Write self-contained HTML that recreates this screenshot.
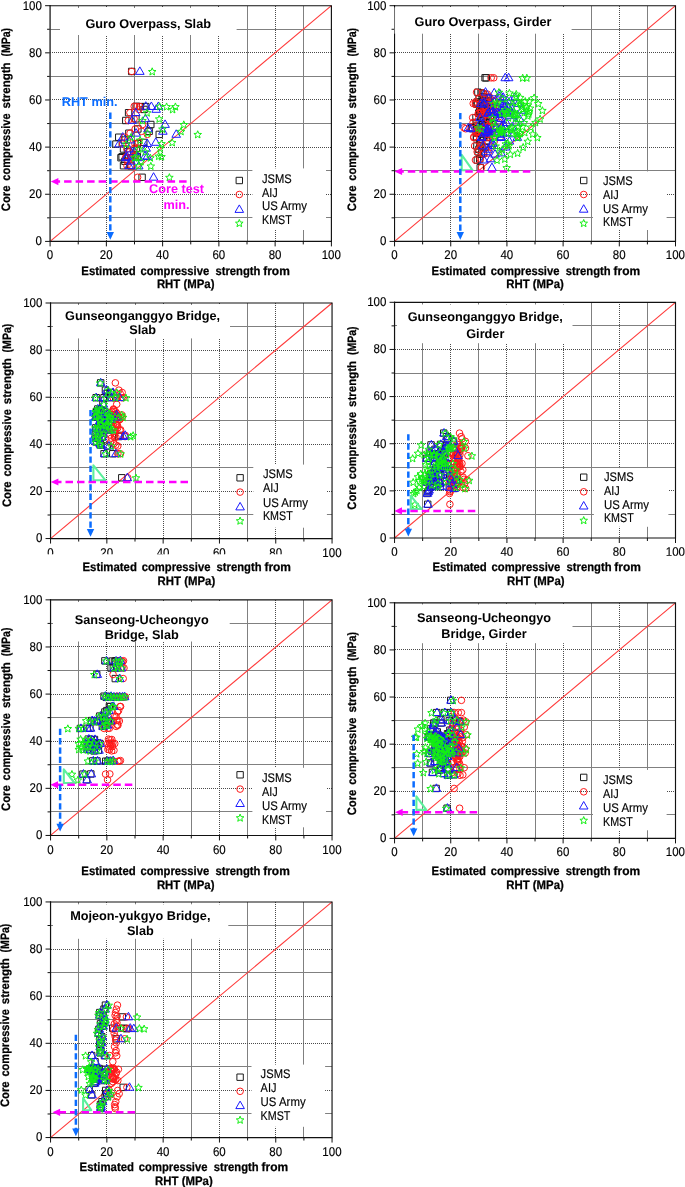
<!DOCTYPE html>
<html lang="en"><head><meta charset="utf-8"><title>RHT vs core compressive strength</title>
<style>
html,body{margin:0;padding:0;background:#fff}
body{width:685px;height:1187px;overflow:hidden}
svg{display:block;will-change:transform;text-rendering:geometricPrecision}
text{font-family:"Liberation Sans", Arial, Helvetica, sans-serif;fill:#000}
.gmin{stroke:#808080;stroke-width:1;fill:none}
.gmaj{stroke:#4a4a4a;stroke-width:1;stroke-dasharray:1 1;fill:none}
.diag{stroke:#ff3a3a;stroke-width:1.1;fill:none}
.mJ{stroke-width:1;stroke:#1c1c1c;fill:none}
.mA{stroke-width:1;stroke:#ff1a1a;fill:none}
.mU{stroke-width:1;stroke:#1a1aff;fill:none;stroke-linejoin:miter}
.mK{stroke-width:1;stroke:#12f012;fill:none;stroke-linejoin:miter}
.gtri{stroke:#5cf09c;stroke-width:2.1;fill:none;stroke-linejoin:round}
.mag{stroke:#ff00ff;stroke-width:2.5;stroke-dasharray:7.5 4;fill:none}
.blu{stroke:#0a6cff;stroke-width:2.5;stroke-dasharray:6.3 3;fill:none}
.tk{stroke:#111;stroke-width:1;fill:none}
.fr{stroke:#111;stroke-width:1.15;fill:none}
.tl{font-size:12.7px;stroke:#000;stroke-width:.15}
.at{font-size:12.2px;font-weight:bold;stroke:#000;stroke-width:.25}
.yt{font-size:12.2px;font-weight:bold;stroke:#000;stroke-width:.25}
.ti{font-size:12.7px;font-weight:bold;fill:#000}
.an{font-size:12.7px;font-weight:bold}
.ab{fill:#0a6cff}
.am{fill:#ff00ff}
.lg{font-size:12.6px;stroke:#000;stroke-width:.15}
</style></head><body>
<svg width="685" height="1187" viewBox="0 0 685 1187">
<rect width="685" height="1187" fill="#fff"/>
<defs>
<clipPath id="clip3"><path d="M0 0H685V554.3H0ZM320 554.3H685V590H320Z"/></clipPath>
<clipPath id="clip4"><path d="M0 0H685V555.7H0ZM685 555.7H685V590H685Z"/></clipPath>
</defs>
<g id="plot1">
<path d="M78.5 6V241.4M50 217.5H331.4M134.5 6V241.4M50 170.5H331.4M190.5 6V241.4M50 123.5H331.4M247.5 6V241.4M50 76.5H331.4M303.5 6V241.4M50 29.5H331.4" class="gmin"/>
<path d="M106.5 6V241.4M50 194.5H331.4M162.5 6V241.4M50 147.5H331.4M218.5 6V241.4M50 99.5H331.4M275.5 6V241.4M50 52.5H331.4" class="gmaj"/>
<rect x="60" y="8" width="176.6" height="27" fill="#fff"/>
<rect x="252.4" y="168.4" width="73.6" height="61.6" fill="#fff"/>
<path d="M50.1 241.4L331.4 5.7" class="diag"/>
<path d="M128.48 68.26h6.4v6.4h-6.4ZM138.89 174.09h6.4v6.4h-6.4ZM142.54 103.38h6.4v6.4h-6.4ZM137.2 103.38h6.4v6.4h-6.4ZM125.38 109.51h6.4v6.4h-6.4ZM122.57 117.29h6.4v6.4h-6.4ZM147.61 121.29h6.4v6.4h-6.4ZM134.67 125.77h6.4v6.4h-6.4ZM115.54 134.02h6.4v6.4h-6.4ZM156.04 131.19h6.4v6.4h-6.4ZM112.72 140.86h6.4v6.4h-6.4ZM140.57 139.21h6.4v6.4h-6.4ZM120.32 145.81h6.4v6.4h-6.4ZM117.79 154.53h6.4v6.4h-6.4ZM120.32 162.54h6.4v6.4h-6.4ZM127.35 154.53h6.4v6.4h-6.4ZM125.66 130.01h6.4v6.4h-6.4ZM145.92 128.13h6.4v6.4h-6.4ZM140.85 106.21h6.4v6.4h-6.4ZM134.1 153.35h6.4v6.4h-6.4ZM133.26 145.1h6.4v6.4h-6.4ZM134.1 140.38h6.4v6.4h-6.4ZM132.42 152.88h6.4v6.4h-6.4ZM127.63 162.78h6.4v6.4h-6.4ZM118.91 153.58h6.4v6.4h-6.4ZM121.73 158.06h6.4v6.4h-6.4ZM124.26 148.63h6.4v6.4h-6.4ZM132.7 115.64h6.4v6.4h-6.4ZM132.98 103.14h6.4v6.4h-6.4ZM121.16 136.85h6.4v6.4h-6.4ZM236.1 177.3h6.4v6.4h-6.4Z" class="mJ"/>
<path d="M128.38 71.46a3.3 3.3 0 1 0 6.6 0a3.3 3.3 0 1 0 -6.6 0ZM134.31 177.29a3.3 3.3 0 1 0 6.6 0a3.3 3.3 0 1 0 -6.6 0ZM136.39 106.58a3.3 3.3 0 1 0 6.6 0a3.3 3.3 0 1 0 -6.6 0ZM133.35 106.58a3.3 3.3 0 1 0 6.6 0a3.3 3.3 0 1 0 -6.6 0ZM126.61 112.71a3.3 3.3 0 1 0 6.6 0a3.3 3.3 0 1 0 -6.6 0ZM125.01 120.49a3.3 3.3 0 1 0 6.6 0a3.3 3.3 0 1 0 -6.6 0ZM139.28 124.49a3.3 3.3 0 1 0 6.6 0a3.3 3.3 0 1 0 -6.6 0ZM131.9 128.97a3.3 3.3 0 1 0 6.6 0a3.3 3.3 0 1 0 -6.6 0ZM121 137.22a3.3 3.3 0 1 0 6.6 0a3.3 3.3 0 1 0 -6.6 0ZM144.09 134.39a3.3 3.3 0 1 0 6.6 0a3.3 3.3 0 1 0 -6.6 0ZM119.4 144.06a3.3 3.3 0 1 0 6.6 0a3.3 3.3 0 1 0 -6.6 0ZM135.27 142.41a3.3 3.3 0 1 0 6.6 0a3.3 3.3 0 1 0 -6.6 0ZM123.73 149.01a3.3 3.3 0 1 0 6.6 0a3.3 3.3 0 1 0 -6.6 0ZM122.28 157.73a3.3 3.3 0 1 0 6.6 0a3.3 3.3 0 1 0 -6.6 0ZM123.73 165.74a3.3 3.3 0 1 0 6.6 0a3.3 3.3 0 1 0 -6.6 0ZM127.74 157.73a3.3 3.3 0 1 0 6.6 0a3.3 3.3 0 1 0 -6.6 0ZM126.77 133.21a3.3 3.3 0 1 0 6.6 0a3.3 3.3 0 1 0 -6.6 0ZM138.32 131.33a3.3 3.3 0 1 0 6.6 0a3.3 3.3 0 1 0 -6.6 0ZM135.43 109.41a3.3 3.3 0 1 0 6.6 0a3.3 3.3 0 1 0 -6.6 0ZM131.58 156.55a3.3 3.3 0 1 0 6.6 0a3.3 3.3 0 1 0 -6.6 0ZM131.1 148.3a3.3 3.3 0 1 0 6.6 0a3.3 3.3 0 1 0 -6.6 0ZM131.58 143.58a3.3 3.3 0 1 0 6.6 0a3.3 3.3 0 1 0 -6.6 0ZM130.62 156.08a3.3 3.3 0 1 0 6.6 0a3.3 3.3 0 1 0 -6.6 0ZM127.9 165.98a3.3 3.3 0 1 0 6.6 0a3.3 3.3 0 1 0 -6.6 0ZM122.93 156.78a3.3 3.3 0 1 0 6.6 0a3.3 3.3 0 1 0 -6.6 0ZM124.53 161.26a3.3 3.3 0 1 0 6.6 0a3.3 3.3 0 1 0 -6.6 0ZM125.97 151.83a3.3 3.3 0 1 0 6.6 0a3.3 3.3 0 1 0 -6.6 0ZM130.78 118.84a3.3 3.3 0 1 0 6.6 0a3.3 3.3 0 1 0 -6.6 0ZM130.94 106.34a3.3 3.3 0 1 0 6.6 0a3.3 3.3 0 1 0 -6.6 0ZM124.21 140.05a3.3 3.3 0 1 0 6.6 0a3.3 3.3 0 1 0 -6.6 0ZM236 194.5a3.3 3.3 0 1 0 6.6 0a3.3 3.3 0 1 0 -6.6 0Z" class="mA"/>
<path d="M139.83 66.86L135.53 74.36L144.13 74.36ZM153.57 172.69L149.27 180.19L157.87 180.19ZM158.4 101.98L154.1 109.48L162.7 109.48ZM151.35 101.98L147.05 109.48L155.65 109.48ZM135.75 108.11L131.45 115.61L140.05 115.61ZM132.04 115.89L127.74 123.39L136.34 123.39ZM165.08 119.89L160.78 127.39L169.38 127.39ZM148 124.37L143.7 131.87L152.3 131.87ZM122.75 132.62L118.45 140.12L127.05 140.12ZM176.22 129.79L171.92 137.29L180.52 137.29ZM119.04 139.46L114.74 146.96L123.34 146.96ZM155.8 137.81L151.5 145.31L160.1 145.31ZM129.07 144.41L124.77 151.91L133.37 151.91ZM125.72 153.13L121.42 160.63L130.02 160.63ZM129.07 161.14L124.77 168.64L133.37 168.64ZM138.35 153.13L134.05 160.63L142.65 160.63ZM136.12 128.61L131.82 136.11L140.42 136.11ZM162.86 126.73L158.56 134.23L167.16 134.23ZM156.17 104.81L151.87 112.31L160.47 112.31ZM147.26 151.95L142.96 159.45L151.56 159.45ZM146.15 143.7L141.85 151.2L150.45 151.2ZM147.26 138.98L142.96 146.48L151.56 146.48ZM145.03 151.48L140.73 158.98L149.33 158.98ZM138.72 161.38L134.42 168.88L143.02 168.88ZM127.21 152.18L122.91 159.68L131.51 159.68ZM130.92 156.66L126.62 164.16L135.22 164.16ZM134.26 147.23L129.96 154.73L138.56 154.73ZM145.4 114.24L141.1 121.74L149.7 121.74ZM145.78 101.74L141.48 109.24L150.08 109.24ZM130.18 135.45L125.88 142.95L134.48 142.95ZM239.3 204.9L235 212.4L243.6 212.4Z" class="mU"/>
<path d="M152.21 67.81L153.24 70.39L156.02 70.57L153.88 72.35L154.56 75.05L152.21 73.56L149.86 75.05L150.55 72.35L148.41 70.57L151.18 70.39ZM169.39 173.64L170.41 176.22L173.19 176.4L171.05 178.18L171.74 180.88L169.39 179.39L167.03 180.88L167.72 178.18L165.58 176.4L168.36 176.22ZM175.42 102.93L176.45 105.51L179.22 105.69L177.08 107.47L177.77 110.17L175.42 108.68L173.07 110.17L173.75 107.47L171.61 105.69L174.39 105.51ZM166.6 102.93L167.63 105.51L170.4 105.69L168.26 107.47L168.95 110.17L166.6 108.68L164.25 110.17L164.94 107.47L162.8 105.69L165.57 105.51ZM147.11 109.06L148.13 111.64L150.91 111.82L148.77 113.6L149.46 116.29L147.11 114.81L144.76 116.29L145.44 113.6L143.3 111.82L146.08 111.64ZM142.46 116.84L143.49 119.42L146.27 119.6L144.13 121.38L144.82 124.07L142.46 122.59L140.11 124.07L140.8 121.38L138.66 119.6L141.44 119.42ZM183.77 120.84L184.8 123.43L187.58 123.61L185.44 125.38L186.12 128.08L183.77 126.59L181.42 128.08L182.11 125.38L179.97 123.61L182.75 123.43ZM162.42 125.32L163.45 127.91L166.23 128.09L164.09 129.86L164.77 132.56L162.42 131.07L160.07 132.56L160.76 129.86L158.62 128.09L161.39 127.91ZM130.86 133.57L131.89 136.15L134.67 136.33L132.53 138.11L133.21 140.81L130.86 139.32L128.51 140.81L129.2 138.11L127.06 136.33L129.83 136.15ZM197.7 130.74L198.73 133.33L201.5 133.51L199.36 135.28L200.05 137.98L197.7 136.49L195.35 137.98L196.03 135.28L193.89 133.51L196.67 133.33ZM126.22 140.41L127.25 142.99L130.02 143.17L127.88 144.95L128.57 147.64L126.22 146.16L123.87 147.64L124.56 144.95L122.42 143.17L125.19 142.99ZM172.17 138.76L173.2 141.34L175.97 141.52L173.83 143.3L174.52 145.99L172.17 144.51L169.82 145.99L170.51 143.3L168.37 141.52L171.14 141.34ZM138.75 145.36L139.78 147.94L142.56 148.12L140.42 149.9L141.1 152.59L138.75 151.11L136.4 152.59L137.09 149.9L134.95 148.12L137.72 147.94ZM134.57 154.08L135.6 156.66L138.38 156.84L136.24 158.62L136.93 161.31L134.57 159.83L132.22 161.31L132.91 158.62L130.77 156.84L133.55 156.66ZM138.75 162.09L139.78 164.67L142.56 164.85L140.42 166.63L141.1 169.33L138.75 167.84L136.4 169.33L137.09 166.63L134.95 164.85L137.72 164.67ZM150.36 154.08L151.38 156.66L154.16 156.84L152.02 158.62L152.71 161.31L150.36 159.83L148 161.31L148.69 158.62L146.55 156.84L149.33 156.66ZM147.57 129.56L148.6 132.15L151.37 132.33L149.23 134.1L149.92 136.8L147.57 135.31L145.22 136.8L145.91 134.1L143.77 132.33L146.54 132.15ZM180.99 127.68L182.02 130.26L184.79 130.44L182.65 132.22L183.34 134.91L180.99 133.43L178.64 134.91L179.32 132.22L177.18 130.44L179.96 130.26ZM172.63 105.76L173.66 108.34L176.44 108.52L174.3 110.3L174.99 112.99L172.63 111.51L170.28 112.99L170.97 110.3L168.83 108.52L171.61 108.34ZM161.49 152.9L162.52 155.48L165.3 155.66L163.16 157.44L163.85 160.13L161.49 158.65L159.14 160.13L159.83 157.44L157.69 155.66L160.47 155.48ZM160.1 144.65L161.13 147.23L163.91 147.41L161.77 149.19L162.45 151.88L160.1 150.4L157.75 151.88L158.44 149.19L156.3 147.41L159.07 147.23ZM161.49 139.93L162.52 142.52L165.3 142.7L163.16 144.48L163.85 147.17L161.49 145.68L159.14 147.17L159.83 144.48L157.69 142.7L160.47 142.52ZM158.71 152.43L159.74 155.01L162.51 155.19L160.37 156.97L161.06 159.66L158.71 158.18L156.36 159.66L157.05 156.97L154.91 155.19L157.68 155.01ZM150.82 162.33L151.85 164.91L154.62 165.09L152.48 166.87L153.17 169.56L150.82 168.08L148.47 169.56L149.16 166.87L147.02 165.09L149.79 164.91ZM136.43 153.13L137.46 155.72L140.24 155.9L138.1 157.67L138.78 160.37L136.43 158.88L134.08 160.37L134.77 157.67L132.63 155.9L135.4 155.72ZM141.07 157.61L142.1 160.2L144.88 160.38L142.74 162.15L143.42 164.85L141.07 163.36L138.72 164.85L139.41 162.15L137.27 160.38L140.04 160.2ZM145.25 148.18L146.28 150.77L149.05 150.95L146.91 152.72L147.6 155.42L145.25 153.93L142.9 155.42L143.59 152.72L141.45 150.95L144.22 150.77ZM159.17 115.19L160.2 117.77L162.98 117.95L160.84 119.73L161.53 122.42L159.17 120.94L156.82 122.42L157.51 119.73L155.37 117.95L158.15 117.77ZM159.64 102.69L160.67 105.28L163.44 105.46L161.3 107.23L161.99 109.93L159.64 108.44L157.29 109.93L157.97 107.23L155.83 105.46L158.61 105.28ZM140.14 136.4L141.17 138.98L143.95 139.16L141.81 140.94L142.5 143.64L140.14 142.15L137.79 143.64L138.48 140.94L136.34 139.16L139.12 138.98ZM239.3 219.45L240.33 222.03L243.1 222.21L240.96 223.99L241.65 226.69L239.3 225.2L236.95 226.69L237.64 223.99L235.5 222.21L238.27 222.03Z" class="mK"/>
<path d="M186.6 181.53H57.8" class="mag"/>
<path d="M50.8 181.53l7.6 -3.6v7.2Z" fill="#ff00ff"/>
<path d="M110.3 112.6V233.5" class="blu"/>
<path d="M110.3 239.8l-3.7 -7.8h7.4Z" fill="#0a6cff"/>
<path d="M50.1 241.4v5M50.1 241.4h-5M78.23 241.4v3M50.1 217.83h-3M106.36 241.4v5M50.1 194.26h-5M134.49 241.4v3M50.1 170.69h-3M162.62 241.4v5M50.1 147.12h-5M190.75 241.4v3M50.1 123.55h-3M218.88 241.4v5M50.1 99.98h-5M247.01 241.4v3M50.1 76.41h-3M275.14 241.4v5M50.1 52.84h-5M303.27 241.4v3M50.1 29.27h-3M331.4 241.4v5M50.1 5.7h-5" class="tk"/>
<path d="M50.1 5.1V242" stroke="#3a3a3a" stroke-width="1.5" fill="none"/>
<path d="M49.5 5.7H331.4V241.4H49.5" class="fr"/>
<text x="46.8" y="259" class="tl" textLength="6.4" lengthAdjust="spacingAndGlyphs">0</text>
<text x="99.86" y="259" class="tl" textLength="12.8" lengthAdjust="spacingAndGlyphs">20</text>
<text x="156.12" y="259" class="tl" textLength="12.8" lengthAdjust="spacingAndGlyphs">40</text>
<text x="212.38" y="259" class="tl" textLength="12.8" lengthAdjust="spacingAndGlyphs">60</text>
<text x="268.64" y="259" class="tl" textLength="12.8" lengthAdjust="spacingAndGlyphs">80</text>
<text x="321.7" y="259" class="tl" textLength="19.2" lengthAdjust="spacingAndGlyphs">100</text>
<text x="35.5" y="245.3" class="tl" textLength="6.4" lengthAdjust="spacingAndGlyphs">0</text>
<text x="29.1" y="198.16" class="tl" textLength="12.8" lengthAdjust="spacingAndGlyphs">20</text>
<text x="29.1" y="151.02" class="tl" textLength="12.8" lengthAdjust="spacingAndGlyphs">40</text>
<text x="29.1" y="103.88" class="tl" textLength="12.8" lengthAdjust="spacingAndGlyphs">60</text>
<text x="29.1" y="56.74" class="tl" textLength="12.8" lengthAdjust="spacingAndGlyphs">80</text>
<text x="22.7" y="9.6" class="tl" textLength="19.2" lengthAdjust="spacingAndGlyphs">100</text>
<text x="81.3" y="274.9" class="at" textLength="54.4" lengthAdjust="spacingAndGlyphs">Estimated</text>
<text x="140.5" y="274.9" class="at" textLength="68.7" lengthAdjust="spacingAndGlyphs">compressive</text>
<text x="215.4" y="274.9" class="at" textLength="45" lengthAdjust="spacingAndGlyphs">strength</text>
<text x="263.2" y="274.9" class="at" textLength="26.6" lengthAdjust="spacingAndGlyphs">from</text>
<text x="156.9" y="288.4" class="at" textLength="57.6" lengthAdjust="spacingAndGlyphs">RHT (MPa)</text>
<g transform="translate(10.1 211.2) rotate(-90)">
<text x="0" y="0" class="yt" textLength="25.6" lengthAdjust="spacingAndGlyphs">Core</text>
<text x="30.5" y="0" class="yt" textLength="67.3" lengthAdjust="spacingAndGlyphs">compressive</text>
<text x="102.8" y="0" class="yt" textLength="46" lengthAdjust="spacingAndGlyphs">strength</text>
<text x="154.6" y="0" class="yt" textLength="28.7" lengthAdjust="spacingAndGlyphs">(MPa)</text>
</g>
<text x="148.2" y="28" class="ti" text-anchor="middle">Guro Overpass, Slab</text>
<text x="262" y="182.7" class="lg" textLength="29.8" lengthAdjust="spacingAndGlyphs">JSMS</text>
<text x="262" y="196.9" class="lg" textLength="15.8" lengthAdjust="spacingAndGlyphs">AIJ</text>
<text x="262" y="210.4" class="lg" textLength="45" lengthAdjust="spacingAndGlyphs">US Army</text>
<text x="262" y="224.4" class="lg" textLength="29.8" lengthAdjust="spacingAndGlyphs">KMST</text>
<text x="61.8" y="105.9" class="an ab">RHT min.</text>
<text x="176.6" y="193.1" class="an am" text-anchor="middle">Core test</text>
<text x="176.6" y="208.5" class="an am" text-anchor="middle">min.</text>
</g>
<g id="plot2">
<path d="M422.5 6V241.4M395 217.5H675.5M478.5 6V241.4M395 170.5H675.5M535.5 6V241.4M395 123.5H675.5M591.5 6V241.4M395 76.5H675.5M647.5 6V241.4M395 29.5H675.5" class="gmin"/>
<path d="M450.5 6V241.4M395 194.5H675.5M506.5 6V241.4M395 147.5H675.5M563.5 6V241.4M395 99.5H675.5M619.5 6V241.4M395 52.5H675.5" class="gmaj"/>
<rect x="393" y="7.3" width="178.6" height="26.4" fill="#fff"/>
<rect x="593" y="171.4" width="73.6" height="58.6" fill="#fff"/>
<path d="M394.55 241.4L675.5 5.7" class="diag"/>
<path d="M481.86 74.62h6.4v6.4h-6.4ZM483.1 74.62h6.4v6.4h-6.4ZM477.04 164.43h6.4v6.4h-6.4ZM468.5 124.59h6.4v6.4h-6.4ZM469.33 125.54h6.4v6.4h-6.4ZM474.7 89h6.4v6.4h-6.4ZM477.87 89.71h6.4v6.4h-6.4ZM474.15 156.88h6.4v6.4h-6.4ZM474.97 148.63h6.4v6.4h-6.4ZM476.49 155.71h6.4v6.4h-6.4ZM487.78 107.15h6.4v6.4h-6.4ZM486.26 134.26h6.4v6.4h-6.4ZM484.89 130.72h6.4v6.4h-6.4ZM486.54 100.32h6.4v6.4h-6.4ZM487.09 115.64h6.4v6.4h-6.4ZM485.3 94.42h6.4v6.4h-6.4ZM479.93 90.89h6.4v6.4h-6.4ZM482 143.92h6.4v6.4h-6.4ZM480.34 149.81h6.4v6.4h-6.4ZM478.14 150.99h6.4v6.4h-6.4ZM483.37 138.03h6.4v6.4h-6.4ZM484.34 123.89h6.4v6.4h-6.4ZM485.71 119.17h6.4v6.4h-6.4ZM473.05 100.32h6.4v6.4h-6.4ZM472.77 114.46h6.4v6.4h-6.4ZM473.32 134.49h6.4v6.4h-6.4ZM473.74 142.74h6.4v6.4h-6.4ZM482.98 103.95h6.4v6.4h-6.4ZM484.07 104.84h6.4v6.4h-6.4ZM476.09 126.49h6.4v6.4h-6.4ZM475.08 129.16h6.4v6.4h-6.4ZM479.87 98.89h6.4v6.4h-6.4ZM475.25 128.14h6.4v6.4h-6.4ZM474.08 98.88h6.4v6.4h-6.4ZM480.55 122.9h6.4v6.4h-6.4ZM483.8 97.76h6.4v6.4h-6.4ZM473.47 122.8h6.4v6.4h-6.4ZM480.24 131.21h6.4v6.4h-6.4ZM483.39 112.6h6.4v6.4h-6.4ZM482.96 103.59h6.4v6.4h-6.4ZM474.21 130.04h6.4v6.4h-6.4ZM480.31 115.5h6.4v6.4h-6.4ZM478.14 126.38h6.4v6.4h-6.4ZM480.24 128.58h6.4v6.4h-6.4ZM477.23 108.49h6.4v6.4h-6.4ZM483.69 110.65h6.4v6.4h-6.4ZM475.43 125.85h6.4v6.4h-6.4ZM477.02 129.88h6.4v6.4h-6.4ZM481.14 130.13h6.4v6.4h-6.4ZM480.36 133.63h6.4v6.4h-6.4ZM480.38 134.38h6.4v6.4h-6.4ZM474.1 101.1h6.4v6.4h-6.4ZM473.33 133.67h6.4v6.4h-6.4ZM475.11 128.14h6.4v6.4h-6.4ZM477.76 98.55h6.4v6.4h-6.4ZM477.71 142.4h6.4v6.4h-6.4ZM481.47 103.35h6.4v6.4h-6.4ZM478.37 125h6.4v6.4h-6.4ZM481.12 94.16h6.4v6.4h-6.4ZM472.98 119.23h6.4v6.4h-6.4ZM479.31 108.92h6.4v6.4h-6.4ZM481.4 101.24h6.4v6.4h-6.4ZM478.76 102.99h6.4v6.4h-6.4ZM476.81 109.88h6.4v6.4h-6.4ZM480.23 110.46h6.4v6.4h-6.4ZM475.52 110.15h6.4v6.4h-6.4ZM477.99 109.52h6.4v6.4h-6.4ZM478.66 130.13h6.4v6.4h-6.4ZM476.63 106.52h6.4v6.4h-6.4ZM479.89 93.33h6.4v6.4h-6.4ZM481.17 100.54h6.4v6.4h-6.4ZM476.76 140.58h6.4v6.4h-6.4ZM480.59 123.55h6.4v6.4h-6.4ZM479.54 110.88h6.4v6.4h-6.4ZM482.48 129.24h6.4v6.4h-6.4ZM481.76 123.36h6.4v6.4h-6.4ZM479.68 115.09h6.4v6.4h-6.4ZM475.87 95.56h6.4v6.4h-6.4ZM475.74 146.11h6.4v6.4h-6.4ZM475.1 126.01h6.4v6.4h-6.4ZM475.82 109.77h6.4v6.4h-6.4ZM479.5 111.58h6.4v6.4h-6.4ZM482.23 119.34h6.4v6.4h-6.4ZM481.96 105.92h6.4v6.4h-6.4ZM475.82 128.66h6.4v6.4h-6.4ZM477.39 139.9h6.4v6.4h-6.4ZM482.33 109.26h6.4v6.4h-6.4ZM478.57 123.59h6.4v6.4h-6.4ZM483.82 107.92h6.4v6.4h-6.4ZM477.57 114.57h6.4v6.4h-6.4ZM482.64 97.95h6.4v6.4h-6.4ZM580.5 177.3h6.4v6.4h-6.4Z" class="mJ"/>
<path d="M487.9 77.82a3.3 3.3 0 1 0 6.6 0a3.3 3.3 0 1 0 -6.6 0ZM490.43 77.82a3.3 3.3 0 1 0 6.6 0a3.3 3.3 0 1 0 -6.6 0ZM478.06 167.63a3.3 3.3 0 1 0 6.6 0a3.3 3.3 0 1 0 -6.6 0ZM460.64 127.79a3.3 3.3 0 1 0 6.6 0a3.3 3.3 0 1 0 -6.6 0ZM462.33 128.74a3.3 3.3 0 1 0 6.6 0a3.3 3.3 0 1 0 -6.6 0ZM473.29 92.2a3.3 3.3 0 1 0 6.6 0a3.3 3.3 0 1 0 -6.6 0ZM479.75 92.91a3.3 3.3 0 1 0 6.6 0a3.3 3.3 0 1 0 -6.6 0ZM472.16 160.08a3.3 3.3 0 1 0 6.6 0a3.3 3.3 0 1 0 -6.6 0ZM473.85 151.83a3.3 3.3 0 1 0 6.6 0a3.3 3.3 0 1 0 -6.6 0ZM476.94 158.91a3.3 3.3 0 1 0 6.6 0a3.3 3.3 0 1 0 -6.6 0ZM499.98 110.35a3.3 3.3 0 1 0 6.6 0a3.3 3.3 0 1 0 -6.6 0ZM496.89 137.46a3.3 3.3 0 1 0 6.6 0a3.3 3.3 0 1 0 -6.6 0ZM494.08 133.92a3.3 3.3 0 1 0 6.6 0a3.3 3.3 0 1 0 -6.6 0ZM497.45 103.52a3.3 3.3 0 1 0 6.6 0a3.3 3.3 0 1 0 -6.6 0ZM498.57 118.84a3.3 3.3 0 1 0 6.6 0a3.3 3.3 0 1 0 -6.6 0ZM494.92 97.62a3.3 3.3 0 1 0 6.6 0a3.3 3.3 0 1 0 -6.6 0ZM483.96 94.09a3.3 3.3 0 1 0 6.6 0a3.3 3.3 0 1 0 -6.6 0ZM488.18 147.12a3.3 3.3 0 1 0 6.6 0a3.3 3.3 0 1 0 -6.6 0ZM484.81 153.01a3.3 3.3 0 1 0 6.6 0a3.3 3.3 0 1 0 -6.6 0ZM480.31 154.19a3.3 3.3 0 1 0 6.6 0a3.3 3.3 0 1 0 -6.6 0ZM490.99 141.23a3.3 3.3 0 1 0 6.6 0a3.3 3.3 0 1 0 -6.6 0ZM492.95 127.09a3.3 3.3 0 1 0 6.6 0a3.3 3.3 0 1 0 -6.6 0ZM495.76 122.37a3.3 3.3 0 1 0 6.6 0a3.3 3.3 0 1 0 -6.6 0ZM469.92 103.52a3.3 3.3 0 1 0 6.6 0a3.3 3.3 0 1 0 -6.6 0ZM469.35 117.66a3.3 3.3 0 1 0 6.6 0a3.3 3.3 0 1 0 -6.6 0ZM470.48 137.69a3.3 3.3 0 1 0 6.6 0a3.3 3.3 0 1 0 -6.6 0ZM471.32 145.94a3.3 3.3 0 1 0 6.6 0a3.3 3.3 0 1 0 -6.6 0ZM490.2 107.15a3.3 3.3 0 1 0 6.6 0a3.3 3.3 0 1 0 -6.6 0ZM492.42 108.04a3.3 3.3 0 1 0 6.6 0a3.3 3.3 0 1 0 -6.6 0ZM476.12 129.69a3.3 3.3 0 1 0 6.6 0a3.3 3.3 0 1 0 -6.6 0ZM474.07 132.36a3.3 3.3 0 1 0 6.6 0a3.3 3.3 0 1 0 -6.6 0ZM483.84 102.09a3.3 3.3 0 1 0 6.6 0a3.3 3.3 0 1 0 -6.6 0ZM474.42 131.34a3.3 3.3 0 1 0 6.6 0a3.3 3.3 0 1 0 -6.6 0ZM472.03 102.08a3.3 3.3 0 1 0 6.6 0a3.3 3.3 0 1 0 -6.6 0ZM485.23 126.1a3.3 3.3 0 1 0 6.6 0a3.3 3.3 0 1 0 -6.6 0ZM491.86 100.96a3.3 3.3 0 1 0 6.6 0a3.3 3.3 0 1 0 -6.6 0ZM470.77 126a3.3 3.3 0 1 0 6.6 0a3.3 3.3 0 1 0 -6.6 0ZM484.59 134.41a3.3 3.3 0 1 0 6.6 0a3.3 3.3 0 1 0 -6.6 0ZM491.02 115.8a3.3 3.3 0 1 0 6.6 0a3.3 3.3 0 1 0 -6.6 0ZM490.14 106.79a3.3 3.3 0 1 0 6.6 0a3.3 3.3 0 1 0 -6.6 0ZM472.3 133.24a3.3 3.3 0 1 0 6.6 0a3.3 3.3 0 1 0 -6.6 0ZM484.73 118.7a3.3 3.3 0 1 0 6.6 0a3.3 3.3 0 1 0 -6.6 0ZM480.31 129.58a3.3 3.3 0 1 0 6.6 0a3.3 3.3 0 1 0 -6.6 0ZM484.6 131.78a3.3 3.3 0 1 0 6.6 0a3.3 3.3 0 1 0 -6.6 0ZM478.45 111.69a3.3 3.3 0 1 0 6.6 0a3.3 3.3 0 1 0 -6.6 0ZM491.63 113.85a3.3 3.3 0 1 0 6.6 0a3.3 3.3 0 1 0 -6.6 0ZM474.78 129.05a3.3 3.3 0 1 0 6.6 0a3.3 3.3 0 1 0 -6.6 0ZM478.02 133.08a3.3 3.3 0 1 0 6.6 0a3.3 3.3 0 1 0 -6.6 0ZM486.44 133.33a3.3 3.3 0 1 0 6.6 0a3.3 3.3 0 1 0 -6.6 0ZM484.84 136.83a3.3 3.3 0 1 0 6.6 0a3.3 3.3 0 1 0 -6.6 0ZM484.88 137.58a3.3 3.3 0 1 0 6.6 0a3.3 3.3 0 1 0 -6.6 0ZM472.07 104.3a3.3 3.3 0 1 0 6.6 0a3.3 3.3 0 1 0 -6.6 0ZM470.49 136.87a3.3 3.3 0 1 0 6.6 0a3.3 3.3 0 1 0 -6.6 0ZM474.12 131.34a3.3 3.3 0 1 0 6.6 0a3.3 3.3 0 1 0 -6.6 0ZM479.53 101.75a3.3 3.3 0 1 0 6.6 0a3.3 3.3 0 1 0 -6.6 0ZM479.43 145.6a3.3 3.3 0 1 0 6.6 0a3.3 3.3 0 1 0 -6.6 0ZM487.1 106.55a3.3 3.3 0 1 0 6.6 0a3.3 3.3 0 1 0 -6.6 0ZM480.79 128.2a3.3 3.3 0 1 0 6.6 0a3.3 3.3 0 1 0 -6.6 0ZM486.4 97.36a3.3 3.3 0 1 0 6.6 0a3.3 3.3 0 1 0 -6.6 0ZM469.78 122.43a3.3 3.3 0 1 0 6.6 0a3.3 3.3 0 1 0 -6.6 0ZM482.69 112.12a3.3 3.3 0 1 0 6.6 0a3.3 3.3 0 1 0 -6.6 0ZM486.96 104.44a3.3 3.3 0 1 0 6.6 0a3.3 3.3 0 1 0 -6.6 0ZM481.57 106.19a3.3 3.3 0 1 0 6.6 0a3.3 3.3 0 1 0 -6.6 0ZM477.59 113.08a3.3 3.3 0 1 0 6.6 0a3.3 3.3 0 1 0 -6.6 0ZM484.57 113.66a3.3 3.3 0 1 0 6.6 0a3.3 3.3 0 1 0 -6.6 0ZM474.96 113.35a3.3 3.3 0 1 0 6.6 0a3.3 3.3 0 1 0 -6.6 0ZM480.01 112.72a3.3 3.3 0 1 0 6.6 0a3.3 3.3 0 1 0 -6.6 0ZM481.38 133.33a3.3 3.3 0 1 0 6.6 0a3.3 3.3 0 1 0 -6.6 0ZM477.23 109.72a3.3 3.3 0 1 0 6.6 0a3.3 3.3 0 1 0 -6.6 0ZM483.89 96.53a3.3 3.3 0 1 0 6.6 0a3.3 3.3 0 1 0 -6.6 0ZM486.5 103.74a3.3 3.3 0 1 0 6.6 0a3.3 3.3 0 1 0 -6.6 0ZM477.5 143.78a3.3 3.3 0 1 0 6.6 0a3.3 3.3 0 1 0 -6.6 0ZM485.31 126.75a3.3 3.3 0 1 0 6.6 0a3.3 3.3 0 1 0 -6.6 0ZM483.17 114.08a3.3 3.3 0 1 0 6.6 0a3.3 3.3 0 1 0 -6.6 0ZM489.17 132.44a3.3 3.3 0 1 0 6.6 0a3.3 3.3 0 1 0 -6.6 0ZM487.7 126.56a3.3 3.3 0 1 0 6.6 0a3.3 3.3 0 1 0 -6.6 0ZM483.44 118.29a3.3 3.3 0 1 0 6.6 0a3.3 3.3 0 1 0 -6.6 0ZM475.68 98.76a3.3 3.3 0 1 0 6.6 0a3.3 3.3 0 1 0 -6.6 0ZM475.41 149.31a3.3 3.3 0 1 0 6.6 0a3.3 3.3 0 1 0 -6.6 0ZM474.1 129.21a3.3 3.3 0 1 0 6.6 0a3.3 3.3 0 1 0 -6.6 0ZM475.58 112.97a3.3 3.3 0 1 0 6.6 0a3.3 3.3 0 1 0 -6.6 0ZM483.08 114.78a3.3 3.3 0 1 0 6.6 0a3.3 3.3 0 1 0 -6.6 0ZM488.67 122.54a3.3 3.3 0 1 0 6.6 0a3.3 3.3 0 1 0 -6.6 0ZM488.11 109.12a3.3 3.3 0 1 0 6.6 0a3.3 3.3 0 1 0 -6.6 0ZM475.58 131.86a3.3 3.3 0 1 0 6.6 0a3.3 3.3 0 1 0 -6.6 0ZM478.78 143.1a3.3 3.3 0 1 0 6.6 0a3.3 3.3 0 1 0 -6.6 0ZM488.85 112.46a3.3 3.3 0 1 0 6.6 0a3.3 3.3 0 1 0 -6.6 0ZM481.19 126.79a3.3 3.3 0 1 0 6.6 0a3.3 3.3 0 1 0 -6.6 0ZM491.91 111.12a3.3 3.3 0 1 0 6.6 0a3.3 3.3 0 1 0 -6.6 0ZM479.14 117.77a3.3 3.3 0 1 0 6.6 0a3.3 3.3 0 1 0 -6.6 0ZM489.49 101.15a3.3 3.3 0 1 0 6.6 0a3.3 3.3 0 1 0 -6.6 0ZM580.4 194.5a3.3 3.3 0 1 0 6.6 0a3.3 3.3 0 1 0 -6.6 0Z" class="mA"/>
<path d="M505.23 73.22L500.93 80.72L509.53 80.72ZM508.64 73.22L504.34 80.72L512.94 80.72ZM491.96 163.03L487.66 170.53L496.26 170.53ZM468.44 123.19L464.14 130.69L472.74 130.69ZM470.72 124.14L466.42 131.64L475.02 131.64ZM485.51 87.6L481.21 95.1L489.81 95.1ZM494.23 88.31L489.93 95.81L498.53 95.81ZM483.99 155.48L479.69 162.98L488.29 162.98ZM486.27 147.23L481.97 154.73L490.57 154.73ZM490.44 154.31L486.14 161.81L494.74 161.81ZM521.54 105.75L517.24 113.25L525.84 113.25ZM517.37 132.86L513.07 140.36L521.67 140.36ZM513.57 129.32L509.27 136.82L517.87 136.82ZM518.13 98.92L513.83 106.42L522.43 106.42ZM519.64 114.24L515.34 121.74L523.94 121.74ZM514.71 93.02L510.41 100.52L519.01 100.52ZM499.92 89.49L495.62 96.99L504.22 96.99ZM505.61 142.52L501.31 150.02L509.91 150.02ZM501.06 148.41L496.76 155.91L505.36 155.91ZM494.99 149.59L490.69 157.09L499.29 157.09ZM509.4 136.63L505.1 144.13L513.7 144.13ZM512.06 122.49L507.76 129.99L516.36 129.99ZM515.85 117.77L511.55 125.27L520.15 125.27ZM480.96 98.92L476.66 106.42L485.26 106.42ZM480.2 113.06L475.9 120.56L484.5 120.56ZM481.71 133.09L477.41 140.59L486.01 140.59ZM482.85 141.34L478.55 148.84L487.15 148.84ZM508.33 102.55L504.03 110.05L512.63 110.05ZM511.33 103.44L507.03 110.94L515.63 110.94ZM489.34 125.09L485.04 132.59L493.64 132.59ZM486.56 127.76L482.26 135.26L490.86 135.26ZM499.75 97.49L495.45 104.99L504.05 104.99ZM487.03 126.74L482.73 134.24L491.33 134.24ZM483.81 97.48L479.51 104.98L488.11 104.98ZM501.63 121.5L497.33 129L505.93 129ZM510.58 96.36L506.28 103.86L514.88 103.86ZM482.11 121.4L477.81 128.9L486.41 128.9ZM500.77 129.81L496.47 137.31L505.07 137.31ZM509.44 111.2L505.14 118.7L513.74 118.7ZM508.26 102.19L503.96 109.69L512.56 109.69ZM484.17 128.64L479.87 136.14L488.47 136.14ZM500.96 114.1L496.66 121.6L505.26 121.6ZM494.99 124.98L490.69 132.48L499.29 132.48ZM500.78 127.18L496.48 134.68L505.08 134.68ZM492.48 107.09L488.18 114.59L496.78 114.59ZM510.27 109.25L505.97 116.75L514.57 116.75ZM487.52 124.45L483.22 131.95L491.82 131.95ZM491.9 128.48L487.6 135.98L496.2 135.98ZM503.26 128.73L498.96 136.23L507.56 136.23ZM501.11 132.23L496.81 139.73L505.41 139.73ZM501.16 132.98L496.86 140.48L505.46 140.48ZM483.86 99.7L479.56 107.2L488.16 107.2ZM481.74 132.27L477.44 139.77L486.04 139.77ZM486.64 126.74L482.34 134.24L490.94 134.24ZM493.94 97.15L489.64 104.65L498.24 104.65ZM493.8 141L489.5 148.5L498.1 148.5ZM504.15 101.95L499.85 109.45L508.45 109.45ZM495.63 123.6L491.33 131.1L499.93 131.1ZM503.21 92.76L498.91 100.26L507.51 100.26ZM480.78 117.83L476.48 125.33L485.08 125.33ZM498.2 107.52L493.9 115.02L502.5 115.02ZM503.96 99.84L499.66 107.34L508.26 107.34ZM496.7 101.59L492.4 109.09L501 109.09ZM491.31 108.48L487.01 115.98L495.61 115.98ZM500.74 109.06L496.44 116.56L505.04 116.56ZM487.76 108.75L483.46 116.25L492.06 116.25ZM494.58 108.12L490.28 115.62L498.88 115.62ZM496.43 128.73L492.13 136.23L500.73 136.23ZM490.84 105.12L486.54 112.62L495.14 112.62ZM499.82 91.93L495.52 99.43L504.12 99.43ZM503.34 99.14L499.04 106.64L507.64 106.64ZM491.19 139.18L486.89 146.68L495.49 146.68ZM501.73 122.15L497.43 129.65L506.03 129.65ZM498.85 109.48L494.55 116.98L503.15 116.98ZM506.95 127.84L502.65 135.34L511.25 135.34ZM504.96 121.96L500.66 129.46L509.26 129.46ZM499.22 113.69L494.92 121.19L503.52 121.19ZM488.74 94.16L484.44 101.66L493.04 101.66ZM488.38 144.71L484.08 152.21L492.68 152.21ZM486.61 124.61L482.31 132.11L490.91 132.11ZM488.6 108.37L484.3 115.87L492.9 115.87ZM498.73 110.18L494.43 117.68L503.03 117.68ZM506.27 117.94L501.97 125.44L510.57 125.44ZM505.51 104.52L501.21 112.02L509.81 112.02ZM488.6 127.26L484.3 134.76L492.9 134.76ZM492.92 138.5L488.62 146L497.22 146ZM506.52 107.86L502.22 115.36L510.82 115.36ZM496.18 122.19L491.88 129.69L500.48 129.69ZM510.65 106.52L506.35 114.02L514.95 114.02ZM493.41 113.17L489.11 120.67L497.71 120.67ZM507.38 96.55L503.08 104.05L511.68 104.05ZM583.7 204.7L579.4 212.2L588 212.2Z" class="mU"/>
<path d="M522.69 74.17L523.72 76.76L526.5 76.94L524.36 78.71L525.05 81.41L522.69 79.92L520.34 81.41L521.03 78.71L518.89 76.94L521.67 76.76ZM526.82 74.17L527.84 76.76L530.62 76.94L528.48 78.71L529.17 81.41L526.82 79.92L524.46 81.41L525.15 78.71L523.01 76.94L525.79 76.76ZM506.67 163.98L507.69 166.56L510.47 166.74L508.33 168.52L509.02 171.21L506.67 169.73L504.31 171.21L505 168.52L502.86 166.74L505.64 166.56ZM478.27 124.14L479.3 126.73L482.08 126.91L479.94 128.68L480.62 131.38L478.27 129.89L475.92 131.38L476.61 128.68L474.47 126.91L477.24 126.73ZM481.02 125.09L482.05 127.67L484.83 127.85L482.69 129.63L483.37 132.32L481.02 130.84L478.67 132.32L479.36 129.63L477.22 127.85L479.99 127.67ZM498.88 88.55L499.91 91.14L502.69 91.32L500.55 93.09L501.23 95.79L498.88 94.3L496.53 95.79L497.22 93.09L495.08 91.32L497.85 91.14ZM509.41 89.26L510.44 91.84L513.22 92.02L511.08 93.8L511.76 96.5L509.41 95.01L507.06 96.5L507.75 93.8L505.61 92.02L508.38 91.84ZM497.05 156.43L498.08 159.02L500.85 159.2L498.71 160.97L499.4 163.67L497.05 162.18L494.7 163.67L495.38 160.97L493.24 159.2L496.02 159.02ZM499.8 148.18L500.83 150.77L503.6 150.95L501.46 152.72L502.15 155.42L499.8 153.93L497.45 155.42L498.13 152.72L495.99 150.95L498.77 150.77ZM504.83 155.25L505.86 157.84L508.64 158.02L506.5 159.8L507.19 162.49L504.83 161L502.48 162.49L503.17 159.8L501.03 158.02L503.81 157.84ZM542.39 106.7L543.41 109.29L546.19 109.46L544.05 111.24L544.74 113.94L542.39 112.45L540.03 113.94L540.72 111.24L538.58 109.46L541.36 109.29ZM537.35 133.81L538.38 136.39L541.15 136.57L539.01 138.35L539.7 141.04L537.35 139.56L535 141.04L535.68 138.35L533.54 136.57L536.32 136.39ZM532.77 130.27L533.8 132.86L536.57 133.03L534.43 134.81L535.12 137.51L532.77 136.02L530.42 137.51L531.1 134.81L528.96 133.03L531.74 132.86ZM538.26 99.87L539.29 102.45L542.07 102.63L539.93 104.41L540.62 107.1L538.26 105.62L535.91 107.1L536.6 104.41L534.46 102.63L537.24 102.45ZM540.1 115.19L541.12 117.77L543.9 117.95L541.76 119.73L542.45 122.42L540.1 120.94L537.75 122.42L538.43 119.73L536.29 117.95L539.07 117.77ZM534.14 93.97L535.17 96.56L537.95 96.74L535.81 98.51L536.49 101.21L534.14 99.72L531.79 101.21L532.48 98.51L530.34 96.74L533.11 96.56ZM516.28 90.44L517.31 93.02L520.09 93.2L517.95 94.98L518.63 97.67L516.28 96.19L513.93 97.67L514.62 94.98L512.48 93.2L515.25 93.02ZM523.15 143.47L524.18 146.05L526.96 146.23L524.82 148.01L525.5 150.71L523.15 149.22L520.8 150.71L521.49 148.01L519.35 146.23L522.12 146.05ZM517.66 149.36L518.69 151.95L521.46 152.13L519.32 153.9L520.01 156.6L517.66 155.11L515.31 156.6L515.99 153.9L513.85 152.13L516.63 151.95ZM510.33 150.54L511.36 153.13L514.13 153.3L511.99 155.08L512.68 157.78L510.33 156.29L507.98 157.78L508.67 155.08L506.53 153.3L509.3 153.13ZM527.73 137.58L528.76 140.16L531.54 140.34L529.4 142.12L530.08 144.81L527.73 143.33L525.38 144.81L526.07 142.12L523.93 140.34L526.7 140.16ZM530.94 123.44L531.97 126.02L534.74 126.2L532.6 127.98L533.29 130.67L530.94 129.19L528.59 130.67L529.27 127.98L527.13 126.2L529.91 126.02ZM535.52 118.72L536.55 121.31L539.32 121.49L537.18 123.26L537.87 125.96L535.52 124.47L533.17 125.96L533.85 123.26L531.71 121.49L534.49 121.31ZM493.39 99.87L494.41 102.45L497.19 102.63L495.05 104.41L495.74 107.1L493.39 105.62L491.03 107.1L491.72 104.41L489.58 102.63L492.36 102.45ZM492.47 114.01L493.5 116.59L496.27 116.77L494.13 118.55L494.82 121.24L492.47 119.76L490.12 121.24L490.81 118.55L488.67 116.77L491.44 116.59ZM494.3 134.04L495.33 136.63L498.11 136.81L495.97 138.58L496.65 141.28L494.3 139.79L491.95 141.28L492.64 138.58L490.5 136.81L493.27 136.63ZM495.68 142.29L496.7 144.88L499.48 145.06L497.34 146.83L498.03 149.53L495.68 148.04L493.32 149.53L494.01 146.83L491.87 145.06L494.65 144.88ZM526.44 103.5L527.47 106.09L530.25 106.27L528.11 108.05L528.79 110.74L526.44 109.25L524.09 110.74L524.78 108.05L522.64 106.27L525.41 106.09ZM530.06 104.39L531.09 106.97L533.86 107.15L531.72 108.93L532.41 111.63L530.06 110.14L527.71 111.63L528.39 108.93L526.25 107.15L529.03 106.97ZM503.5 126.04L504.53 128.62L507.31 128.8L505.17 130.58L505.85 133.27L503.5 131.79L501.15 133.27L501.84 130.58L499.7 128.8L502.47 128.62ZM500.15 128.71L501.18 131.29L503.96 131.47L501.82 133.25L502.5 135.94L500.15 134.46L497.8 135.94L498.49 133.25L496.35 131.47L499.12 131.29ZM516.08 98.44L517.11 101.03L519.89 101.21L517.75 102.98L518.43 105.68L516.08 104.19L513.73 105.68L514.42 102.98L512.28 101.21L515.05 101.03ZM500.72 127.69L501.75 130.28L504.52 130.46L502.38 132.24L503.07 134.93L500.72 133.44L498.37 134.93L499.06 132.24L496.92 130.46L499.69 130.28ZM496.83 98.43L497.86 101.02L500.63 101.19L498.49 102.97L499.18 105.67L496.83 104.18L494.48 105.67L495.16 102.97L493.02 101.19L495.8 101.02ZM518.35 122.45L519.38 125.04L522.15 125.22L520.01 126.99L520.7 129.69L518.35 128.2L516 129.69L516.68 126.99L514.54 125.22L517.32 125.04ZM529.15 97.31L530.18 99.89L532.95 100.07L530.81 101.85L531.5 104.54L529.15 103.06L526.8 104.54L527.48 101.85L525.34 100.07L528.12 99.89ZM494.78 122.35L495.81 124.93L498.59 125.11L496.45 126.89L497.13 129.58L494.78 128.1L492.43 129.58L493.12 126.89L490.98 125.11L493.75 124.93ZM517.31 130.76L518.34 133.34L521.11 133.52L518.97 135.3L519.66 137.99L517.31 136.51L514.96 137.99L515.65 135.3L513.51 133.52L516.28 133.34ZM527.78 112.15L528.81 114.73L531.58 114.91L529.45 116.69L530.13 119.38L527.78 117.9L525.43 119.38L526.12 116.69L523.98 114.91L526.75 114.73ZM526.35 103.14L527.38 105.73L530.15 105.91L528.01 107.69L528.7 110.38L526.35 108.89L524 110.38L524.68 107.69L522.54 105.91L525.32 105.73ZM497.27 129.59L498.3 132.18L501.07 132.36L498.93 134.13L499.62 136.83L497.27 135.34L494.92 136.83L495.6 134.13L493.46 132.36L496.24 132.18ZM517.54 115.05L518.57 117.63L521.34 117.81L519.2 119.59L519.89 122.28L517.54 120.8L515.19 122.28L515.87 119.59L513.73 117.81L516.51 117.63ZM510.33 125.93L511.36 128.52L514.14 128.7L512 130.47L512.68 133.17L510.33 131.68L507.98 133.17L508.67 130.47L506.53 128.7L509.3 128.52ZM517.32 128.13L518.35 130.71L521.13 130.89L518.99 132.67L519.68 135.36L517.32 133.88L514.97 135.36L515.66 132.67L513.52 130.89L516.3 130.71ZM507.3 108.04L508.33 110.62L511.1 110.8L508.96 112.58L509.65 115.27L507.3 113.79L504.95 115.27L505.63 112.58L503.49 110.8L506.27 110.62ZM528.78 110.2L529.81 112.78L532.58 112.96L530.44 114.74L531.13 117.43L528.78 115.95L526.43 117.43L527.11 114.74L524.97 112.96L527.75 112.78ZM501.31 125.4L502.34 127.98L505.11 128.16L502.97 129.94L503.66 132.64L501.31 131.15L498.96 132.64L499.64 129.94L497.5 128.16L500.28 127.98ZM506.6 129.43L507.63 132.01L510.4 132.19L508.26 133.97L508.95 136.66L506.6 135.18L504.25 136.66L504.93 133.97L502.79 132.19L505.57 132.01ZM520.32 129.68L521.35 132.27L524.12 132.44L521.98 134.22L522.67 136.92L520.32 135.43L517.97 136.92L518.65 134.22L516.51 132.44L519.29 132.27ZM517.72 133.18L518.75 135.76L521.52 135.94L519.38 137.72L520.07 140.41L517.72 138.93L515.37 140.41L516.05 137.72L513.91 135.94L516.69 135.76ZM517.77 133.93L518.8 136.51L521.58 136.69L519.44 138.47L520.13 141.16L517.77 139.68L515.42 141.16L516.11 138.47L513.97 136.69L516.75 136.51ZM496.89 100.65L497.92 103.24L500.69 103.42L498.55 105.19L499.24 107.89L496.89 106.4L494.54 107.89L495.23 105.19L493.09 103.42L495.86 103.24ZM494.33 133.22L495.36 135.8L498.13 135.98L495.99 137.76L496.68 140.45L494.33 138.97L491.98 140.45L492.66 137.76L490.52 135.98L493.3 135.8ZM500.24 127.69L501.27 130.27L504.05 130.45L501.91 132.23L502.6 134.92L500.24 133.44L497.89 134.92L498.58 132.23L496.44 130.45L499.22 130.27ZM509.06 98.1L510.09 100.68L512.86 100.86L510.72 102.64L511.41 105.33L509.06 103.85L506.71 105.33L507.39 102.64L505.26 100.86L508.03 100.68ZM508.89 141.95L509.92 144.53L512.7 144.71L510.56 146.49L511.25 149.19L508.89 147.7L506.54 149.19L507.23 146.49L505.09 144.71L507.87 144.53ZM521.39 102.9L522.42 105.49L525.2 105.67L523.06 107.45L523.74 110.14L521.39 108.65L519.04 110.14L519.73 107.45L517.59 105.67L520.36 105.49ZM511.1 124.55L512.13 127.13L514.91 127.31L512.77 129.09L513.46 131.78L511.1 130.3L508.75 131.78L509.44 129.09L507.3 127.31L510.08 127.13ZM520.25 93.71L521.28 96.3L524.06 96.48L521.92 98.26L522.61 100.95L520.25 99.46L517.9 100.95L518.59 98.26L516.45 96.48L519.23 96.3ZM493.17 118.78L494.2 121.37L496.97 121.55L494.83 123.32L495.52 126.02L493.17 124.53L490.82 126.02L491.5 123.32L489.36 121.55L492.14 121.37ZM514.21 108.47L515.24 111.06L518.01 111.24L515.87 113.01L516.56 115.71L514.21 114.22L511.86 115.71L512.55 113.01L510.41 111.24L513.18 111.06ZM521.16 100.79L522.19 103.37L524.97 103.55L522.83 105.33L523.51 108.03L521.16 106.54L518.81 108.03L519.5 105.33L517.36 103.55L520.13 103.37ZM512.39 102.54L513.42 105.13L516.19 105.31L514.05 107.08L514.74 109.78L512.39 108.29L510.04 109.78L510.72 107.08L508.58 105.31L511.36 105.13ZM505.89 109.43L506.92 112.02L509.7 112.2L507.56 113.97L508.24 116.67L505.89 115.18L503.54 116.67L504.23 113.97L502.09 112.2L504.86 112.02ZM517.27 110.01L518.3 112.59L521.08 112.77L518.94 114.55L519.62 117.25L517.27 115.76L514.92 117.25L515.61 114.55L513.47 112.77L516.24 112.59ZM501.61 109.7L502.63 112.28L505.41 112.46L503.27 114.24L503.96 116.93L501.61 115.45L499.26 116.93L499.94 114.24L497.8 112.46L500.58 112.28ZM509.84 109.07L510.86 111.66L513.64 111.83L511.5 113.61L512.19 116.31L509.84 114.82L507.48 116.31L508.17 113.61L506.03 111.83L508.81 111.66ZM512.07 129.68L513.1 132.26L515.87 132.44L513.73 134.22L514.42 136.92L512.07 135.43L509.72 136.92L510.4 134.22L508.26 132.44L511.04 132.26ZM505.31 106.07L506.34 108.65L509.12 108.83L506.98 110.61L507.66 113.3L505.31 111.82L502.96 113.3L503.65 110.61L501.51 108.83L504.28 108.65ZM516.16 92.88L517.19 95.46L519.96 95.64L517.82 97.42L518.51 100.11L516.16 98.63L513.81 100.11L514.49 97.42L512.35 95.64L515.13 95.46ZM520.42 100.09L521.44 102.67L524.22 102.85L522.08 104.63L522.77 107.33L520.42 105.84L518.06 107.33L518.75 104.63L516.61 102.85L519.39 102.67ZM505.74 140.13L506.77 142.71L509.55 142.89L507.41 144.67L508.09 147.36L505.74 145.88L503.39 147.36L504.08 144.67L501.94 142.89L504.71 142.71ZM518.47 123.1L519.5 125.68L522.27 125.86L520.13 127.64L520.82 130.33L518.47 128.85L516.12 130.33L516.81 127.64L514.67 125.86L517.44 125.68ZM515 110.43L516.02 113.01L518.8 113.19L516.66 114.97L517.35 117.66L515 116.18L512.65 117.66L513.33 114.97L511.19 113.19L513.97 113.01ZM524.77 128.79L525.8 131.38L528.58 131.56L526.44 133.34L527.12 136.03L524.77 134.54L522.42 136.03L523.11 133.34L520.97 131.56L523.74 131.38ZM522.37 122.91L523.4 125.5L526.18 125.68L524.04 127.45L524.72 130.15L522.37 128.66L520.02 130.15L520.71 127.45L518.57 125.68L521.34 125.5ZM515.43 114.64L516.46 117.23L519.24 117.41L517.1 119.18L517.78 121.88L515.43 120.39L513.08 121.88L513.77 119.18L511.63 117.41L514.4 117.23ZM502.79 95.11L503.81 97.69L506.59 97.87L504.45 99.65L505.14 102.35L502.79 100.86L500.44 102.35L501.12 99.65L498.98 97.87L501.76 97.69ZM502.35 145.66L503.37 148.24L506.15 148.42L504.01 150.2L504.7 152.89L502.35 151.41L499.99 152.89L500.68 150.2L498.54 148.42L501.32 148.24ZM500.21 125.56L501.24 128.15L504.01 128.33L501.87 130.11L502.56 132.8L500.21 131.31L497.86 132.8L498.54 130.11L496.4 128.33L499.18 128.15ZM502.62 109.32L503.64 111.9L506.42 112.08L504.28 113.86L504.97 116.55L502.62 115.07L500.26 116.55L500.95 113.86L498.81 112.08L501.59 111.9ZM514.84 111.13L515.87 113.71L518.65 113.89L516.51 115.67L517.2 118.36L514.84 116.88L512.49 118.36L513.18 115.67L511.04 113.89L513.82 113.71ZM523.95 118.89L524.98 121.48L527.75 121.66L525.61 123.43L526.3 126.13L523.95 124.64L521.6 126.13L522.28 123.43L520.14 121.66L522.92 121.48ZM523.03 105.47L524.06 108.05L526.84 108.23L524.7 110.01L525.39 112.7L523.03 111.22L520.68 112.7L521.37 110.01L519.23 108.23L522.01 108.05ZM502.61 128.21L503.64 130.79L506.42 130.97L504.28 132.75L504.97 135.44L502.61 133.96L500.26 135.44L500.95 132.75L498.81 130.97L501.59 130.79ZM507.83 139.45L508.86 142.03L511.64 142.21L509.5 143.99L510.18 146.68L507.83 145.2L505.48 146.68L506.17 143.99L504.03 142.21L506.8 142.03ZM524.25 108.81L525.28 111.39L528.05 111.57L525.91 113.35L526.6 116.04L524.25 114.56L521.9 116.04L522.58 113.35L520.44 111.57L523.22 111.39ZM511.76 123.14L512.79 125.73L515.57 125.91L513.43 127.68L514.11 130.38L511.76 128.89L509.41 130.38L510.1 127.68L507.96 125.91L510.73 125.73ZM529.23 107.47L530.26 110.06L533.04 110.24L530.9 112.01L531.58 114.71L529.23 113.22L526.88 114.71L527.57 112.01L525.43 110.24L528.2 110.06ZM508.43 114.12L509.45 116.71L512.23 116.89L510.09 118.67L510.78 121.36L508.43 119.87L506.08 121.36L506.76 118.67L504.62 116.89L507.4 116.71ZM525.29 97.5L526.32 100.08L529.1 100.26L526.96 102.04L527.64 104.73L525.29 103.25L522.94 104.73L523.63 102.04L521.49 100.26L524.26 100.08ZM583.7 219.45L584.73 222.03L587.5 222.21L585.36 223.99L586.05 226.69L583.7 225.2L581.35 226.69L582.04 223.99L579.9 222.21L582.67 222.03Z" class="mK"/>
<path d="M461.7 154.9V170.2H472.5Z" class="gtri"/>
<path d="M530.3 171.51H401.5" class="mag"/>
<path d="M394.5 171.51l7.6 -3.6v7.2Z" fill="#ff00ff"/>
<path d="M460.29 112.9V233.5" class="blu"/>
<path d="M460.29 239.8l-3.7 -7.8h7.4Z" fill="#0a6cff"/>
<path d="M394.55 241.4v5M394.55 241.4h-5M422.64 241.4v3M394.55 217.83h-3M450.74 241.4v5M394.55 194.26h-5M478.84 241.4v3M394.55 170.69h-3M506.93 241.4v5M394.55 147.12h-5M535.02 241.4v3M394.55 123.55h-3M563.12 241.4v5M394.55 99.98h-5M591.22 241.4v3M394.55 76.41h-3M619.31 241.4v5M394.55 52.84h-5M647.4 241.4v3M394.55 29.27h-3M675.5 241.4v5M394.55 5.7h-5" class="tk"/>
<path d="M394.55 5.1V242" stroke="#111" stroke-width="1.1" fill="none"/>
<path d="M393.95 5.7H675.5V241.4H393.95" class="fr"/>
<rect x="394.6" y="7.3" width="1.2" height="26.4" fill="#fff"/>
<text x="391.25" y="259" class="tl" textLength="6.4" lengthAdjust="spacingAndGlyphs">0</text>
<text x="444.24" y="259" class="tl" textLength="12.8" lengthAdjust="spacingAndGlyphs">20</text>
<text x="500.43" y="259" class="tl" textLength="12.8" lengthAdjust="spacingAndGlyphs">40</text>
<text x="556.62" y="259" class="tl" textLength="12.8" lengthAdjust="spacingAndGlyphs">60</text>
<text x="612.81" y="259" class="tl" textLength="12.8" lengthAdjust="spacingAndGlyphs">80</text>
<text x="665.8" y="259" class="tl" textLength="19.2" lengthAdjust="spacingAndGlyphs">100</text>
<text x="379.95" y="245.3" class="tl" textLength="6.4" lengthAdjust="spacingAndGlyphs">0</text>
<text x="373.55" y="198.16" class="tl" textLength="12.8" lengthAdjust="spacingAndGlyphs">20</text>
<text x="373.55" y="151.02" class="tl" textLength="12.8" lengthAdjust="spacingAndGlyphs">40</text>
<text x="373.55" y="103.88" class="tl" textLength="12.8" lengthAdjust="spacingAndGlyphs">60</text>
<text x="373.55" y="56.74" class="tl" textLength="12.8" lengthAdjust="spacingAndGlyphs">80</text>
<text x="367.15" y="9.6" class="tl" textLength="19.2" lengthAdjust="spacingAndGlyphs">100</text>
<text x="431.6" y="274.9" class="at" textLength="54.4" lengthAdjust="spacingAndGlyphs">Estimated</text>
<text x="490.8" y="274.9" class="at" textLength="68.7" lengthAdjust="spacingAndGlyphs">compressive</text>
<text x="565.7" y="274.9" class="at" textLength="45" lengthAdjust="spacingAndGlyphs">strength</text>
<text x="613.5" y="274.9" class="at" textLength="26.6" lengthAdjust="spacingAndGlyphs">from</text>
<text x="506.2" y="288.4" class="at" textLength="57.6" lengthAdjust="spacingAndGlyphs">RHT (MPa)</text>
<g transform="translate(355.8 211.2) rotate(-90)">
<text x="0" y="0" class="yt" textLength="25.6" lengthAdjust="spacingAndGlyphs">Core</text>
<text x="30.5" y="0" class="yt" textLength="67.3" lengthAdjust="spacingAndGlyphs">compressive</text>
<text x="102.8" y="0" class="yt" textLength="46" lengthAdjust="spacingAndGlyphs">strength</text>
<text x="154.6" y="0" class="yt" textLength="28.7" lengthAdjust="spacingAndGlyphs">(MPa)</text>
</g>
<text x="483" y="26" class="ti" text-anchor="middle">Guro Overpass, Girder</text>
<text x="603" y="184.6" class="lg" textLength="29.8" lengthAdjust="spacingAndGlyphs">JSMS</text>
<text x="603" y="198.7" class="lg" textLength="15.8" lengthAdjust="spacingAndGlyphs">AIJ</text>
<text x="603" y="212.7" class="lg" textLength="45" lengthAdjust="spacingAndGlyphs">US Army</text>
<text x="603" y="226.2" class="lg" textLength="29.8" lengthAdjust="spacingAndGlyphs">KMST</text>
</g>
<g id="plot3">
<path d="M78.5 303V538.55M51 514.5H332.05M135.5 303V538.55M51 467.5H332.05M191.5 303V538.55M51 420.5H332.05M247.5 303V538.55M51 373.5H332.05M303.5 303V538.55M51 326.5H332.05" class="gmin"/>
<path d="M106.5 303V538.55M51 491.5H332.05M163.5 303V538.55M51 444.5H332.05M219.5 303V538.55M51 397.5H332.05M275.5 303V538.55M51 350.5H332.05" class="gmaj"/>
<rect x="53" y="305" width="177" height="33.4" fill="#fff"/>
<rect x="253.3" y="464.6" width="73.6" height="63.1" fill="#fff"/>
<path d="M50.55 538.55L332.05 303" class="diag"/>
<path d="M97.46 379.65h6.4v6.4h-6.4ZM92.95 394.49h6.4v6.4h-6.4ZM100.83 394.49h6.4v6.4h-6.4ZM106.46 394.49h6.4v6.4h-6.4ZM112.66 394.49h6.4v6.4h-6.4ZM104.21 390.49h6.4v6.4h-6.4ZM116.88 432.18h6.4v6.4h-6.4ZM115.47 433.36h6.4v6.4h-6.4ZM100.83 450.55h6.4v6.4h-6.4ZM109.56 450.55h6.4v6.4h-6.4ZM118.57 474.58h6.4v6.4h-6.4ZM102.24 386.95h6.4v6.4h-6.4ZM107.31 389.31h6.4v6.4h-6.4ZM99.71 401.09h6.4v6.4h-6.4ZM110.12 411.69h6.4v6.4h-6.4ZM110.97 414.04h6.4v6.4h-6.4ZM92.67 424.64h6.4v6.4h-6.4ZM92.11 431.71h6.4v6.4h-6.4ZM93.23 438.77h6.4v6.4h-6.4ZM93.8 412.86h6.4v6.4h-6.4ZM94.64 405.8h6.4v6.4h-6.4ZM98.21 406.82h6.4v6.4h-6.4ZM99.26 426.77h6.4v6.4h-6.4ZM97.03 416.73h6.4v6.4h-6.4ZM105.24 426.62h6.4v6.4h-6.4ZM97.24 417.35h6.4v6.4h-6.4ZM100.44 413.57h6.4v6.4h-6.4ZM97.98 420.8h6.4v6.4h-6.4ZM100.98 421.24h6.4v6.4h-6.4ZM102.81 410.32h6.4v6.4h-6.4ZM103.09 416.39h6.4v6.4h-6.4ZM102.89 424.67h6.4v6.4h-6.4ZM98.89 433.93h6.4v6.4h-6.4ZM93.6 408.72h6.4v6.4h-6.4ZM95.4 434.09h6.4v6.4h-6.4ZM102.53 422.36h6.4v6.4h-6.4ZM106.09 413.45h6.4v6.4h-6.4ZM97.6 441.89h6.4v6.4h-6.4ZM103.81 426.95h6.4v6.4h-6.4ZM102.59 413.28h6.4v6.4h-6.4ZM100.93 422.4h6.4v6.4h-6.4ZM97.88 416.71h6.4v6.4h-6.4ZM92.42 413.84h6.4v6.4h-6.4ZM101.65 408.54h6.4v6.4h-6.4ZM95.87 423.37h6.4v6.4h-6.4ZM95.25 425.3h6.4v6.4h-6.4ZM96.99 440.41h6.4v6.4h-6.4ZM104.01 442.84h6.4v6.4h-6.4ZM103.35 414.21h6.4v6.4h-6.4ZM105.11 416.22h6.4v6.4h-6.4ZM102.79 416.67h6.4v6.4h-6.4ZM93.1 434.98h6.4v6.4h-6.4ZM99.45 430.17h6.4v6.4h-6.4ZM93.15 408.44h6.4v6.4h-6.4ZM95.12 431.94h6.4v6.4h-6.4ZM96.08 411.27h6.4v6.4h-6.4ZM97.06 406.58h6.4v6.4h-6.4ZM236.9 474.6h6.4v6.4h-6.4Z" class="mJ"/>
<path d="M112.06 382.85a3.3 3.3 0 1 0 6.6 0a3.3 3.3 0 1 0 -6.6 0ZM109.91 397.69a3.3 3.3 0 1 0 6.6 0a3.3 3.3 0 1 0 -6.6 0ZM113.58 397.69a3.3 3.3 0 1 0 6.6 0a3.3 3.3 0 1 0 -6.6 0ZM118.46 397.69a3.3 3.3 0 1 0 6.6 0a3.3 3.3 0 1 0 -6.6 0ZM119.91 397.69a3.3 3.3 0 1 0 6.6 0a3.3 3.3 0 1 0 -6.6 0ZM116.9 393.69a3.3 3.3 0 1 0 6.6 0a3.3 3.3 0 1 0 -6.6 0ZM122.01 435.38a3.3 3.3 0 1 0 6.6 0a3.3 3.3 0 1 0 -6.6 0ZM121.78 436.56a3.3 3.3 0 1 0 6.6 0a3.3 3.3 0 1 0 -6.6 0ZM114.53 453.75a3.3 3.3 0 1 0 6.6 0a3.3 3.3 0 1 0 -6.6 0ZM117.12 453.75a3.3 3.3 0 1 0 6.6 0a3.3 3.3 0 1 0 -6.6 0ZM124.49 477.78a3.3 3.3 0 1 0 6.6 0a3.3 3.3 0 1 0 -6.6 0ZM115.56 390.15a3.3 3.3 0 1 0 6.6 0a3.3 3.3 0 1 0 -6.6 0ZM118.84 392.51a3.3 3.3 0 1 0 6.6 0a3.3 3.3 0 1 0 -6.6 0ZM113.4 404.29a3.3 3.3 0 1 0 6.6 0a3.3 3.3 0 1 0 -6.6 0ZM118.51 414.89a3.3 3.3 0 1 0 6.6 0a3.3 3.3 0 1 0 -6.6 0ZM118.97 417.24a3.3 3.3 0 1 0 6.6 0a3.3 3.3 0 1 0 -6.6 0ZM109 427.84a3.3 3.3 0 1 0 6.6 0a3.3 3.3 0 1 0 -6.6 0ZM106.76 434.91a3.3 3.3 0 1 0 6.6 0a3.3 3.3 0 1 0 -6.6 0ZM107.3 441.97a3.3 3.3 0 1 0 6.6 0a3.3 3.3 0 1 0 -6.6 0ZM110.53 416.06a3.3 3.3 0 1 0 6.6 0a3.3 3.3 0 1 0 -6.6 0ZM110.17 409a3.3 3.3 0 1 0 6.6 0a3.3 3.3 0 1 0 -6.6 0ZM110.75 410.02a3.3 3.3 0 1 0 6.6 0a3.3 3.3 0 1 0 -6.6 0ZM112.27 429.97a3.3 3.3 0 1 0 6.6 0a3.3 3.3 0 1 0 -6.6 0ZM110.46 419.93a3.3 3.3 0 1 0 6.6 0a3.3 3.3 0 1 0 -6.6 0ZM117.35 429.82a3.3 3.3 0 1 0 6.6 0a3.3 3.3 0 1 0 -6.6 0ZM110.58 420.55a3.3 3.3 0 1 0 6.6 0a3.3 3.3 0 1 0 -6.6 0ZM113.98 416.77a3.3 3.3 0 1 0 6.6 0a3.3 3.3 0 1 0 -6.6 0ZM112.57 424a3.3 3.3 0 1 0 6.6 0a3.3 3.3 0 1 0 -6.6 0ZM112.94 424.44a3.3 3.3 0 1 0 6.6 0a3.3 3.3 0 1 0 -6.6 0ZM113.8 413.52a3.3 3.3 0 1 0 6.6 0a3.3 3.3 0 1 0 -6.6 0ZM114.88 419.59a3.3 3.3 0 1 0 6.6 0a3.3 3.3 0 1 0 -6.6 0ZM114.35 427.87a3.3 3.3 0 1 0 6.6 0a3.3 3.3 0 1 0 -6.6 0ZM112.61 437.13a3.3 3.3 0 1 0 6.6 0a3.3 3.3 0 1 0 -6.6 0ZM108.54 411.92a3.3 3.3 0 1 0 6.6 0a3.3 3.3 0 1 0 -6.6 0ZM111.2 437.29a3.3 3.3 0 1 0 6.6 0a3.3 3.3 0 1 0 -6.6 0ZM114.2 425.56a3.3 3.3 0 1 0 6.6 0a3.3 3.3 0 1 0 -6.6 0ZM115.38 416.65a3.3 3.3 0 1 0 6.6 0a3.3 3.3 0 1 0 -6.6 0ZM112.45 445.09a3.3 3.3 0 1 0 6.6 0a3.3 3.3 0 1 0 -6.6 0ZM116.58 430.15a3.3 3.3 0 1 0 6.6 0a3.3 3.3 0 1 0 -6.6 0ZM115.12 416.48a3.3 3.3 0 1 0 6.6 0a3.3 3.3 0 1 0 -6.6 0ZM113.67 425.6a3.3 3.3 0 1 0 6.6 0a3.3 3.3 0 1 0 -6.6 0ZM112.94 419.91a3.3 3.3 0 1 0 6.6 0a3.3 3.3 0 1 0 -6.6 0ZM109.87 417.04a3.3 3.3 0 1 0 6.6 0a3.3 3.3 0 1 0 -6.6 0ZM112.29 411.74a3.3 3.3 0 1 0 6.6 0a3.3 3.3 0 1 0 -6.6 0ZM110.44 426.57a3.3 3.3 0 1 0 6.6 0a3.3 3.3 0 1 0 -6.6 0ZM108.48 428.5a3.3 3.3 0 1 0 6.6 0a3.3 3.3 0 1 0 -6.6 0ZM110.59 443.61a3.3 3.3 0 1 0 6.6 0a3.3 3.3 0 1 0 -6.6 0ZM114.49 446.04a3.3 3.3 0 1 0 6.6 0a3.3 3.3 0 1 0 -6.6 0ZM114.84 417.41a3.3 3.3 0 1 0 6.6 0a3.3 3.3 0 1 0 -6.6 0ZM116.62 419.42a3.3 3.3 0 1 0 6.6 0a3.3 3.3 0 1 0 -6.6 0ZM115.85 419.87a3.3 3.3 0 1 0 6.6 0a3.3 3.3 0 1 0 -6.6 0ZM108.01 438.18a3.3 3.3 0 1 0 6.6 0a3.3 3.3 0 1 0 -6.6 0ZM110.98 433.37a3.3 3.3 0 1 0 6.6 0a3.3 3.3 0 1 0 -6.6 0ZM110.53 411.64a3.3 3.3 0 1 0 6.6 0a3.3 3.3 0 1 0 -6.6 0ZM110.98 435.14a3.3 3.3 0 1 0 6.6 0a3.3 3.3 0 1 0 -6.6 0ZM110.78 414.47a3.3 3.3 0 1 0 6.6 0a3.3 3.3 0 1 0 -6.6 0ZM109.89 409.78a3.3 3.3 0 1 0 6.6 0a3.3 3.3 0 1 0 -6.6 0ZM236.8 492.1a3.3 3.3 0 1 0 6.6 0a3.3 3.3 0 1 0 -6.6 0Z" class="mA"/>
<path d="M100.66 378.25L96.36 385.75L104.96 385.75ZM96.15 393.09L91.85 400.59L100.45 400.59ZM104.8 393.09L100.5 400.59L109.1 400.59ZM111.95 393.09L107.65 400.59L116.25 400.59ZM119.81 393.09L115.51 400.59L124.11 400.59ZM109.09 389.09L104.79 396.59L113.39 396.59ZM125.17 430.78L120.87 438.28L129.47 438.28ZM123.39 431.96L119.09 439.46L127.69 439.46ZM104.8 449.15L100.5 456.65L109.1 456.65ZM115.88 449.15L111.58 456.65L120.18 456.65ZM127.32 473.18L123.02 480.68L131.62 480.68ZM106.58 385.55L102.28 393.05L110.88 393.05ZM113.02 387.91L108.72 395.41L117.32 395.41ZM103.37 399.69L99.07 407.19L107.67 407.19ZM116.59 410.29L112.29 417.79L120.89 417.79ZM117.67 412.64L113.37 420.14L121.97 420.14ZM95.87 423.24L91.57 430.74L100.17 430.74ZM95.31 430.31L91.01 437.81L99.61 437.81ZM96.43 437.37L92.13 444.87L100.73 444.87ZM97 411.46L92.7 418.96L101.3 418.96ZM97.84 404.4L93.54 411.9L102.14 411.9ZM101.46 405.42L97.16 412.92L105.76 412.92ZM102.8 425.37L98.5 432.87L107.1 432.87ZM100.23 415.33L95.93 422.83L104.53 422.83ZM110.39 425.22L106.09 432.72L114.69 432.72ZM100.44 415.95L96.14 423.45L104.74 423.45ZM104.3 412.17L100 419.67L108.6 419.67ZM101.18 419.4L96.88 426.9L105.48 426.9ZM104.98 419.84L100.68 427.34L109.28 427.34ZM107.3 408.92L103 416.42L111.6 416.42ZM107.66 414.99L103.36 422.49L111.96 422.49ZM107.4 423.27L103.1 430.77L111.7 430.77ZM102.33 432.53L98.03 440.03L106.63 440.03ZM96.8 407.32L92.5 414.82L101.1 414.82ZM98.6 432.69L94.3 440.19L102.9 440.19ZM106.94 420.96L102.64 428.46L111.24 428.46ZM111.47 412.05L107.17 419.55L115.77 419.55ZM100.8 440.49L96.5 447.99L105.1 447.99ZM108.57 425.55L104.27 433.05L112.87 433.05ZM107.02 411.88L102.72 419.38L111.32 419.38ZM104.92 421L100.62 428.5L109.22 428.5ZM101.08 415.31L96.78 422.81L105.38 422.81ZM95.62 412.44L91.32 419.94L99.92 419.94ZM105.83 407.14L101.53 414.64L110.13 414.64ZM99.07 421.97L94.77 429.47L103.37 429.47ZM98.45 423.9L94.15 431.4L102.75 431.4ZM100.19 439.01L95.89 446.51L104.49 446.51ZM108.82 441.44L104.52 448.94L113.12 448.94ZM107.99 412.81L103.69 420.31L112.29 420.31ZM110.23 414.82L105.93 422.32L114.53 422.32ZM107.28 415.27L102.98 422.77L111.58 422.77ZM96.3 433.58L92 441.08L100.6 441.08ZM103.03 428.77L98.73 436.27L107.33 436.27ZM96.35 407.04L92.05 414.54L100.65 414.54ZM98.32 430.54L94.02 438.04L102.62 438.04ZM99.28 409.87L94.98 417.37L103.58 417.37ZM100.26 405.18L95.96 412.68L104.56 412.68ZM240.1 502.4L235.8 509.9L244.4 509.9Z" class="mU"/>
<path d="M100.09 379.2L101.12 381.79L103.9 381.97L101.76 383.74L102.45 386.44L100.09 384.95L97.74 386.44L98.43 383.74L96.29 381.97L99.07 381.79ZM95.59 394.04L96.62 396.63L99.39 396.81L97.25 398.58L97.94 401.28L95.59 399.79L93.24 401.28L93.93 398.58L91.79 396.81L94.56 396.63ZM105.84 394.04L106.87 396.63L109.64 396.81L107.5 398.58L108.19 401.28L105.84 399.79L103.49 401.28L104.17 398.58L102.03 396.81L104.81 396.63ZM115.41 394.04L116.44 396.63L119.21 396.81L117.07 398.58L117.76 401.28L115.41 399.79L113.06 401.28L113.74 398.58L111.6 396.81L114.38 396.63ZM125.94 394.04L126.96 396.63L129.74 396.81L127.6 398.58L128.29 401.28L125.94 399.79L123.58 401.28L124.27 398.58L122.13 396.81L124.91 396.63ZM111.58 390.04L112.61 392.62L115.38 392.8L113.24 394.58L113.93 397.27L111.58 395.79L109.23 397.27L109.91 394.58L107.77 392.8L110.55 392.62ZM133.11 431.73L134.14 434.31L136.92 434.49L134.78 436.27L135.47 438.97L133.11 437.48L130.76 438.97L131.45 436.27L129.31 434.49L132.09 434.31ZM130.72 432.91L131.75 435.49L134.53 435.67L132.39 437.45L133.07 440.14L130.72 438.66L128.37 440.14L129.06 437.45L126.92 435.67L129.69 435.49ZM105.84 450.1L106.87 452.69L109.64 452.87L107.5 454.64L108.19 457.34L105.84 455.85L103.49 457.34L104.17 454.64L102.03 452.87L104.81 452.69ZM120.67 450.1L121.7 452.69L124.48 452.87L122.34 454.64L123.02 457.34L120.67 455.85L118.32 457.34L119.01 454.64L116.87 452.87L119.64 452.69ZM135.99 474.13L137.01 476.71L139.79 476.89L137.65 478.67L138.34 481.36L135.99 479.88L133.63 481.36L134.32 478.67L132.18 476.89L134.96 476.71ZM108.23 386.5L109.26 389.09L112.03 389.27L109.89 391.04L110.58 393.74L108.23 392.25L105.88 393.74L106.57 391.04L104.43 389.27L107.2 389.09ZM116.84 388.86L117.87 391.44L120.65 391.62L118.51 393.4L119.19 396.1L116.84 394.61L114.49 396.1L115.18 393.4L113.04 391.62L115.81 391.44ZM103.92 400.64L104.95 403.22L107.73 403.4L105.59 405.18L106.27 407.87L103.92 406.39L101.57 407.87L102.26 405.18L100.12 403.4L102.89 403.22ZM121.63 411.24L122.66 413.82L125.43 414L123.29 415.78L123.98 418.47L121.63 416.99L119.28 418.47L119.96 415.78L117.82 414L120.6 413.82ZM123.06 413.59L124.09 416.18L126.87 416.36L124.73 418.13L125.42 420.83L123.06 419.34L120.71 420.83L121.4 418.13L119.26 416.36L122.04 416.18ZM95.31 424.19L96.34 426.78L99.11 426.96L96.97 428.73L97.66 431.43L95.31 429.94L92.96 431.43L93.64 428.73L91.5 426.96L94.28 426.78ZM94.75 431.26L95.77 433.84L98.55 434.02L96.41 435.8L97.1 438.49L94.75 437.01L92.39 438.49L93.08 435.8L90.94 434.02L93.72 433.84ZM95.87 438.32L96.9 440.91L99.68 441.09L97.54 442.87L98.22 445.56L95.87 444.07L93.52 445.56L94.21 442.87L92.07 441.09L94.84 440.91ZM96.43 412.41L97.46 415L100.24 415.18L98.1 416.95L98.79 419.65L96.43 418.16L94.08 419.65L94.77 416.95L92.63 415.18L95.41 415ZM97.28 405.35L98.31 407.93L101.08 408.11L98.94 409.89L99.63 412.58L97.28 411.1L94.93 412.58L95.61 409.89L93.47 408.11L96.25 407.93ZM101.38 406.37L102.41 408.95L105.18 409.13L103.04 410.91L103.73 413.6L101.38 412.12L99.03 413.6L99.71 410.91L97.57 409.13L100.35 408.95ZM103.16 426.32L104.19 428.9L106.97 429.08L104.83 430.86L105.51 433.55L103.16 432.07L100.81 433.55L101.5 430.86L99.36 429.08L102.13 428.9ZM99.67 416.28L100.7 418.86L103.47 419.04L101.33 420.82L102.02 423.51L99.67 422.03L97.32 423.51L98 420.82L95.86 419.04L98.64 418.86ZM113.33 426.17L114.36 428.76L117.13 428.94L114.99 430.71L115.68 433.41L113.33 431.92L110.98 433.41L111.66 430.71L109.52 428.94L112.3 428.76ZM99.87 416.9L100.9 419.49L103.68 419.67L101.54 421.44L102.22 424.14L99.87 422.65L97.52 424.14L98.21 421.44L96.07 419.67L98.84 419.49ZM105.17 413.12L106.2 415.7L108.97 415.88L106.83 417.66L107.52 420.35L105.17 418.87L102.82 420.35L103.51 417.66L101.37 415.88L104.14 415.7ZM100.98 420.35L102 422.93L104.78 423.11L102.64 424.89L103.33 427.58L100.98 426.1L98.62 427.58L99.31 424.89L97.17 423.11L99.95 422.93ZM106.09 420.79L107.12 423.37L109.89 423.55L107.75 425.33L108.44 428.03L106.09 426.54L103.74 428.03L104.43 425.33L102.29 423.55L105.06 423.37ZM109.19 409.87L110.22 412.46L112.99 412.64L110.85 414.41L111.54 417.11L109.19 415.62L106.84 417.11L107.52 414.41L105.38 412.64L108.16 412.46ZM109.67 415.94L110.7 418.53L113.47 418.71L111.33 420.49L112.02 423.18L109.67 421.69L107.32 423.18L108 420.49L105.86 418.71L108.64 418.53ZM109.33 424.22L110.36 426.81L113.13 426.99L110.99 428.76L111.68 431.46L109.33 429.97L106.98 431.46L107.67 428.76L105.53 426.99L108.3 426.81ZM102.54 433.48L103.57 436.07L106.34 436.25L104.2 438.02L104.89 440.72L102.54 439.23L100.19 440.72L100.87 438.02L98.73 436.25L101.51 436.07ZM96.24 408.27L97.27 410.86L100.04 411.03L97.91 412.81L98.59 415.51L96.24 414.02L93.89 415.51L94.58 412.81L92.44 411.03L95.21 410.86ZM98.04 433.64L99.07 436.22L101.85 436.4L99.71 438.18L100.39 440.88L98.04 439.39L95.69 440.88L96.38 438.18L94.24 436.4L97.01 436.22ZM108.71 421.91L109.74 424.49L112.51 424.67L110.37 426.45L111.06 429.14L108.71 427.66L106.36 429.14L107.05 426.45L104.91 424.67L107.68 424.49ZM114.78 413L115.8 415.58L118.58 415.76L116.44 417.54L117.13 420.24L114.78 418.75L112.42 420.24L113.11 417.54L110.97 415.76L113.75 415.58ZM100.34 441.44L101.37 444.02L104.14 444.2L102 445.98L102.69 448.67L100.34 447.19L97.99 448.67L98.68 445.98L96.54 444.2L99.31 444.02ZM110.89 426.5L111.92 429.09L114.7 429.26L112.56 431.04L113.24 433.74L110.89 432.25L108.54 433.74L109.23 431.04L107.09 429.26L109.86 429.09ZM108.82 412.83L109.85 415.42L112.62 415.6L110.48 417.37L111.17 420.07L108.82 418.58L106.47 420.07L107.16 417.37L105.02 415.6L107.79 415.42ZM106 421.95L107.03 424.53L109.8 424.71L107.66 426.49L108.35 429.18L106 427.7L103.65 429.18L104.34 426.49L102.2 424.71L104.97 424.53ZM100.81 416.26L101.84 418.85L104.62 419.03L102.48 420.8L103.16 423.5L100.81 422.01L98.46 423.5L99.15 420.8L97.01 419.03L99.78 418.85ZM95.06 413.39L96.08 415.98L98.86 416.16L96.72 417.93L97.41 420.63L95.06 419.14L92.7 420.63L93.39 417.93L91.25 416.16L94.03 415.98ZM107.22 408.09L108.25 410.67L111.02 410.85L108.88 412.63L109.57 415.32L107.22 413.84L104.87 415.32L105.55 412.63L103.41 410.85L106.19 410.67ZM98.5 422.92L99.53 425.5L102.31 425.68L100.17 427.46L100.85 430.15L98.5 428.67L96.15 430.15L96.84 427.46L94.7 425.68L97.47 425.5ZM97.89 424.85L98.91 427.43L101.69 427.61L99.55 429.39L100.24 432.09L97.89 430.6L95.53 432.09L96.22 429.39L94.08 427.61L96.86 427.43ZM99.63 439.96L100.66 442.54L103.43 442.72L101.29 444.5L101.98 447.19L99.63 445.71L97.28 447.19L97.96 444.5L95.82 442.72L98.6 442.54ZM111.23 442.39L112.26 444.97L115.03 445.15L112.89 446.93L113.58 449.62L111.23 448.14L108.88 449.62L109.57 446.93L107.43 445.15L110.2 444.97ZM110.12 413.76L111.15 416.35L113.92 416.53L111.78 418.3L112.47 421L110.12 419.51L107.77 421L108.45 418.3L106.31 416.53L109.09 416.35ZM113.11 415.77L114.13 418.36L116.91 418.54L114.77 420.31L115.46 423.01L113.11 421.52L110.75 423.01L111.44 420.31L109.3 418.54L112.08 418.36ZM109.17 416.22L110.19 418.8L112.97 418.98L110.83 420.76L111.52 423.45L109.17 421.97L106.82 423.45L107.5 420.76L105.36 418.98L108.14 418.8ZM95.74 434.53L96.77 437.12L99.54 437.3L97.4 439.07L98.09 441.77L95.74 440.28L93.39 441.77L94.07 439.07L91.93 437.3L94.71 437.12ZM103.48 429.72L104.51 432.3L107.28 432.48L105.14 434.26L105.83 436.95L103.48 435.47L101.13 436.95L101.82 434.26L99.68 432.48L102.45 432.3ZM95.78 407.99L96.81 410.58L99.59 410.76L97.45 412.53L98.13 415.23L95.78 413.74L93.43 415.23L94.12 412.53L91.98 410.76L94.75 410.58ZM97.76 431.49L98.79 434.07L101.56 434.25L99.42 436.03L100.11 438.72L97.76 437.24L95.41 438.72L96.1 436.03L93.96 434.25L96.73 434.07ZM98.72 410.82L99.75 413.4L102.52 413.58L100.38 415.36L101.07 418.06L98.72 416.57L96.37 418.06L97.05 415.36L94.91 413.58L97.69 413.4ZM99.7 406.13L100.73 408.72L103.51 408.9L101.37 410.67L102.05 413.37L99.7 411.88L97.35 413.37L98.04 410.67L95.9 408.9L98.67 408.72ZM240.1 517.05L241.13 519.63L243.9 519.81L241.76 521.59L242.45 524.29L240.1 522.8L237.75 524.29L238.44 521.59L236.3 519.81L239.07 519.63Z" class="mK"/>
<path d="M93.4 465.4V480.2H105.3Z" class="gtri"/>
<path d="M188 482.02H57.8" class="mag"/>
<path d="M50.8 482.02l7.6 -3.6v7.2Z" fill="#ff00ff"/>
<path d="M90.52 409.9V530.5" class="blu"/>
<path d="M90.52 536.8l-3.7 -7.8h7.4Z" fill="#0a6cff"/>
<path d="M50.55 538.55v5M50.55 538.55h-5M78.7 538.55v3M50.55 515h-3M106.85 538.55v5M50.55 491.44h-5M135 538.55v3M50.55 467.88h-3M163.15 538.55v5M50.55 444.33h-5M191.3 538.55v3M50.55 420.77h-3M219.45 538.55v5M50.55 397.22h-5M247.6 538.55v3M50.55 373.66h-3M275.75 538.55v5M50.55 350.11h-5M303.9 538.55v3M50.55 326.55h-3M332.05 538.55v5M50.55 303h-5" class="tk"/>
<path d="M50.55 302.4V539.15" stroke="#111" stroke-width="1.2" fill="none"/>
<path d="M49.95 303H332.05V538.55H49.95" class="fr"/>
<g clip-path="url(#clip3)">
<text x="47.25" y="556.6" class="tl" textLength="6.4" lengthAdjust="spacingAndGlyphs">0</text>
<text x="100.35" y="556.6" class="tl" textLength="12.8" lengthAdjust="spacingAndGlyphs">20</text>
<text x="156.65" y="556.6" class="tl" textLength="12.8" lengthAdjust="spacingAndGlyphs">40</text>
<text x="212.95" y="556.6" class="tl" textLength="12.8" lengthAdjust="spacingAndGlyphs">60</text>
<text x="269.25" y="556.6" class="tl" textLength="12.8" lengthAdjust="spacingAndGlyphs">80</text>
<text x="322.35" y="556.6" class="tl" textLength="19.2" lengthAdjust="spacingAndGlyphs">100</text>
</g>
<text x="35.95" y="542.45" class="tl" textLength="6.4" lengthAdjust="spacingAndGlyphs">0</text>
<text x="29.55" y="495.34" class="tl" textLength="12.8" lengthAdjust="spacingAndGlyphs">20</text>
<text x="29.55" y="448.23" class="tl" textLength="12.8" lengthAdjust="spacingAndGlyphs">40</text>
<text x="29.55" y="401.12" class="tl" textLength="12.8" lengthAdjust="spacingAndGlyphs">60</text>
<text x="29.55" y="354.01" class="tl" textLength="12.8" lengthAdjust="spacingAndGlyphs">80</text>
<text x="23.15" y="306.9" class="tl" textLength="19.2" lengthAdjust="spacingAndGlyphs">100</text>
<text x="82.5" y="571.1" class="at" textLength="54.4" lengthAdjust="spacingAndGlyphs">Estimated</text>
<text x="141.7" y="571.1" class="at" textLength="68.7" lengthAdjust="spacingAndGlyphs">compressive</text>
<text x="216.6" y="571.1" class="at" textLength="45" lengthAdjust="spacingAndGlyphs">strength</text>
<text x="264.4" y="571.1" class="at" textLength="26.6" lengthAdjust="spacingAndGlyphs">from</text>
<text x="157.6" y="584.6" class="at" textLength="57.6" lengthAdjust="spacingAndGlyphs">RHT (MPa)</text>
<g transform="translate(11.4 507) rotate(-90)">
<text x="0" y="0" class="yt" textLength="25.6" lengthAdjust="spacingAndGlyphs">Core</text>
<text x="30.5" y="0" class="yt" textLength="67.3" lengthAdjust="spacingAndGlyphs">compressive</text>
<text x="102.8" y="0" class="yt" textLength="46" lengthAdjust="spacingAndGlyphs">strength</text>
<text x="154.6" y="0" class="yt" textLength="28.7" lengthAdjust="spacingAndGlyphs">(MPa)</text>
</g>
<text x="142.6" y="319.5" class="ti" text-anchor="middle">Gunseonganggyo Bridge,</text>
<text x="142.6" y="334" class="ti" text-anchor="middle">Slab</text>
<text x="262.9" y="478.4" class="lg" textLength="29.8" lengthAdjust="spacingAndGlyphs">JSMS</text>
<text x="262.9" y="492.4" class="lg" textLength="15.8" lengthAdjust="spacingAndGlyphs">AIJ</text>
<text x="262.9" y="506.5" class="lg" textLength="45" lengthAdjust="spacingAndGlyphs">US Army</text>
<text x="262.9" y="520.3" class="lg" textLength="29.8" lengthAdjust="spacingAndGlyphs">KMST</text>
</g>
<g id="plot4">
<path d="M422.5 302V538M395 514.5H675.5M478.5 302V538M395 467.5H675.5M535.5 302V538M395 420.5H675.5M591.5 302V538M395 373.5H675.5M647.5 302V538M395 325.5H675.5" class="gmin"/>
<path d="M450.5 302V538M395 490.5H675.5M506.5 302V538M395 443.5H675.5M563.5 302V538M395 396.5H675.5M619.5 302V538M395 349.5H675.5" class="gmaj"/>
<rect x="397" y="304.5" width="175.5" height="38.7" fill="#fff"/>
<rect x="593.9" y="468.1" width="74.5" height="58.7" fill="#fff"/>
<path d="M394.55 538L675.5 302.3" class="diag"/>
<path d="M440.52 429.91h6.4v6.4h-6.4ZM424.5 501.09h6.4v6.4h-6.4ZM423.94 490.25h6.4v6.4h-6.4ZM424.78 488.6h6.4v6.4h-6.4ZM425.63 486.95h6.4v6.4h-6.4ZM423.66 478.94h6.4v6.4h-6.4ZM423.38 455.13h6.4v6.4h-6.4ZM454.56 452.54h6.4v6.4h-6.4ZM426.75 484.12h6.4v6.4h-6.4ZM429.28 482.95h6.4v6.4h-6.4ZM433.49 481.77h6.4v6.4h-6.4ZM436.86 483.42h6.4v6.4h-6.4ZM446.14 484.12h6.4v6.4h-6.4ZM448.94 480.59h6.4v6.4h-6.4ZM453.16 477.05h6.4v6.4h-6.4ZM450.91 485.3h6.4v6.4h-6.4ZM443.33 433.45h6.4v6.4h-6.4ZM450.35 438.16h6.4v6.4h-6.4ZM426.19 473.52h6.4v6.4h-6.4ZM427.87 441.7h6.4v6.4h-6.4ZM426.19 449.95h6.4v6.4h-6.4ZM431.24 477.05h6.4v6.4h-6.4ZM432.37 473.52h6.4v6.4h-6.4ZM429 475.88h6.4v6.4h-6.4ZM436.27 464.38h6.4v6.4h-6.4ZM431.26 466.95h6.4v6.4h-6.4ZM437.33 441.25h6.4v6.4h-6.4ZM444.62 460.31h6.4v6.4h-6.4ZM444.72 435.64h6.4v6.4h-6.4ZM431.81 446.11h6.4v6.4h-6.4ZM443.12 442.71h6.4v6.4h-6.4ZM431.87 470.51h6.4v6.4h-6.4ZM429.44 451.37h6.4v6.4h-6.4ZM429.96 470.11h6.4v6.4h-6.4ZM431.36 450.81h6.4v6.4h-6.4ZM440.91 460.34h6.4v6.4h-6.4ZM444.83 443.83h6.4v6.4h-6.4ZM441.25 448.45h6.4v6.4h-6.4ZM436.76 479.99h6.4v6.4h-6.4ZM442.87 445.51h6.4v6.4h-6.4ZM441.74 463.46h6.4v6.4h-6.4ZM438 458.63h6.4v6.4h-6.4ZM430.32 461.18h6.4v6.4h-6.4ZM426.98 477.47h6.4v6.4h-6.4ZM440.68 463.31h6.4v6.4h-6.4ZM443.77 444.74h6.4v6.4h-6.4ZM439.51 455.23h6.4v6.4h-6.4ZM434.69 452.47h6.4v6.4h-6.4ZM437.45 461.84h6.4v6.4h-6.4ZM438.99 456.78h6.4v6.4h-6.4ZM446.01 466.64h6.4v6.4h-6.4ZM434.78 450.71h6.4v6.4h-6.4ZM428.23 475.14h6.4v6.4h-6.4ZM435.67 462.65h6.4v6.4h-6.4ZM443.04 468.57h6.4v6.4h-6.4ZM446.52 473.95h6.4v6.4h-6.4ZM441.58 478.25h6.4v6.4h-6.4ZM435.2 470.74h6.4v6.4h-6.4ZM436.04 460.76h6.4v6.4h-6.4ZM434.44 451.12h6.4v6.4h-6.4ZM437.65 471.58h6.4v6.4h-6.4ZM442.17 444.78h6.4v6.4h-6.4ZM429.67 477.13h6.4v6.4h-6.4ZM432.81 466.19h6.4v6.4h-6.4ZM427.67 470.49h6.4v6.4h-6.4ZM448.01 476.08h6.4v6.4h-6.4ZM437.91 456.87h6.4v6.4h-6.4ZM434.63 451.11h6.4v6.4h-6.4ZM441.18 451.5h6.4v6.4h-6.4ZM437.54 453.87h6.4v6.4h-6.4ZM437.78 448.98h6.4v6.4h-6.4ZM437.62 463.07h6.4v6.4h-6.4ZM431.6 454.29h6.4v6.4h-6.4ZM431.58 458.54h6.4v6.4h-6.4ZM439.65 459.93h6.4v6.4h-6.4ZM450.53 444.81h6.4v6.4h-6.4ZM580.5 474h6.4v6.4h-6.4Z" class="mJ"/>
<path d="M456.21 433.11a3.3 3.3 0 1 0 6.6 0a3.3 3.3 0 1 0 -6.6 0ZM446.6 504.29a3.3 3.3 0 1 0 6.6 0a3.3 3.3 0 1 0 -6.6 0ZM446.26 493.45a3.3 3.3 0 1 0 6.6 0a3.3 3.3 0 1 0 -6.6 0ZM446.77 491.8a3.3 3.3 0 1 0 6.6 0a3.3 3.3 0 1 0 -6.6 0ZM447.27 490.15a3.3 3.3 0 1 0 6.6 0a3.3 3.3 0 1 0 -6.6 0ZM446.09 482.14a3.3 3.3 0 1 0 6.6 0a3.3 3.3 0 1 0 -6.6 0ZM445.92 458.33a3.3 3.3 0 1 0 6.6 0a3.3 3.3 0 1 0 -6.6 0ZM464.63 455.74a3.3 3.3 0 1 0 6.6 0a3.3 3.3 0 1 0 -6.6 0ZM447.95 487.32a3.3 3.3 0 1 0 6.6 0a3.3 3.3 0 1 0 -6.6 0ZM449.46 486.15a3.3 3.3 0 1 0 6.6 0a3.3 3.3 0 1 0 -6.6 0ZM451.99 484.97a3.3 3.3 0 1 0 6.6 0a3.3 3.3 0 1 0 -6.6 0ZM454.01 486.62a3.3 3.3 0 1 0 6.6 0a3.3 3.3 0 1 0 -6.6 0ZM459.58 487.32a3.3 3.3 0 1 0 6.6 0a3.3 3.3 0 1 0 -6.6 0ZM461.26 483.79a3.3 3.3 0 1 0 6.6 0a3.3 3.3 0 1 0 -6.6 0ZM463.79 480.25a3.3 3.3 0 1 0 6.6 0a3.3 3.3 0 1 0 -6.6 0ZM462.44 488.5a3.3 3.3 0 1 0 6.6 0a3.3 3.3 0 1 0 -6.6 0ZM457.89 436.65a3.3 3.3 0 1 0 6.6 0a3.3 3.3 0 1 0 -6.6 0ZM462.11 441.36a3.3 3.3 0 1 0 6.6 0a3.3 3.3 0 1 0 -6.6 0ZM447.61 476.72a3.3 3.3 0 1 0 6.6 0a3.3 3.3 0 1 0 -6.6 0ZM448.62 444.9a3.3 3.3 0 1 0 6.6 0a3.3 3.3 0 1 0 -6.6 0ZM447.61 453.15a3.3 3.3 0 1 0 6.6 0a3.3 3.3 0 1 0 -6.6 0ZM450.64 480.25a3.3 3.3 0 1 0 6.6 0a3.3 3.3 0 1 0 -6.6 0ZM451.32 476.72a3.3 3.3 0 1 0 6.6 0a3.3 3.3 0 1 0 -6.6 0ZM449.29 479.07a3.3 3.3 0 1 0 6.6 0a3.3 3.3 0 1 0 -6.6 0ZM453.66 467.58a3.3 3.3 0 1 0 6.6 0a3.3 3.3 0 1 0 -6.6 0ZM450.65 470.15a3.3 3.3 0 1 0 6.6 0a3.3 3.3 0 1 0 -6.6 0ZM454.3 444.45a3.3 3.3 0 1 0 6.6 0a3.3 3.3 0 1 0 -6.6 0ZM458.67 463.51a3.3 3.3 0 1 0 6.6 0a3.3 3.3 0 1 0 -6.6 0ZM458.73 438.84a3.3 3.3 0 1 0 6.6 0a3.3 3.3 0 1 0 -6.6 0ZM450.98 449.31a3.3 3.3 0 1 0 6.6 0a3.3 3.3 0 1 0 -6.6 0ZM457.77 445.91a3.3 3.3 0 1 0 6.6 0a3.3 3.3 0 1 0 -6.6 0ZM451.02 473.71a3.3 3.3 0 1 0 6.6 0a3.3 3.3 0 1 0 -6.6 0ZM449.56 454.57a3.3 3.3 0 1 0 6.6 0a3.3 3.3 0 1 0 -6.6 0ZM449.87 473.31a3.3 3.3 0 1 0 6.6 0a3.3 3.3 0 1 0 -6.6 0ZM450.71 454.01a3.3 3.3 0 1 0 6.6 0a3.3 3.3 0 1 0 -6.6 0ZM456.44 463.54a3.3 3.3 0 1 0 6.6 0a3.3 3.3 0 1 0 -6.6 0ZM458.79 447.03a3.3 3.3 0 1 0 6.6 0a3.3 3.3 0 1 0 -6.6 0ZM456.64 451.65a3.3 3.3 0 1 0 6.6 0a3.3 3.3 0 1 0 -6.6 0ZM453.95 483.19a3.3 3.3 0 1 0 6.6 0a3.3 3.3 0 1 0 -6.6 0ZM457.62 448.71a3.3 3.3 0 1 0 6.6 0a3.3 3.3 0 1 0 -6.6 0ZM456.94 466.66a3.3 3.3 0 1 0 6.6 0a3.3 3.3 0 1 0 -6.6 0ZM454.7 461.83a3.3 3.3 0 1 0 6.6 0a3.3 3.3 0 1 0 -6.6 0ZM450.09 464.38a3.3 3.3 0 1 0 6.6 0a3.3 3.3 0 1 0 -6.6 0ZM448.09 480.67a3.3 3.3 0 1 0 6.6 0a3.3 3.3 0 1 0 -6.6 0ZM456.3 466.51a3.3 3.3 0 1 0 6.6 0a3.3 3.3 0 1 0 -6.6 0ZM458.16 447.94a3.3 3.3 0 1 0 6.6 0a3.3 3.3 0 1 0 -6.6 0ZM455.6 458.43a3.3 3.3 0 1 0 6.6 0a3.3 3.3 0 1 0 -6.6 0ZM452.71 455.67a3.3 3.3 0 1 0 6.6 0a3.3 3.3 0 1 0 -6.6 0ZM454.36 465.04a3.3 3.3 0 1 0 6.6 0a3.3 3.3 0 1 0 -6.6 0ZM455.29 459.98a3.3 3.3 0 1 0 6.6 0a3.3 3.3 0 1 0 -6.6 0ZM459.5 469.84a3.3 3.3 0 1 0 6.6 0a3.3 3.3 0 1 0 -6.6 0ZM452.76 453.91a3.3 3.3 0 1 0 6.6 0a3.3 3.3 0 1 0 -6.6 0ZM448.83 478.34a3.3 3.3 0 1 0 6.6 0a3.3 3.3 0 1 0 -6.6 0ZM453.3 465.85a3.3 3.3 0 1 0 6.6 0a3.3 3.3 0 1 0 -6.6 0ZM457.72 471.77a3.3 3.3 0 1 0 6.6 0a3.3 3.3 0 1 0 -6.6 0ZM459.81 477.15a3.3 3.3 0 1 0 6.6 0a3.3 3.3 0 1 0 -6.6 0ZM456.85 481.45a3.3 3.3 0 1 0 6.6 0a3.3 3.3 0 1 0 -6.6 0ZM453.02 473.94a3.3 3.3 0 1 0 6.6 0a3.3 3.3 0 1 0 -6.6 0ZM453.52 463.96a3.3 3.3 0 1 0 6.6 0a3.3 3.3 0 1 0 -6.6 0ZM452.56 454.32a3.3 3.3 0 1 0 6.6 0a3.3 3.3 0 1 0 -6.6 0ZM454.48 474.78a3.3 3.3 0 1 0 6.6 0a3.3 3.3 0 1 0 -6.6 0ZM457.2 447.98a3.3 3.3 0 1 0 6.6 0a3.3 3.3 0 1 0 -6.6 0ZM449.7 480.33a3.3 3.3 0 1 0 6.6 0a3.3 3.3 0 1 0 -6.6 0ZM451.58 469.39a3.3 3.3 0 1 0 6.6 0a3.3 3.3 0 1 0 -6.6 0ZM448.5 473.69a3.3 3.3 0 1 0 6.6 0a3.3 3.3 0 1 0 -6.6 0ZM460.7 479.28a3.3 3.3 0 1 0 6.6 0a3.3 3.3 0 1 0 -6.6 0ZM454.64 460.07a3.3 3.3 0 1 0 6.6 0a3.3 3.3 0 1 0 -6.6 0ZM452.67 454.31a3.3 3.3 0 1 0 6.6 0a3.3 3.3 0 1 0 -6.6 0ZM456.6 454.7a3.3 3.3 0 1 0 6.6 0a3.3 3.3 0 1 0 -6.6 0ZM454.42 457.07a3.3 3.3 0 1 0 6.6 0a3.3 3.3 0 1 0 -6.6 0ZM454.57 452.18a3.3 3.3 0 1 0 6.6 0a3.3 3.3 0 1 0 -6.6 0ZM454.47 466.27a3.3 3.3 0 1 0 6.6 0a3.3 3.3 0 1 0 -6.6 0ZM450.85 457.49a3.3 3.3 0 1 0 6.6 0a3.3 3.3 0 1 0 -6.6 0ZM450.84 461.74a3.3 3.3 0 1 0 6.6 0a3.3 3.3 0 1 0 -6.6 0ZM455.69 463.13a3.3 3.3 0 1 0 6.6 0a3.3 3.3 0 1 0 -6.6 0ZM462.22 448.01a3.3 3.3 0 1 0 6.6 0a3.3 3.3 0 1 0 -6.6 0ZM580.4 491.8a3.3 3.3 0 1 0 6.6 0a3.3 3.3 0 1 0 -6.6 0Z" class="mA"/>
<path d="M444 428.51L439.7 436.01L448.3 436.01ZM427.98 499.69L423.68 507.19L432.28 507.19ZM427.42 488.85L423.12 496.35L431.72 496.35ZM428.26 487.2L423.96 494.7L432.56 494.7ZM429.11 485.55L424.81 493.05L433.41 493.05ZM427.14 477.54L422.84 485.04L431.44 485.04ZM426.86 453.73L422.56 461.23L431.16 461.23ZM458.04 451.14L453.74 458.64L462.34 458.64ZM430.23 482.72L425.93 490.22L434.53 490.22ZM432.76 481.55L428.46 489.05L437.06 489.05ZM436.97 480.37L432.67 487.87L441.27 487.87ZM440.34 482.02L436.04 489.52L444.64 489.52ZM449.62 482.72L445.32 490.22L453.92 490.22ZM452.43 479.19L448.13 486.69L456.73 486.69ZM456.64 475.65L452.34 483.15L460.94 483.15ZM454.39 483.9L450.09 491.4L458.69 491.4ZM446.81 432.05L442.51 439.55L451.11 439.55ZM453.83 436.76L449.53 444.26L458.13 444.26ZM429.67 472.12L425.37 479.62L433.97 479.62ZM431.35 440.3L427.05 447.8L435.65 447.8ZM429.67 448.55L425.37 456.05L433.97 456.05ZM434.73 475.65L430.43 483.15L439.03 483.15ZM435.85 472.12L431.55 479.62L440.15 479.62ZM432.48 474.47L428.18 481.97L436.78 481.97ZM439.75 462.98L435.45 470.48L444.05 470.48ZM434.74 465.55L430.44 473.05L439.04 473.05ZM440.81 439.85L436.51 447.35L445.11 447.35ZM448.1 458.91L443.8 466.41L452.4 466.41ZM448.2 434.24L443.9 441.74L452.5 441.74ZM435.29 444.71L430.99 452.21L439.59 452.21ZM446.6 441.31L442.3 448.81L450.9 448.81ZM435.35 469.11L431.05 476.61L439.65 476.61ZM432.92 449.97L428.62 457.47L437.22 457.47ZM433.44 468.71L429.14 476.21L437.74 476.21ZM434.84 449.41L430.54 456.91L439.14 456.91ZM444.39 458.94L440.09 466.44L448.69 466.44ZM448.31 442.43L444.01 449.93L452.61 449.93ZM444.73 447.05L440.43 454.55L449.03 454.55ZM440.24 478.59L435.94 486.09L444.54 486.09ZM446.35 444.11L442.05 451.61L450.65 451.61ZM445.22 462.06L440.92 469.56L449.52 469.56ZM441.49 457.23L437.19 464.73L445.79 464.73ZM433.8 459.78L429.5 467.28L438.1 467.28ZM430.46 476.07L426.16 483.57L434.76 483.57ZM444.16 461.91L439.86 469.41L448.46 469.41ZM447.25 443.34L442.95 450.84L451.55 450.84ZM442.99 453.83L438.69 461.33L447.29 461.33ZM438.17 451.07L433.87 458.57L442.47 458.57ZM440.93 460.44L436.63 467.94L445.23 467.94ZM442.47 455.38L438.17 462.88L446.77 462.88ZM449.49 465.24L445.19 472.74L453.79 472.74ZM438.26 449.31L433.96 456.81L442.56 456.81ZM431.71 473.74L427.41 481.24L436.01 481.24ZM439.15 461.25L434.85 468.75L443.45 468.75ZM446.52 467.17L442.22 474.67L450.82 474.67ZM450 472.55L445.7 480.05L454.3 480.05ZM445.06 476.85L440.76 484.35L449.36 484.35ZM438.68 469.34L434.38 476.84L442.98 476.84ZM439.52 459.36L435.22 466.86L443.82 466.86ZM437.92 449.72L433.62 457.22L442.22 457.22ZM441.13 470.18L436.83 477.68L445.43 477.68ZM445.65 443.38L441.35 450.88L449.95 450.88ZM433.15 475.73L428.85 483.23L437.45 483.23ZM436.3 464.79L432 472.29L440.6 472.29ZM431.15 469.09L426.85 476.59L435.45 476.59ZM451.49 474.68L447.19 482.18L455.79 482.18ZM441.4 455.47L437.1 462.97L445.7 462.97ZM438.11 449.71L433.81 457.21L442.41 457.21ZM444.66 450.1L440.36 457.6L448.96 457.6ZM441.02 452.47L436.72 459.97L445.32 459.97ZM441.27 447.58L436.97 455.08L445.57 455.08ZM441.1 461.67L436.8 469.17L445.4 469.17ZM435.08 452.89L430.78 460.39L439.38 460.39ZM435.06 457.14L430.76 464.64L439.36 464.64ZM443.13 458.53L438.83 466.03L447.43 466.03ZM454.01 443.41L449.71 450.91L458.31 450.91ZM583.7 501.5L579.4 509L588 509Z" class="mU"/>
<path d="M445.21 429.46L446.23 432.05L449.01 432.23L446.87 434L447.56 436.7L445.21 435.21L442.85 436.7L443.54 434L441.4 432.23L444.18 432.05ZM414.78 500.64L415.81 503.23L418.58 503.41L416.44 505.19L417.13 507.88L414.78 506.39L412.43 507.88L413.11 505.19L410.97 503.41L413.75 503.23ZM413.71 489.8L414.74 492.39L417.52 492.57L415.38 494.34L416.06 497.04L413.71 495.55L411.36 497.04L412.05 494.34L409.91 492.57L412.68 492.39ZM415.31 488.15L416.34 490.74L419.12 490.92L416.98 492.69L417.66 495.39L415.31 493.9L412.96 495.39L413.65 492.69L411.51 490.92L414.28 490.74ZM416.91 486.5L417.94 489.09L420.72 489.27L418.58 491.04L419.26 493.74L416.91 492.25L414.56 493.74L415.25 491.04L413.11 489.27L415.88 489.09ZM413.18 478.49L414.21 481.07L416.98 481.25L414.84 483.03L415.53 485.73L413.18 484.24L410.83 485.73L411.51 483.03L409.37 481.25L412.15 481.07ZM412.64 454.68L413.67 457.27L416.45 457.45L414.31 459.22L414.99 461.92L412.64 460.43L410.29 461.92L410.98 459.22L408.84 457.45L411.61 457.27ZM471.9 452.09L472.92 454.67L475.7 454.85L473.56 456.63L474.25 459.33L471.9 457.84L469.54 459.33L470.23 456.63L468.09 454.85L470.87 454.67ZM419.05 483.67L420.08 486.26L422.85 486.44L420.71 488.22L421.4 490.91L419.05 489.42L416.7 490.91L417.38 488.22L415.24 486.44L418.02 486.26ZM423.85 482.5L424.88 485.08L427.66 485.26L425.52 487.04L426.2 489.73L423.85 488.25L421.5 489.73L422.19 487.04L420.05 485.26L422.82 485.08ZM431.86 481.32L432.89 483.9L435.66 484.08L433.52 485.86L434.21 488.55L431.86 487.07L429.51 488.55L430.2 485.86L428.06 484.08L430.83 483.9ZM438.27 482.97L439.29 485.55L442.07 485.73L439.93 487.51L440.62 490.2L438.27 488.72L435.91 490.2L436.6 487.51L434.46 485.73L437.24 485.55ZM455.88 483.67L456.91 486.26L459.69 486.44L457.55 488.22L458.23 490.91L455.88 489.42L453.53 490.91L454.22 488.22L452.08 486.44L454.85 486.26ZM461.22 480.14L462.25 482.72L465.02 482.9L462.88 484.68L463.57 487.38L461.22 485.89L458.87 487.38L459.56 484.68L457.42 482.9L460.19 482.72ZM469.23 476.6L470.26 479.19L473.03 479.37L470.89 481.14L471.58 483.84L469.23 482.35L466.88 483.84L467.56 481.14L465.42 479.37L468.2 479.19ZM464.96 484.85L465.98 487.44L468.76 487.62L466.62 489.39L467.31 492.09L464.96 490.6L462.6 492.09L463.29 489.39L461.15 487.62L463.93 487.44ZM450.54 433L451.57 435.58L454.35 435.76L452.21 437.54L452.89 440.24L450.54 438.75L448.19 440.24L448.88 437.54L446.74 435.76L449.51 435.58ZM463.89 437.71L464.92 440.3L467.69 440.48L465.55 442.25L466.24 444.95L463.89 443.46L461.54 444.95L462.22 442.25L460.08 440.48L462.86 440.3ZM417.98 473.07L419.01 475.65L421.79 475.83L419.65 477.61L420.33 480.3L417.98 478.82L415.63 480.3L416.32 477.61L414.18 475.83L416.95 475.65ZM421.18 441.25L422.21 443.83L424.99 444.01L422.85 445.79L423.54 448.48L421.18 447L418.83 448.48L419.52 445.79L417.38 444.01L420.16 443.83ZM417.98 449.5L419.01 452.08L421.79 452.26L419.65 454.04L420.33 456.73L417.98 455.25L415.63 456.73L416.32 454.04L414.18 452.26L416.95 452.08ZM427.59 476.6L428.62 479.19L431.39 479.37L429.25 481.14L429.94 483.84L427.59 482.35L425.24 483.84L425.93 481.14L423.79 479.37L426.56 479.19ZM429.72 473.07L430.75 475.65L433.53 475.83L431.39 477.61L432.08 480.3L429.72 478.82L427.37 480.3L428.06 477.61L425.92 475.83L428.7 475.65ZM423.32 475.43L424.35 478.01L427.12 478.19L424.98 479.97L425.67 482.66L423.32 481.18L420.97 482.66L421.65 479.97L419.52 478.19L422.29 478.01ZM437.13 463.93L438.16 466.52L440.94 466.7L438.8 468.47L439.49 471.17L437.13 469.68L434.78 471.17L435.47 468.47L433.33 466.7L436.11 466.52ZM427.61 466.5L428.64 469.08L431.42 469.26L429.28 471.04L429.96 473.74L427.61 472.25L425.26 473.74L425.95 471.04L423.81 469.26L426.58 469.08ZM439.15 440.8L440.18 443.38L442.96 443.56L440.82 445.34L441.51 448.03L439.15 446.55L436.8 448.03L437.49 445.34L435.35 443.56L438.13 443.38ZM453.01 459.86L454.04 462.44L456.81 462.62L454.67 464.4L455.36 467.09L453.01 465.61L450.66 467.09L451.34 464.4L449.2 462.62L451.98 462.44ZM453.2 435.19L454.22 437.77L457 437.95L454.86 439.73L455.55 442.43L453.2 440.94L450.84 442.43L451.53 439.73L449.39 437.95L452.17 437.77ZM428.67 445.66L429.7 448.24L432.47 448.42L430.33 450.2L431.02 452.89L428.67 451.41L426.32 452.89L427 450.2L424.86 448.42L427.64 448.24ZM450.14 442.26L451.17 444.85L453.95 445.03L451.81 446.8L452.49 449.5L450.14 448.01L447.79 449.5L448.48 446.8L446.34 445.03L449.11 444.85ZM428.78 470.06L429.81 472.65L432.58 472.83L430.44 474.6L431.13 477.3L428.78 475.81L426.43 477.3L427.11 474.6L424.97 472.83L427.75 472.65ZM424.15 450.92L425.18 453.5L427.96 453.68L425.82 455.46L426.5 458.15L424.15 456.67L421.8 458.15L422.49 455.46L420.35 453.68L423.12 453.5ZM425.15 469.66L426.18 472.25L428.96 472.43L426.82 474.2L427.51 476.9L425.15 475.41L422.8 476.9L423.49 474.2L421.35 472.43L424.13 472.25ZM427.81 450.36L428.84 452.94L431.62 453.12L429.48 454.9L430.16 457.59L427.81 456.11L425.46 457.59L426.15 454.9L424.01 453.12L426.79 452.94ZM445.96 459.89L446.99 462.48L449.76 462.66L447.62 464.43L448.31 467.13L445.96 465.64L443.61 467.13L444.29 464.43L442.15 462.66L444.93 462.48ZM453.4 443.38L454.43 445.96L457.2 446.14L455.06 447.92L455.75 450.62L453.4 449.13L451.05 450.62L451.74 447.92L449.6 446.14L452.37 445.96ZM446.59 448L447.62 450.59L450.4 450.77L448.26 452.54L448.94 455.24L446.59 453.75L444.24 455.24L444.93 452.54L442.79 450.77L445.56 450.59ZM438.06 479.54L439.09 482.12L441.86 482.3L439.73 484.08L440.41 486.78L438.06 485.29L435.71 486.78L436.4 484.08L434.26 482.3L437.03 482.12ZM449.68 445.06L450.71 447.65L453.49 447.83L451.35 449.6L452.03 452.3L449.68 450.81L447.33 452.3L448.02 449.6L445.88 447.83L448.65 447.65ZM447.52 463.01L448.55 465.6L451.33 465.78L449.19 467.55L449.87 470.25L447.52 468.76L445.17 470.25L445.86 467.55L443.72 465.78L446.49 465.6ZM440.43 458.18L441.46 460.77L444.24 460.95L442.1 462.72L442.78 465.42L440.43 463.93L438.08 465.42L438.77 462.72L436.63 460.95L439.4 460.77ZM425.83 460.73L426.86 463.32L429.64 463.5L427.5 465.27L428.18 467.97L425.83 466.48L423.48 467.97L424.17 465.27L422.03 463.5L424.8 463.32ZM419.49 477.02L420.52 479.6L423.3 479.78L421.16 481.56L421.85 484.26L419.49 482.77L417.14 484.26L417.83 481.56L415.69 479.78L418.47 479.6ZM445.52 462.86L446.55 465.44L449.32 465.62L447.18 467.4L447.87 470.09L445.52 468.61L443.17 470.09L443.85 467.4L441.71 465.62L444.49 465.44ZM451.38 444.29L452.41 446.87L455.18 447.05L453.04 448.83L453.73 451.52L451.38 450.04L449.03 451.52L449.72 448.83L447.58 447.05L450.35 446.87ZM443.29 454.78L444.32 457.37L447.09 457.55L444.95 459.33L445.64 462.02L443.29 460.53L440.94 462.02L441.63 459.33L439.49 457.55L442.26 457.37ZM434.14 452.02L435.17 454.61L437.94 454.79L435.8 456.56L436.49 459.26L434.14 457.77L431.79 459.26L432.47 456.56L430.33 454.79L433.11 454.61ZM439.37 461.39L440.4 463.97L443.17 464.15L441.03 465.93L441.72 468.62L439.37 467.14L437.02 468.62L437.71 465.93L435.57 464.15L438.34 463.97ZM442.3 456.33L443.33 458.92L446.1 459.1L443.96 460.87L444.65 463.57L442.3 462.08L439.95 463.57L440.63 460.87L438.49 459.1L441.27 458.92ZM455.64 466.19L456.67 468.77L459.44 468.95L457.3 470.73L457.99 473.42L455.64 471.94L453.29 473.42L453.98 470.73L451.84 468.95L454.61 468.77ZM434.3 450.26L435.33 452.84L438.11 453.02L435.97 454.8L436.65 457.49L434.3 456.01L431.95 457.49L432.64 454.8L430.5 453.02L433.27 452.84ZM421.86 474.69L422.89 477.27L425.66 477.45L423.52 479.23L424.21 481.92L421.86 480.44L419.51 481.92L420.19 479.23L418.05 477.45L420.83 477.27ZM435.99 462.2L437.02 464.78L439.8 464.96L437.66 466.74L438.34 469.43L435.99 467.95L433.64 469.43L434.33 466.74L432.19 464.96L434.96 464.78ZM450 468.12L451.03 470.7L453.81 470.88L451.67 472.66L452.36 475.36L450 473.87L447.65 475.36L448.34 472.66L446.2 470.88L448.98 470.7ZM456.62 473.5L457.65 476.09L460.42 476.27L458.28 478.04L458.97 480.74L456.62 479.25L454.27 480.74L454.95 478.04L452.81 476.27L455.59 476.09ZM447.23 477.8L448.26 480.38L451.04 480.56L448.9 482.34L449.58 485.03L447.23 483.55L444.88 485.03L445.57 482.34L443.43 480.56L446.2 480.38ZM435.11 470.29L436.14 472.87L438.91 473.05L436.77 474.83L437.46 477.52L435.11 476.04L432.76 477.52L433.44 474.83L431.3 473.05L434.08 472.87ZM436.69 460.31L437.72 462.9L440.5 463.08L438.36 464.85L439.04 467.55L436.69 466.06L434.34 467.55L435.03 464.85L432.89 463.08L435.66 462.9ZM433.65 450.67L434.68 453.25L437.46 453.43L435.32 455.21L436.01 457.9L433.65 456.42L431.3 457.9L431.99 455.21L429.85 453.43L432.63 453.25ZM439.75 471.13L440.78 473.72L443.56 473.9L441.42 475.67L442.11 478.37L439.75 476.88L437.4 478.37L438.09 475.67L435.95 473.9L438.73 473.72ZM448.35 444.33L449.38 446.91L452.16 447.09L450.02 448.87L450.71 451.57L448.35 450.08L446 451.57L446.69 448.87L444.55 447.09L447.33 446.91ZM424.6 476.68L425.63 479.26L428.41 479.44L426.27 481.22L426.95 483.91L424.6 482.43L422.25 483.91L422.94 481.22L420.8 479.44L423.57 479.26ZM430.57 465.74L431.6 468.32L434.38 468.5L432.24 470.28L432.92 472.97L430.57 471.49L428.22 472.97L428.91 470.28L426.77 468.5L429.54 468.32ZM420.79 470.04L421.82 472.63L424.59 472.81L422.45 474.58L423.14 477.28L420.79 475.79L418.44 477.28L419.12 474.58L416.99 472.81L419.76 472.63ZM459.44 475.63L460.47 478.21L463.25 478.39L461.11 480.17L461.79 482.86L459.44 481.38L457.09 482.86L457.78 480.17L455.64 478.39L458.41 478.21ZM440.26 456.42L441.29 459L444.07 459.18L441.93 460.96L442.61 463.65L440.26 462.17L437.91 463.65L438.6 460.96L436.46 459.18L439.23 459ZM434.02 450.66L435.05 453.24L437.83 453.42L435.69 455.2L436.38 457.89L434.02 456.41L431.67 457.89L432.36 455.2L430.22 453.42L433 453.24ZM446.47 451.05L447.5 453.64L450.27 453.82L448.13 455.59L448.82 458.29L446.47 456.8L444.12 458.29L444.81 455.59L442.67 453.82L445.44 453.64ZM439.56 453.42L440.59 456L443.36 456.18L441.22 457.96L441.91 460.66L439.56 459.17L437.21 460.66L437.89 457.96L435.75 456.18L438.53 456ZM440.01 448.53L441.04 451.12L443.82 451.3L441.68 453.07L442.37 455.77L440.01 454.28L437.66 455.77L438.35 453.07L436.21 451.3L438.99 451.12ZM439.7 462.62L440.73 465.2L443.5 465.38L441.36 467.16L442.05 469.85L439.7 468.37L437.35 469.85L438.03 467.16L435.89 465.38L438.67 465.2ZM428.26 453.84L429.29 456.42L432.07 456.6L429.93 458.38L430.61 461.07L428.26 459.59L425.91 461.07L426.6 458.38L424.46 456.6L427.23 456.42ZM428.23 458.09L429.26 460.68L432.03 460.86L429.89 462.63L430.58 465.33L428.23 463.84L425.88 465.33L426.57 462.63L424.43 460.86L427.2 460.68ZM443.56 459.48L444.59 462.07L447.36 462.25L445.22 464.02L445.91 466.72L443.56 465.23L441.21 466.72L441.9 464.02L439.76 462.25L442.53 462.07ZM464.24 444.36L465.26 446.94L468.04 447.12L465.9 448.9L466.59 451.6L464.24 450.11L461.88 451.6L462.57 448.9L460.43 447.12L463.21 446.94ZM583.7 516.55L584.73 519.13L587.5 519.31L585.36 521.09L586.05 523.79L583.7 522.3L581.35 523.79L582.04 521.09L579.9 519.31L582.67 519.13Z" class="mK"/>
<path d="M410.8 495.8V509H421.6Z" class="gtri"/>
<path d="M475.3 510.89H401.4" class="mag"/>
<path d="M394.4 510.89l7.6 -3.6v7.2Z" fill="#ff00ff"/>
<path d="M408.32 434.2V530.2" class="blu"/>
<path d="M408.32 536.5l-3.7 -7.8h7.4Z" fill="#0a6cff"/>
<path d="M394.55 538v5M394.55 538h-5M422.64 538v3M394.55 514.43h-3M450.74 538v5M394.55 490.86h-5M478.84 538v3M394.55 467.29h-3M506.93 538v5M394.55 443.72h-5M535.02 538v3M394.55 420.15h-3M563.12 538v5M394.55 396.58h-5M591.22 538v3M394.55 373.01h-3M619.31 538v5M394.55 349.44h-5M647.4 538v3M394.55 325.87h-3M675.5 538v5M394.55 302.3h-5" class="tk"/>
<path d="M394.55 301.7V538.6" stroke="#111" stroke-width="1.2" fill="none"/>
<path d="M393.95 302.3H675.5V538H393.95" class="fr"/>
<g clip-path="url(#clip4)">
<text x="391.25" y="555.8" class="tl" textLength="6.4" lengthAdjust="spacingAndGlyphs">0</text>
<text x="444.24" y="555.8" class="tl" textLength="12.8" lengthAdjust="spacingAndGlyphs">20</text>
<text x="500.43" y="555.8" class="tl" textLength="12.8" lengthAdjust="spacingAndGlyphs">40</text>
<text x="556.62" y="555.8" class="tl" textLength="12.8" lengthAdjust="spacingAndGlyphs">60</text>
<text x="612.81" y="555.8" class="tl" textLength="12.8" lengthAdjust="spacingAndGlyphs">80</text>
<text x="665.8" y="555.8" class="tl" textLength="19.2" lengthAdjust="spacingAndGlyphs">100</text>
</g>
<text x="379.95" y="541.9" class="tl" textLength="6.4" lengthAdjust="spacingAndGlyphs">0</text>
<text x="373.55" y="494.76" class="tl" textLength="12.8" lengthAdjust="spacingAndGlyphs">20</text>
<text x="373.55" y="447.62" class="tl" textLength="12.8" lengthAdjust="spacingAndGlyphs">40</text>
<text x="373.55" y="400.48" class="tl" textLength="12.8" lengthAdjust="spacingAndGlyphs">60</text>
<text x="373.55" y="353.34" class="tl" textLength="12.8" lengthAdjust="spacingAndGlyphs">80</text>
<text x="367.15" y="306.2" class="tl" textLength="19.2" lengthAdjust="spacingAndGlyphs">100</text>
<text x="432.4" y="571.1" class="at" textLength="54.4" lengthAdjust="spacingAndGlyphs">Estimated</text>
<text x="491.6" y="571.1" class="at" textLength="68.7" lengthAdjust="spacingAndGlyphs">compressive</text>
<text x="566.5" y="571.1" class="at" textLength="45" lengthAdjust="spacingAndGlyphs">strength</text>
<text x="614.3" y="571.1" class="at" textLength="26.6" lengthAdjust="spacingAndGlyphs">from</text>
<text x="507" y="584.6" class="at" textLength="57.6" lengthAdjust="spacingAndGlyphs">RHT (MPa)</text>
<g transform="translate(356.1 509.7) rotate(-90)">
<text x="0" y="0" class="yt" textLength="25.6" lengthAdjust="spacingAndGlyphs">Core</text>
<text x="30.5" y="0" class="yt" textLength="67.3" lengthAdjust="spacingAndGlyphs">compressive</text>
<text x="102.8" y="0" class="yt" textLength="46" lengthAdjust="spacingAndGlyphs">strength</text>
<text x="154.6" y="0" class="yt" textLength="28.7" lengthAdjust="spacingAndGlyphs">(MPa)</text>
</g>
<text x="485.3" y="321.4" class="ti" text-anchor="middle">Gunseonganggyo Bridge,</text>
<text x="485.3" y="337.6" class="ti" text-anchor="middle">Girder</text>
<text x="603.9" y="480.5" class="lg" textLength="29.8" lengthAdjust="spacingAndGlyphs">JSMS</text>
<text x="603.9" y="494.5" class="lg" textLength="15.8" lengthAdjust="spacingAndGlyphs">AIJ</text>
<text x="603.9" y="508.5" class="lg" textLength="45" lengthAdjust="spacingAndGlyphs">US Army</text>
<text x="603.9" y="522" class="lg" textLength="29.8" lengthAdjust="spacingAndGlyphs">KMST</text>
</g>
<g id="plot5">
<path d="M78.5 600V835.45M51 811.5H332.05M135.5 600V835.45M51 764.5H332.05M191.5 600V835.45M51 717.5H332.05M247.5 600V835.45M51 670.5H332.05M303.5 600V835.45M51 623.5H332.05" class="gmin"/>
<path d="M106.5 600V835.45M51 788.5H332.05M163.5 600V835.45M51 741.5H332.05M219.5 600V835.45M51 694.5H332.05M275.5 600V835.45M51 646.5H332.05" class="gmaj"/>
<rect x="53" y="602" width="176.7" height="39.5" fill="#fff"/>
<rect x="252.4" y="767.8" width="73.6" height="59.5" fill="#fff"/>
<path d="M50.55 835.45L332.05 599.85" class="diag"/>
<path d="M101.68 657.66h6.4v6.4h-6.4ZM111.25 658.66h6.4v6.4h-6.4ZM109.28 657.83h6.4v6.4h-6.4ZM112.66 657.53h6.4v6.4h-6.4ZM107.87 664.86h6.4v6.4h-6.4ZM110.12 664h6.4v6.4h-6.4ZM113.5 664.81h6.4v6.4h-6.4ZM93.52 671.26h6.4v6.4h-6.4ZM112.09 675.39h6.4v6.4h-6.4ZM100.83 693.01h6.4v6.4h-6.4ZM103.09 694.15h6.4v6.4h-6.4ZM105.34 693.18h6.4v6.4h-6.4ZM107.59 693.76h6.4v6.4h-6.4ZM109.84 694.11h6.4v6.4h-6.4ZM112.09 693.61h6.4v6.4h-6.4ZM114.35 693.7h6.4v6.4h-6.4ZM116.04 693.56h6.4v6.4h-6.4ZM106.18 703.37h6.4v6.4h-6.4ZM107.31 703.29h6.4v6.4h-6.4ZM101.68 708.84h6.4v6.4h-6.4ZM103.65 707.4h6.4v6.4h-6.4ZM99.15 713.53h6.4v6.4h-6.4ZM96.61 712.88h6.4v6.4h-6.4ZM88.45 717.39h6.4v6.4h-6.4ZM90.98 717.94h6.4v6.4h-6.4ZM93.8 718.45h6.4v6.4h-6.4ZM99.99 717.17h6.4v6.4h-6.4ZM102.24 717.04h6.4v6.4h-6.4ZM105.06 717.75h6.4v6.4h-6.4ZM99.15 723.18h6.4v6.4h-6.4ZM101.4 721.85h6.4v6.4h-6.4ZM102.52 721.96h6.4v6.4h-6.4ZM77.19 725.28h6.4v6.4h-6.4ZM86.76 725.1h6.4v6.4h-6.4ZM83.94 725.1h6.4v6.4h-6.4ZM85.07 735.92h6.4v6.4h-6.4ZM88.17 736.56h6.4v6.4h-6.4ZM91.26 736.3h6.4v6.4h-6.4ZM83.94 740.36h6.4v6.4h-6.4ZM87.32 739.88h6.4v6.4h-6.4ZM90.14 740.13h6.4v6.4h-6.4ZM93.23 739.75h6.4v6.4h-6.4ZM96.61 740.34h6.4v6.4h-6.4ZM85.35 743.73h6.4v6.4h-6.4ZM89.01 743.03h6.4v6.4h-6.4ZM92.39 743.35h6.4v6.4h-6.4ZM83.94 746.15h6.4v6.4h-6.4ZM86.76 746.59h6.4v6.4h-6.4ZM90.98 747.67h6.4v6.4h-6.4ZM95.2 747.12h6.4v6.4h-6.4ZM89.58 757.72h6.4v6.4h-6.4ZM93.8 757.78h6.4v6.4h-6.4ZM102.52 758.03h6.4v6.4h-6.4ZM104.78 758.06h6.4v6.4h-6.4ZM107.03 757.36h6.4v6.4h-6.4ZM79.72 770.93h6.4v6.4h-6.4ZM87.6 770.77h6.4v6.4h-6.4ZM83.38 776.71h6.4v6.4h-6.4ZM236.9 771.6h6.4v6.4h-6.4Z" class="mJ"/>
<path d="M114.21 660.86a3.3 3.3 0 1 0 6.6 0a3.3 3.3 0 1 0 -6.6 0ZM119.43 661.86a3.3 3.3 0 1 0 6.6 0a3.3 3.3 0 1 0 -6.6 0ZM118.35 661.03a3.3 3.3 0 1 0 6.6 0a3.3 3.3 0 1 0 -6.6 0ZM120.2 660.73a3.3 3.3 0 1 0 6.6 0a3.3 3.3 0 1 0 -6.6 0ZM117.59 668.06a3.3 3.3 0 1 0 6.6 0a3.3 3.3 0 1 0 -6.6 0ZM118.81 667.2a3.3 3.3 0 1 0 6.6 0a3.3 3.3 0 1 0 -6.6 0ZM120.66 668.01a3.3 3.3 0 1 0 6.6 0a3.3 3.3 0 1 0 -6.6 0ZM109.76 674.46a3.3 3.3 0 1 0 6.6 0a3.3 3.3 0 1 0 -6.6 0ZM119.89 678.59a3.3 3.3 0 1 0 6.6 0a3.3 3.3 0 1 0 -6.6 0ZM113.75 696.21a3.3 3.3 0 1 0 6.6 0a3.3 3.3 0 1 0 -6.6 0ZM114.98 697.35a3.3 3.3 0 1 0 6.6 0a3.3 3.3 0 1 0 -6.6 0ZM116.21 696.38a3.3 3.3 0 1 0 6.6 0a3.3 3.3 0 1 0 -6.6 0ZM117.43 696.96a3.3 3.3 0 1 0 6.6 0a3.3 3.3 0 1 0 -6.6 0ZM118.66 697.31a3.3 3.3 0 1 0 6.6 0a3.3 3.3 0 1 0 -6.6 0ZM119.89 696.81a3.3 3.3 0 1 0 6.6 0a3.3 3.3 0 1 0 -6.6 0ZM121.12 696.9a3.3 3.3 0 1 0 6.6 0a3.3 3.3 0 1 0 -6.6 0ZM122.04 696.76a3.3 3.3 0 1 0 6.6 0a3.3 3.3 0 1 0 -6.6 0ZM116.67 706.57a3.3 3.3 0 1 0 6.6 0a3.3 3.3 0 1 0 -6.6 0ZM117.28 706.49a3.3 3.3 0 1 0 6.6 0a3.3 3.3 0 1 0 -6.6 0ZM114.21 712.04a3.3 3.3 0 1 0 6.6 0a3.3 3.3 0 1 0 -6.6 0ZM115.29 710.6a3.3 3.3 0 1 0 6.6 0a3.3 3.3 0 1 0 -6.6 0ZM112.83 716.73a3.3 3.3 0 1 0 6.6 0a3.3 3.3 0 1 0 -6.6 0ZM111.45 716.08a3.3 3.3 0 1 0 6.6 0a3.3 3.3 0 1 0 -6.6 0ZM107 720.59a3.3 3.3 0 1 0 6.6 0a3.3 3.3 0 1 0 -6.6 0ZM108.38 721.14a3.3 3.3 0 1 0 6.6 0a3.3 3.3 0 1 0 -6.6 0ZM109.92 721.65a3.3 3.3 0 1 0 6.6 0a3.3 3.3 0 1 0 -6.6 0ZM113.29 720.37a3.3 3.3 0 1 0 6.6 0a3.3 3.3 0 1 0 -6.6 0ZM114.52 720.24a3.3 3.3 0 1 0 6.6 0a3.3 3.3 0 1 0 -6.6 0ZM116.05 720.95a3.3 3.3 0 1 0 6.6 0a3.3 3.3 0 1 0 -6.6 0ZM112.83 726.38a3.3 3.3 0 1 0 6.6 0a3.3 3.3 0 1 0 -6.6 0ZM114.06 725.05a3.3 3.3 0 1 0 6.6 0a3.3 3.3 0 1 0 -6.6 0ZM114.67 725.16a3.3 3.3 0 1 0 6.6 0a3.3 3.3 0 1 0 -6.6 0ZM100.86 728.48a3.3 3.3 0 1 0 6.6 0a3.3 3.3 0 1 0 -6.6 0ZM106.08 728.3a3.3 3.3 0 1 0 6.6 0a3.3 3.3 0 1 0 -6.6 0ZM104.55 728.3a3.3 3.3 0 1 0 6.6 0a3.3 3.3 0 1 0 -6.6 0ZM105.16 739.12a3.3 3.3 0 1 0 6.6 0a3.3 3.3 0 1 0 -6.6 0ZM106.85 739.76a3.3 3.3 0 1 0 6.6 0a3.3 3.3 0 1 0 -6.6 0ZM108.54 739.5a3.3 3.3 0 1 0 6.6 0a3.3 3.3 0 1 0 -6.6 0ZM104.55 743.56a3.3 3.3 0 1 0 6.6 0a3.3 3.3 0 1 0 -6.6 0ZM106.39 743.08a3.3 3.3 0 1 0 6.6 0a3.3 3.3 0 1 0 -6.6 0ZM107.92 743.33a3.3 3.3 0 1 0 6.6 0a3.3 3.3 0 1 0 -6.6 0ZM109.61 742.95a3.3 3.3 0 1 0 6.6 0a3.3 3.3 0 1 0 -6.6 0ZM111.45 743.54a3.3 3.3 0 1 0 6.6 0a3.3 3.3 0 1 0 -6.6 0ZM105.31 746.93a3.3 3.3 0 1 0 6.6 0a3.3 3.3 0 1 0 -6.6 0ZM107.31 746.23a3.3 3.3 0 1 0 6.6 0a3.3 3.3 0 1 0 -6.6 0ZM109.15 746.55a3.3 3.3 0 1 0 6.6 0a3.3 3.3 0 1 0 -6.6 0ZM104.55 749.35a3.3 3.3 0 1 0 6.6 0a3.3 3.3 0 1 0 -6.6 0ZM106.08 749.79a3.3 3.3 0 1 0 6.6 0a3.3 3.3 0 1 0 -6.6 0ZM108.38 750.87a3.3 3.3 0 1 0 6.6 0a3.3 3.3 0 1 0 -6.6 0ZM110.68 750.32a3.3 3.3 0 1 0 6.6 0a3.3 3.3 0 1 0 -6.6 0ZM107.61 760.92a3.3 3.3 0 1 0 6.6 0a3.3 3.3 0 1 0 -6.6 0ZM109.92 760.98a3.3 3.3 0 1 0 6.6 0a3.3 3.3 0 1 0 -6.6 0ZM114.67 761.23a3.3 3.3 0 1 0 6.6 0a3.3 3.3 0 1 0 -6.6 0ZM115.9 761.26a3.3 3.3 0 1 0 6.6 0a3.3 3.3 0 1 0 -6.6 0ZM117.13 760.56a3.3 3.3 0 1 0 6.6 0a3.3 3.3 0 1 0 -6.6 0ZM102.25 774.13a3.3 3.3 0 1 0 6.6 0a3.3 3.3 0 1 0 -6.6 0ZM106.54 773.97a3.3 3.3 0 1 0 6.6 0a3.3 3.3 0 1 0 -6.6 0ZM104.24 779.91a3.3 3.3 0 1 0 6.6 0a3.3 3.3 0 1 0 -6.6 0ZM236.8 789.1a3.3 3.3 0 1 0 6.6 0a3.3 3.3 0 1 0 -6.6 0Z" class="mA"/>
<path d="M106.43 656.26L102.13 663.76L110.73 663.76ZM118.59 657.26L114.29 664.76L122.89 664.76ZM116.08 656.43L111.78 663.93L120.38 663.93ZM120.37 656.13L116.07 663.63L124.67 663.63ZM114.3 663.46L110 670.96L118.6 670.96ZM117.16 662.6L112.86 670.1L121.46 670.1ZM121.45 663.41L117.15 670.91L125.75 670.91ZM97.28 669.86L92.98 677.36L101.58 677.36ZM119.66 673.99L115.36 681.49L123.96 681.49ZM105.36 691.61L101.06 699.11L109.66 699.11ZM108.22 692.75L103.92 700.25L112.52 700.25ZM111.08 691.78L106.78 699.28L115.38 699.28ZM113.94 692.36L109.64 699.86L118.24 699.86ZM116.8 692.71L112.5 700.21L121.1 700.21ZM119.66 692.21L115.36 699.71L123.96 699.71ZM122.52 692.3L118.22 699.8L126.82 699.8ZM124.66 692.16L120.36 699.66L128.96 699.66ZM112.15 701.97L107.85 709.47L116.45 709.47ZM113.58 701.89L109.28 709.39L117.88 709.39ZM106.43 707.44L102.13 714.94L110.73 714.94ZM108.93 706L104.63 713.5L113.23 713.5ZM103.21 712.13L98.91 719.63L107.51 719.63ZM100.38 711.48L96.08 718.98L104.68 718.98ZM92.21 715.99L87.91 723.49L96.51 723.49ZM94.75 716.54L90.45 724.04L99.05 724.04ZM97.56 717.05L93.26 724.55L101.86 724.55ZM104.29 715.77L99.99 723.27L108.59 723.27ZM107.15 715.64L102.85 723.14L111.45 723.14ZM110.72 716.35L106.42 723.85L115.02 723.85ZM103.21 721.78L98.91 729.28L107.51 729.28ZM106.07 720.45L101.77 727.95L110.37 727.95ZM107.5 720.56L103.2 728.06L111.8 728.06ZM80.95 723.88L76.65 731.38L85.25 731.38ZM90.52 723.7L86.22 731.2L94.82 731.2ZM87.71 723.7L83.41 731.2L92.01 731.2ZM88.83 734.52L84.53 742.02L93.13 742.02ZM91.93 735.16L87.63 742.66L96.23 742.66ZM95.03 734.9L90.73 742.4L99.33 742.4ZM87.71 738.96L83.41 746.46L92.01 746.46ZM91.09 738.48L86.79 745.98L95.39 745.98ZM93.9 738.73L89.6 746.23L98.2 746.23ZM97 738.35L92.7 745.85L101.3 745.85ZM100.38 738.94L96.08 746.44L104.68 746.44ZM89.12 742.33L84.82 749.83L93.42 749.83ZM92.78 741.63L88.48 749.13L97.08 749.13ZM96.15 741.95L91.85 749.45L100.45 749.45ZM87.71 744.75L83.41 752.25L92.01 752.25ZM90.52 745.19L86.22 752.69L94.82 752.69ZM94.75 746.27L90.45 753.77L99.05 753.77ZM98.97 745.72L94.67 753.22L103.27 753.22ZM93.34 756.32L89.04 763.82L97.64 763.82ZM97.56 756.38L93.26 763.88L101.86 763.88ZM107.5 756.63L103.2 764.13L111.8 764.13ZM110.36 756.66L106.06 764.16L114.66 764.16ZM113.22 755.96L108.92 763.46L117.52 763.46ZM83.49 769.53L79.19 777.03L87.79 777.03ZM91.37 769.37L87.07 776.87L95.67 776.87ZM87.14 775.31L82.84 782.81L91.44 782.81ZM240.1 799L235.8 806.5L244.4 806.5Z" class="mU"/>
<path d="M106.15 657.21L107.17 659.8L109.95 659.98L107.81 661.76L108.5 664.45L106.15 662.96L103.8 664.45L104.48 661.76L102.34 659.98L105.12 659.8ZM118.59 658.21L119.62 660.8L122.39 660.98L120.25 662.75L120.94 665.45L118.59 663.96L116.24 665.45L116.92 662.75L114.78 660.98L117.56 660.8ZM116.03 657.38L117.06 659.96L119.83 660.14L117.69 661.92L118.38 664.62L116.03 663.13L113.68 664.62L114.36 661.92L112.22 660.14L115 659.96ZM120.42 657.08L121.45 659.66L124.22 659.84L122.08 661.62L122.77 664.31L120.42 662.83L118.07 664.31L118.75 661.62L116.61 659.84L119.39 659.66ZM114.2 664.41L115.23 666.99L118 667.17L115.86 668.95L116.55 671.64L114.2 670.16L111.85 671.64L112.53 668.95L110.39 667.17L113.17 666.99ZM117.12 663.55L118.15 666.13L120.93 666.31L118.79 668.09L119.48 670.78L117.12 669.3L114.77 670.78L115.46 668.09L113.32 666.31L116.1 666.13ZM121.52 664.36L122.54 666.95L125.32 667.13L123.18 668.91L123.87 671.6L121.52 670.11L119.17 671.6L119.85 668.91L117.71 667.13L120.49 666.95ZM94.27 670.81L95.3 673.4L98.08 673.58L95.94 675.35L96.62 678.05L94.27 676.56L91.92 678.05L92.61 675.35L90.47 673.58L93.24 673.4ZM119.69 674.94L120.72 677.52L123.49 677.7L121.35 679.48L122.04 682.18L119.69 680.69L117.34 682.18L118.02 679.48L115.88 677.7L118.66 677.52ZM105.05 692.56L106.08 695.14L108.85 695.32L106.71 697.1L107.4 699.79L105.05 698.31L102.7 699.79L103.38 697.1L101.24 695.32L104.02 695.14ZM107.98 693.7L109 696.28L111.78 696.46L109.64 698.24L110.33 700.93L107.98 699.45L105.62 700.93L106.31 698.24L104.17 696.46L106.95 696.28ZM110.9 692.73L111.93 695.32L114.71 695.5L112.57 697.27L113.25 699.97L110.9 698.48L108.55 699.97L109.24 697.27L107.1 695.5L109.87 695.32ZM113.83 693.31L114.86 695.9L117.64 696.08L115.5 697.85L116.18 700.55L113.83 699.06L111.48 700.55L112.17 697.85L110.03 696.08L112.8 695.9ZM116.76 693.66L117.79 696.24L120.56 696.42L118.42 698.2L119.11 700.89L116.76 699.41L114.41 700.89L115.09 698.2L112.95 696.42L115.73 696.24ZM119.69 693.16L120.72 695.75L123.49 695.93L121.35 697.7L122.04 700.4L119.69 698.91L117.34 700.4L118.02 697.7L115.88 695.93L118.66 695.75ZM122.61 693.25L123.64 695.83L126.42 696.01L124.28 697.79L124.97 700.48L122.61 699L120.26 700.48L120.95 697.79L118.81 696.01L121.59 695.83ZM124.81 693.11L125.84 695.69L128.61 695.87L126.47 697.65L127.16 700.34L124.81 698.86L122.46 700.34L123.15 697.65L121.01 695.87L123.78 695.69ZM112 702.92L113.03 705.5L115.81 705.68L113.67 707.46L114.35 710.15L112 708.67L109.65 710.15L110.34 707.46L108.2 705.68L110.97 705.5ZM113.47 702.84L114.49 705.43L117.27 705.61L115.13 707.38L115.82 710.08L113.47 708.59L111.11 710.08L111.8 707.38L109.66 705.61L112.44 705.43ZM106.15 708.39L107.17 710.97L109.95 711.15L107.81 712.93L108.5 715.62L106.15 714.14L103.8 715.62L104.48 712.93L102.34 711.15L105.12 710.97ZM108.71 706.95L109.74 709.54L112.51 709.72L110.37 711.5L111.06 714.19L108.71 712.7L106.36 714.19L107.04 711.5L104.9 709.72L107.68 709.54ZM102.85 713.08L103.88 715.67L106.66 715.85L104.52 717.62L105.2 720.32L102.85 718.83L100.5 720.32L101.19 717.62L99.05 715.85L101.82 715.67ZM99.29 712.43L100.32 715.01L103.09 715.19L100.95 716.97L101.64 719.66L99.29 718.18L96.94 719.66L97.62 716.97L95.48 715.19L98.26 715.01ZM86.06 716.94L87.09 719.52L89.87 719.7L87.73 721.48L88.42 724.17L86.06 722.69L83.71 724.17L84.4 721.48L82.26 719.7L85.04 719.52ZM90.17 717.49L91.2 720.07L93.97 720.25L91.83 722.03L92.52 724.72L90.17 723.24L87.82 724.72L88.5 722.03L86.36 720.25L89.14 720.07ZM94.73 718L95.76 720.59L98.53 720.77L96.39 722.54L97.08 725.24L94.73 723.75L92.38 725.24L93.06 722.54L90.92 720.77L93.7 720.59ZM103.95 716.72L104.98 719.31L107.75 719.49L105.61 721.27L106.3 723.96L103.95 722.47L101.6 723.96L102.29 721.27L100.15 719.49L102.92 719.31ZM106.88 716.59L107.91 719.18L110.68 719.36L108.54 721.13L109.23 723.83L106.88 722.34L104.53 723.83L105.21 721.13L103.07 719.36L105.85 719.18ZM110.54 717.3L111.57 719.88L114.34 720.06L112.2 721.84L112.89 724.53L110.54 723.05L108.19 724.53L108.87 721.84L106.73 720.06L109.51 719.88ZM102.85 722.73L103.88 725.32L106.66 725.5L104.52 727.27L105.2 729.97L102.85 728.48L100.5 729.97L101.19 727.27L99.05 725.5L101.82 725.32ZM105.78 721.4L106.81 723.99L109.58 724.17L107.44 725.94L108.13 728.64L105.78 727.15L103.43 728.64L104.12 725.94L101.98 724.17L104.75 723.99ZM107.24 721.51L108.27 724.09L111.05 724.27L108.91 726.05L109.6 728.75L107.24 727.26L104.89 728.75L105.58 726.05L103.44 724.27L106.22 724.09ZM67.82 724.83L68.85 727.41L71.63 727.59L69.49 729.37L70.17 732.06L67.82 730.58L65.47 732.06L66.16 729.37L64.02 727.59L66.79 727.41ZM83.33 724.65L84.36 727.23L87.13 727.41L84.99 729.19L85.68 731.88L83.33 730.4L80.98 731.88L81.66 729.19L79.52 727.41L82.3 727.23ZM78.77 724.65L79.8 727.23L82.57 727.41L80.43 729.19L81.12 731.88L78.77 730.4L76.42 731.88L77.1 729.19L74.96 727.41L77.74 727.23ZM80.59 735.47L81.62 738.05L84.4 738.23L82.26 740.01L82.94 742.7L80.59 741.22L78.24 742.7L78.93 740.01L76.79 738.23L79.56 738.05ZM85.61 736.11L86.64 738.7L89.41 738.88L87.27 740.65L87.96 743.35L85.61 741.86L83.26 743.35L83.94 740.65L81.8 738.88L84.58 738.7ZM90.62 735.85L91.65 738.43L94.43 738.61L92.29 740.39L92.98 743.09L90.62 741.6L88.27 743.09L88.96 740.39L86.82 738.61L89.6 738.43ZM78.77 739.91L79.8 742.49L82.57 742.67L80.43 744.45L81.12 747.14L78.77 745.66L76.42 747.14L77.1 744.45L74.96 742.67L77.74 742.49ZM84.24 739.43L85.27 742.01L88.04 742.19L85.9 743.97L86.59 746.66L84.24 745.18L81.89 746.66L82.58 743.97L80.44 742.19L83.21 742.01ZM88.8 739.68L89.83 742.26L92.6 742.44L90.46 744.22L91.15 746.91L88.8 745.43L86.45 746.91L87.14 744.22L85 742.44L87.77 742.26ZM93.82 739.3L94.85 741.89L97.62 742.07L95.48 743.84L96.17 746.54L93.82 745.05L91.47 746.54L92.15 743.84L90.01 742.07L92.79 741.89ZM99.29 739.89L100.32 742.47L103.09 742.65L100.95 744.43L101.64 747.12L99.29 745.64L96.94 747.12L97.62 744.43L95.48 742.65L98.26 742.47ZM81.05 743.28L82.08 745.86L84.85 746.04L82.71 747.82L83.4 750.52L81.05 749.03L78.7 750.52L79.38 747.82L77.24 746.04L80.02 745.86ZM86.98 742.58L88 745.16L90.78 745.34L88.64 747.12L89.33 749.81L86.98 748.33L84.62 749.81L85.31 747.12L83.17 745.34L85.95 745.16ZM92.45 742.9L93.48 745.48L96.25 745.66L94.11 747.44L94.8 750.14L92.45 748.65L90.1 750.14L90.78 747.44L88.64 745.66L91.42 745.48ZM78.77 745.7L79.8 748.28L82.57 748.46L80.43 750.24L81.12 752.94L78.77 751.45L76.42 752.94L77.1 750.24L74.96 748.46L77.74 748.28ZM83.33 746.14L84.36 748.72L87.13 748.9L84.99 750.68L85.68 753.37L83.33 751.89L80.98 753.37L81.66 750.68L79.52 748.9L82.3 748.72ZM90.17 747.22L91.2 749.81L93.97 749.98L91.83 751.76L92.52 754.46L90.17 752.97L87.82 754.46L88.5 751.76L86.36 749.98L89.14 749.81ZM97.01 746.67L98.04 749.25L100.81 749.43L98.67 751.21L99.36 753.9L97.01 752.42L94.66 753.9L95.34 751.21L93.2 749.43L95.98 749.25ZM87.89 757.27L88.92 759.86L91.69 760.04L89.55 761.81L90.24 764.51L87.89 763.02L85.54 764.51L86.22 761.81L84.08 760.04L86.86 759.86ZM94.73 757.33L95.76 759.91L98.53 760.09L96.39 761.87L97.08 764.56L94.73 763.08L92.38 764.56L93.06 761.87L90.92 760.09L93.7 759.91ZM107.24 757.58L108.27 760.17L111.05 760.35L108.91 762.12L109.6 764.82L107.24 763.33L104.89 764.82L105.58 762.12L103.44 760.35L106.22 760.17ZM110.17 757.61L111.2 760.2L113.98 760.38L111.84 762.15L112.52 764.85L110.17 763.36L107.82 764.85L108.51 762.15L106.37 760.38L109.14 760.2ZM113.1 756.91L114.13 759.5L116.9 759.68L114.76 761.46L115.45 764.15L113.1 762.66L110.75 764.15L111.43 761.46L109.3 759.68L112.07 759.5ZM71.93 770.48L72.96 773.07L75.73 773.25L73.59 775.02L74.28 777.72L71.93 776.23L69.58 777.72L70.26 775.02L68.12 773.25L70.9 773.07ZM84.7 770.32L85.72 772.91L88.5 773.09L86.36 774.86L87.05 777.56L84.7 776.07L82.34 777.56L83.03 774.86L80.89 773.09L83.67 772.91ZM77.86 776.26L78.88 778.84L81.66 779.02L79.52 780.8L80.21 783.5L77.86 782.01L75.5 783.5L76.19 780.8L74.05 779.02L76.83 778.84ZM240.1 814.05L241.13 816.63L243.9 816.81L241.76 818.59L242.45 821.29L240.1 819.8L237.75 821.29L238.44 818.59L236.3 816.81L239.07 816.63Z" class="mK"/>
<path d="M63.8 769.4V783H74.6Z" class="gtri"/>
<path d="M132.3 784.8H57.4" class="mag"/>
<path d="M50.4 784.8l7.6 -3.6v7.2Z" fill="#ff00ff"/>
<path d="M60.12 728.8V825.2" class="blu"/>
<path d="M60.12 831.5l-3.7 -7.8h7.4Z" fill="#0a6cff"/>
<path d="M50.55 835.45v5M50.55 835.45h-5M78.7 835.45v3M50.55 811.89h-3M106.85 835.45v5M50.55 788.33h-5M135 835.45v3M50.55 764.77h-3M163.15 835.45v5M50.55 741.21h-5M191.3 835.45v3M50.55 717.65h-3M219.45 835.45v5M50.55 694.09h-5M247.6 835.45v3M50.55 670.53h-3M275.75 835.45v5M50.55 646.97h-5M303.9 835.45v3M50.55 623.41h-3M332.05 835.45v5M50.55 599.85h-5" class="tk"/>
<path d="M50.55 599.25V836.05" stroke="#111" stroke-width="1.2" fill="none"/>
<path d="M49.95 599.85H332.05V835.45H49.95" class="fr"/>
<text x="47.25" y="853.6" class="tl" textLength="6.4" lengthAdjust="spacingAndGlyphs">0</text>
<text x="100.35" y="853.6" class="tl" textLength="12.8" lengthAdjust="spacingAndGlyphs">20</text>
<text x="156.65" y="853.6" class="tl" textLength="12.8" lengthAdjust="spacingAndGlyphs">40</text>
<text x="212.95" y="853.6" class="tl" textLength="12.8" lengthAdjust="spacingAndGlyphs">60</text>
<text x="269.25" y="853.6" class="tl" textLength="12.8" lengthAdjust="spacingAndGlyphs">80</text>
<text x="322.35" y="853.6" class="tl" textLength="19.2" lengthAdjust="spacingAndGlyphs">100</text>
<text x="35.95" y="839.35" class="tl" textLength="6.4" lengthAdjust="spacingAndGlyphs">0</text>
<text x="29.55" y="792.23" class="tl" textLength="12.8" lengthAdjust="spacingAndGlyphs">20</text>
<text x="29.55" y="745.11" class="tl" textLength="12.8" lengthAdjust="spacingAndGlyphs">40</text>
<text x="29.55" y="697.99" class="tl" textLength="12.8" lengthAdjust="spacingAndGlyphs">60</text>
<text x="29.55" y="650.87" class="tl" textLength="12.8" lengthAdjust="spacingAndGlyphs">80</text>
<text x="23.15" y="603.75" class="tl" textLength="19.2" lengthAdjust="spacingAndGlyphs">100</text>
<text x="81.3" y="874.9" class="at" textLength="54.4" lengthAdjust="spacingAndGlyphs">Estimated</text>
<text x="140.5" y="874.9" class="at" textLength="68.7" lengthAdjust="spacingAndGlyphs">compressive</text>
<text x="215.4" y="874.9" class="at" textLength="45" lengthAdjust="spacingAndGlyphs">strength</text>
<text x="263.2" y="874.9" class="at" textLength="26.6" lengthAdjust="spacingAndGlyphs">from</text>
<text x="156.9" y="888.8" class="at" textLength="57.6" lengthAdjust="spacingAndGlyphs">RHT (MPa)</text>
<g transform="translate(10.1 810.9) rotate(-90)">
<text x="0" y="0" class="yt" textLength="25.6" lengthAdjust="spacingAndGlyphs">Core</text>
<text x="30.5" y="0" class="yt" textLength="67.3" lengthAdjust="spacingAndGlyphs">compressive</text>
<text x="102.8" y="0" class="yt" textLength="46" lengthAdjust="spacingAndGlyphs">strength</text>
<text x="154.6" y="0" class="yt" textLength="28.7" lengthAdjust="spacingAndGlyphs">(MPa)</text>
</g>
<text x="141.7" y="623.7" class="ti" text-anchor="middle">Sanseong-Ucheongyo</text>
<text x="141.7" y="639" class="ti" text-anchor="middle">Bridge, Slab</text>
<text x="262" y="782.3" class="lg" textLength="29.8" lengthAdjust="spacingAndGlyphs">JSMS</text>
<text x="262" y="796.3" class="lg" textLength="15.8" lengthAdjust="spacingAndGlyphs">AIJ</text>
<text x="262" y="809.9" class="lg" textLength="45" lengthAdjust="spacingAndGlyphs">US Army</text>
<text x="262" y="823.9" class="lg" textLength="29.8" lengthAdjust="spacingAndGlyphs">KMST</text>
</g>
<g id="plot6">
<path d="M422.5 603V838.4M395 814.5H675.5M478.5 603V838.4M395 767.5H675.5M535.5 603V838.4M395 720.5H675.5M591.5 603V838.4M395 673.5H675.5M647.5 603V838.4M395 626.5H675.5" class="gmin"/>
<path d="M450.5 603V838.4M395 791.5H675.5M506.5 603V838.4M395 744.5H675.5M563.5 603V838.4M395 697.5H675.5M619.5 603V838.4M395 649.5H675.5" class="gmaj"/>
<rect x="397" y="604.5" width="175.5" height="38.7" fill="#fff"/>
<rect x="593" y="769.9" width="73.6" height="60.4" fill="#fff"/>
<path d="M394.55 838.4L675.5 602.8" class="diag"/>
<path d="M447.54 697.14h6.4v6.4h-6.4ZM433.49 709.39h6.4v6.4h-6.4ZM441.36 709.39h6.4v6.4h-6.4ZM447.54 709.39h6.4v6.4h-6.4ZM432.93 785.25h6.4v6.4h-6.4ZM443.89 805.04h6.4v6.4h-6.4ZM425.06 733.89h6.4v6.4h-6.4ZM425.91 750.38h6.4v6.4h-6.4ZM427.31 759.81h6.4v6.4h-6.4ZM429.28 769.23h6.4v6.4h-6.4ZM456.53 718.58h6.4v6.4h-6.4ZM457.09 731.54h6.4v6.4h-6.4ZM455.41 745.67h6.4v6.4h-6.4ZM453.16 764.52h6.4v6.4h-6.4ZM450.35 771.59h6.4v6.4h-6.4ZM444.73 772.06h6.4v6.4h-6.4ZM440.52 770.41h6.4v6.4h-6.4ZM436.3 766.88h6.4v6.4h-6.4ZM430.68 719.76h6.4v6.4h-6.4ZM437.71 716.69h6.4v6.4h-6.4ZM446.14 717.4h6.4v6.4h-6.4ZM451.75 716.93h6.4v6.4h-6.4ZM442 749.08h6.4v6.4h-6.4ZM437.44 740.19h6.4v6.4h-6.4ZM426.15 733.88h6.4v6.4h-6.4ZM434.1 728.72h6.4v6.4h-6.4ZM432.86 731.24h6.4v6.4h-6.4ZM439.81 758.75h6.4v6.4h-6.4ZM435.55 752.79h6.4v6.4h-6.4ZM438.48 741.42h6.4v6.4h-6.4ZM446.69 727h6.4v6.4h-6.4ZM441.99 736.62h6.4v6.4h-6.4ZM437.9 749.74h6.4v6.4h-6.4ZM439.66 740.66h6.4v6.4h-6.4ZM445.56 748.18h6.4v6.4h-6.4ZM430.29 722.29h6.4v6.4h-6.4ZM432.57 736.2h6.4v6.4h-6.4ZM435.77 751.93h6.4v6.4h-6.4ZM443.4 738.67h6.4v6.4h-6.4ZM440.19 735.2h6.4v6.4h-6.4ZM444.35 730.53h6.4v6.4h-6.4ZM444.33 747.89h6.4v6.4h-6.4ZM450.3 734.48h6.4v6.4h-6.4ZM453.24 723.86h6.4v6.4h-6.4ZM449.81 748.64h6.4v6.4h-6.4ZM432.27 746.94h6.4v6.4h-6.4ZM436.49 738.35h6.4v6.4h-6.4ZM431.95 750.13h6.4v6.4h-6.4ZM431.86 744.07h6.4v6.4h-6.4ZM437.52 765.43h6.4v6.4h-6.4ZM428.96 748.19h6.4v6.4h-6.4ZM437.03 753.99h6.4v6.4h-6.4ZM448.37 743.28h6.4v6.4h-6.4ZM438.02 732.99h6.4v6.4h-6.4ZM438.58 757.24h6.4v6.4h-6.4ZM442.48 758.65h6.4v6.4h-6.4ZM446.59 750.38h6.4v6.4h-6.4ZM444.34 761.24h6.4v6.4h-6.4ZM436.09 735.93h6.4v6.4h-6.4ZM437.98 719.83h6.4v6.4h-6.4ZM439.31 745.92h6.4v6.4h-6.4ZM444.26 753.39h6.4v6.4h-6.4ZM445.82 750.18h6.4v6.4h-6.4ZM431.58 735.07h6.4v6.4h-6.4ZM436.17 738.8h6.4v6.4h-6.4ZM439.61 743.59h6.4v6.4h-6.4ZM449.34 738.33h6.4v6.4h-6.4ZM438.83 743.39h6.4v6.4h-6.4ZM439.31 734.35h6.4v6.4h-6.4ZM446.57 742.94h6.4v6.4h-6.4ZM427.37 725.73h6.4v6.4h-6.4ZM444.12 745.74h6.4v6.4h-6.4ZM441.17 751.68h6.4v6.4h-6.4ZM444.64 765.92h6.4v6.4h-6.4ZM440.14 756.61h6.4v6.4h-6.4ZM443.8 745.6h6.4v6.4h-6.4ZM429.42 726h6.4v6.4h-6.4ZM437.71 748.27h6.4v6.4h-6.4ZM437.63 739.99h6.4v6.4h-6.4ZM436.95 734.17h6.4v6.4h-6.4ZM440.58 750.51h6.4v6.4h-6.4ZM431.31 758.46h6.4v6.4h-6.4ZM445.57 730.49h6.4v6.4h-6.4ZM455.1 749.75h6.4v6.4h-6.4ZM435.71 732.97h6.4v6.4h-6.4ZM441.18 755.49h6.4v6.4h-6.4ZM436.6 738.58h6.4v6.4h-6.4ZM435.03 735.11h6.4v6.4h-6.4ZM580.5 774.2h6.4v6.4h-6.4Z" class="mJ"/>
<path d="M458.12 700.34a3.3 3.3 0 1 0 6.6 0a3.3 3.3 0 1 0 -6.6 0ZM451.09 712.59a3.3 3.3 0 1 0 6.6 0a3.3 3.3 0 1 0 -6.6 0ZM455.03 712.59a3.3 3.3 0 1 0 6.6 0a3.3 3.3 0 1 0 -6.6 0ZM458.12 712.59a3.3 3.3 0 1 0 6.6 0a3.3 3.3 0 1 0 -6.6 0ZM450.81 788.45a3.3 3.3 0 1 0 6.6 0a3.3 3.3 0 1 0 -6.6 0ZM456.29 808.24a3.3 3.3 0 1 0 6.6 0a3.3 3.3 0 1 0 -6.6 0ZM446.88 737.09a3.3 3.3 0 1 0 6.6 0a3.3 3.3 0 1 0 -6.6 0ZM447.3 753.58a3.3 3.3 0 1 0 6.6 0a3.3 3.3 0 1 0 -6.6 0ZM448 763.01a3.3 3.3 0 1 0 6.6 0a3.3 3.3 0 1 0 -6.6 0ZM448.99 772.43a3.3 3.3 0 1 0 6.6 0a3.3 3.3 0 1 0 -6.6 0ZM462.61 721.78a3.3 3.3 0 1 0 6.6 0a3.3 3.3 0 1 0 -6.6 0ZM462.89 734.74a3.3 3.3 0 1 0 6.6 0a3.3 3.3 0 1 0 -6.6 0ZM462.05 748.87a3.3 3.3 0 1 0 6.6 0a3.3 3.3 0 1 0 -6.6 0ZM460.93 767.72a3.3 3.3 0 1 0 6.6 0a3.3 3.3 0 1 0 -6.6 0ZM459.52 774.79a3.3 3.3 0 1 0 6.6 0a3.3 3.3 0 1 0 -6.6 0ZM456.71 775.26a3.3 3.3 0 1 0 6.6 0a3.3 3.3 0 1 0 -6.6 0ZM454.6 773.61a3.3 3.3 0 1 0 6.6 0a3.3 3.3 0 1 0 -6.6 0ZM452.5 770.08a3.3 3.3 0 1 0 6.6 0a3.3 3.3 0 1 0 -6.6 0ZM449.69 722.96a3.3 3.3 0 1 0 6.6 0a3.3 3.3 0 1 0 -6.6 0ZM453.2 719.89a3.3 3.3 0 1 0 6.6 0a3.3 3.3 0 1 0 -6.6 0ZM457.41 720.6a3.3 3.3 0 1 0 6.6 0a3.3 3.3 0 1 0 -6.6 0ZM460.22 720.13a3.3 3.3 0 1 0 6.6 0a3.3 3.3 0 1 0 -6.6 0ZM455.35 752.28a3.3 3.3 0 1 0 6.6 0a3.3 3.3 0 1 0 -6.6 0ZM453.07 743.39a3.3 3.3 0 1 0 6.6 0a3.3 3.3 0 1 0 -6.6 0ZM447.42 737.08a3.3 3.3 0 1 0 6.6 0a3.3 3.3 0 1 0 -6.6 0ZM451.4 731.92a3.3 3.3 0 1 0 6.6 0a3.3 3.3 0 1 0 -6.6 0ZM450.78 734.44a3.3 3.3 0 1 0 6.6 0a3.3 3.3 0 1 0 -6.6 0ZM454.25 761.95a3.3 3.3 0 1 0 6.6 0a3.3 3.3 0 1 0 -6.6 0ZM452.12 755.99a3.3 3.3 0 1 0 6.6 0a3.3 3.3 0 1 0 -6.6 0ZM453.59 744.62a3.3 3.3 0 1 0 6.6 0a3.3 3.3 0 1 0 -6.6 0ZM457.69 730.2a3.3 3.3 0 1 0 6.6 0a3.3 3.3 0 1 0 -6.6 0ZM455.34 739.82a3.3 3.3 0 1 0 6.6 0a3.3 3.3 0 1 0 -6.6 0ZM453.3 752.94a3.3 3.3 0 1 0 6.6 0a3.3 3.3 0 1 0 -6.6 0ZM454.18 743.86a3.3 3.3 0 1 0 6.6 0a3.3 3.3 0 1 0 -6.6 0ZM457.12 751.38a3.3 3.3 0 1 0 6.6 0a3.3 3.3 0 1 0 -6.6 0ZM449.49 725.49a3.3 3.3 0 1 0 6.6 0a3.3 3.3 0 1 0 -6.6 0ZM450.63 739.4a3.3 3.3 0 1 0 6.6 0a3.3 3.3 0 1 0 -6.6 0ZM452.23 755.13a3.3 3.3 0 1 0 6.6 0a3.3 3.3 0 1 0 -6.6 0ZM456.05 741.87a3.3 3.3 0 1 0 6.6 0a3.3 3.3 0 1 0 -6.6 0ZM454.44 738.4a3.3 3.3 0 1 0 6.6 0a3.3 3.3 0 1 0 -6.6 0ZM456.52 733.73a3.3 3.3 0 1 0 6.6 0a3.3 3.3 0 1 0 -6.6 0ZM456.51 751.09a3.3 3.3 0 1 0 6.6 0a3.3 3.3 0 1 0 -6.6 0ZM459.5 737.68a3.3 3.3 0 1 0 6.6 0a3.3 3.3 0 1 0 -6.6 0ZM460.97 727.06a3.3 3.3 0 1 0 6.6 0a3.3 3.3 0 1 0 -6.6 0ZM459.25 751.84a3.3 3.3 0 1 0 6.6 0a3.3 3.3 0 1 0 -6.6 0ZM450.48 750.14a3.3 3.3 0 1 0 6.6 0a3.3 3.3 0 1 0 -6.6 0ZM452.59 741.55a3.3 3.3 0 1 0 6.6 0a3.3 3.3 0 1 0 -6.6 0ZM450.32 753.33a3.3 3.3 0 1 0 6.6 0a3.3 3.3 0 1 0 -6.6 0ZM450.27 747.27a3.3 3.3 0 1 0 6.6 0a3.3 3.3 0 1 0 -6.6 0ZM453.11 768.63a3.3 3.3 0 1 0 6.6 0a3.3 3.3 0 1 0 -6.6 0ZM448.83 751.39a3.3 3.3 0 1 0 6.6 0a3.3 3.3 0 1 0 -6.6 0ZM452.86 757.19a3.3 3.3 0 1 0 6.6 0a3.3 3.3 0 1 0 -6.6 0ZM458.53 746.48a3.3 3.3 0 1 0 6.6 0a3.3 3.3 0 1 0 -6.6 0ZM453.36 736.19a3.3 3.3 0 1 0 6.6 0a3.3 3.3 0 1 0 -6.6 0ZM453.63 760.44a3.3 3.3 0 1 0 6.6 0a3.3 3.3 0 1 0 -6.6 0ZM455.59 761.85a3.3 3.3 0 1 0 6.6 0a3.3 3.3 0 1 0 -6.6 0ZM457.64 753.58a3.3 3.3 0 1 0 6.6 0a3.3 3.3 0 1 0 -6.6 0ZM456.52 764.44a3.3 3.3 0 1 0 6.6 0a3.3 3.3 0 1 0 -6.6 0ZM452.39 739.13a3.3 3.3 0 1 0 6.6 0a3.3 3.3 0 1 0 -6.6 0ZM453.34 723.03a3.3 3.3 0 1 0 6.6 0a3.3 3.3 0 1 0 -6.6 0ZM454 749.12a3.3 3.3 0 1 0 6.6 0a3.3 3.3 0 1 0 -6.6 0ZM456.47 756.59a3.3 3.3 0 1 0 6.6 0a3.3 3.3 0 1 0 -6.6 0ZM457.25 753.38a3.3 3.3 0 1 0 6.6 0a3.3 3.3 0 1 0 -6.6 0ZM450.13 738.27a3.3 3.3 0 1 0 6.6 0a3.3 3.3 0 1 0 -6.6 0ZM452.43 742a3.3 3.3 0 1 0 6.6 0a3.3 3.3 0 1 0 -6.6 0ZM454.15 746.79a3.3 3.3 0 1 0 6.6 0a3.3 3.3 0 1 0 -6.6 0ZM459.02 741.53a3.3 3.3 0 1 0 6.6 0a3.3 3.3 0 1 0 -6.6 0ZM453.76 746.59a3.3 3.3 0 1 0 6.6 0a3.3 3.3 0 1 0 -6.6 0ZM454 737.55a3.3 3.3 0 1 0 6.6 0a3.3 3.3 0 1 0 -6.6 0ZM457.63 746.14a3.3 3.3 0 1 0 6.6 0a3.3 3.3 0 1 0 -6.6 0ZM448.03 728.93a3.3 3.3 0 1 0 6.6 0a3.3 3.3 0 1 0 -6.6 0ZM456.41 748.94a3.3 3.3 0 1 0 6.6 0a3.3 3.3 0 1 0 -6.6 0ZM454.93 754.88a3.3 3.3 0 1 0 6.6 0a3.3 3.3 0 1 0 -6.6 0ZM456.67 769.12a3.3 3.3 0 1 0 6.6 0a3.3 3.3 0 1 0 -6.6 0ZM454.41 759.81a3.3 3.3 0 1 0 6.6 0a3.3 3.3 0 1 0 -6.6 0ZM456.25 748.8a3.3 3.3 0 1 0 6.6 0a3.3 3.3 0 1 0 -6.6 0ZM449.06 729.2a3.3 3.3 0 1 0 6.6 0a3.3 3.3 0 1 0 -6.6 0ZM453.2 751.47a3.3 3.3 0 1 0 6.6 0a3.3 3.3 0 1 0 -6.6 0ZM453.16 743.19a3.3 3.3 0 1 0 6.6 0a3.3 3.3 0 1 0 -6.6 0ZM452.82 737.37a3.3 3.3 0 1 0 6.6 0a3.3 3.3 0 1 0 -6.6 0ZM454.64 753.71a3.3 3.3 0 1 0 6.6 0a3.3 3.3 0 1 0 -6.6 0ZM450 761.66a3.3 3.3 0 1 0 6.6 0a3.3 3.3 0 1 0 -6.6 0ZM457.13 733.69a3.3 3.3 0 1 0 6.6 0a3.3 3.3 0 1 0 -6.6 0ZM461.9 752.95a3.3 3.3 0 1 0 6.6 0a3.3 3.3 0 1 0 -6.6 0ZM452.2 736.17a3.3 3.3 0 1 0 6.6 0a3.3 3.3 0 1 0 -6.6 0ZM454.94 758.69a3.3 3.3 0 1 0 6.6 0a3.3 3.3 0 1 0 -6.6 0ZM452.65 741.78a3.3 3.3 0 1 0 6.6 0a3.3 3.3 0 1 0 -6.6 0ZM451.86 738.31a3.3 3.3 0 1 0 6.6 0a3.3 3.3 0 1 0 -6.6 0ZM580.4 791.8a3.3 3.3 0 1 0 6.6 0a3.3 3.3 0 1 0 -6.6 0Z" class="mA"/>
<path d="M451.02 695.74L446.72 703.24L455.32 703.24ZM436.97 707.99L432.67 715.49L441.27 715.49ZM444.84 707.99L440.54 715.49L449.14 715.49ZM451.02 707.99L446.72 715.49L455.32 715.49ZM436.41 783.85L432.11 791.35L440.71 791.35ZM447.37 803.64L443.07 811.14L451.67 811.14ZM428.54 732.49L424.24 739.99L432.84 739.99ZM429.39 748.98L425.09 756.48L433.69 756.48ZM430.79 758.41L426.49 765.91L435.09 765.91ZM432.76 767.83L428.46 775.33L437.06 775.33ZM460.01 717.18L455.71 724.68L464.31 724.68ZM460.57 730.14L456.27 737.64L464.87 737.64ZM458.89 744.27L454.59 751.77L463.19 751.77ZM456.64 763.12L452.34 770.62L460.94 770.62ZM453.83 770.19L449.53 777.69L458.13 777.69ZM448.21 770.66L443.91 778.16L452.51 778.16ZM444 769.01L439.7 776.51L448.3 776.51ZM439.78 765.48L435.48 772.98L444.08 772.98ZM434.16 718.36L429.86 725.86L438.46 725.86ZM441.19 715.29L436.89 722.79L445.49 722.79ZM449.62 716L445.32 723.5L453.92 723.5ZM455.24 715.53L450.94 723.03L459.54 723.03ZM445.48 747.68L441.18 755.18L449.78 755.18ZM440.92 738.79L436.62 746.29L445.22 746.29ZM429.63 732.48L425.33 739.98L433.93 739.98ZM437.58 727.32L433.28 734.82L441.88 734.82ZM436.34 729.84L432.04 737.34L440.64 737.34ZM443.29 757.35L438.99 764.85L447.59 764.85ZM439.03 751.39L434.73 758.89L443.33 758.89ZM441.97 740.02L437.67 747.52L446.27 747.52ZM450.17 725.6L445.87 733.1L454.47 733.1ZM445.47 735.22L441.17 742.72L449.77 742.72ZM441.38 748.34L437.08 755.84L445.68 755.84ZM443.14 739.26L438.84 746.76L447.44 746.76ZM449.04 746.78L444.74 754.28L453.34 754.28ZM433.77 720.89L429.47 728.39L438.07 728.39ZM436.05 734.8L431.75 742.3L440.35 742.3ZM439.25 750.53L434.95 758.03L443.55 758.03ZM446.88 737.27L442.58 744.77L451.18 744.77ZM443.67 733.8L439.37 741.3L447.97 741.3ZM447.83 729.13L443.53 736.63L452.13 736.63ZM447.82 746.49L443.52 753.99L452.12 753.99ZM453.79 733.08L449.49 740.58L458.09 740.58ZM456.72 722.46L452.42 729.96L461.02 729.96ZM453.29 747.24L448.99 754.74L457.59 754.74ZM435.75 745.54L431.45 753.04L440.05 753.04ZM439.97 736.95L435.67 744.45L444.27 744.45ZM435.43 748.73L431.13 756.23L439.73 756.23ZM435.34 742.67L431.04 750.17L439.64 750.17ZM441 764.03L436.7 771.53L445.3 771.53ZM432.44 746.79L428.14 754.29L436.74 754.29ZM440.51 752.59L436.21 760.09L444.81 760.09ZM451.85 741.88L447.55 749.38L456.15 749.38ZM441.5 731.59L437.2 739.09L445.8 739.09ZM442.06 755.84L437.76 763.34L446.36 763.34ZM445.96 757.25L441.66 764.75L450.26 764.75ZM450.07 748.98L445.77 756.48L454.37 756.48ZM447.82 759.84L443.52 767.34L452.12 767.34ZM439.57 734.53L435.27 742.03L443.87 742.03ZM441.46 718.43L437.16 725.93L445.76 725.93ZM442.79 744.52L438.49 752.02L447.09 752.02ZM447.74 751.99L443.44 759.49L452.04 759.49ZM449.3 748.78L445 756.28L453.6 756.28ZM435.06 733.67L430.76 741.17L439.36 741.17ZM439.65 737.4L435.35 744.9L443.95 744.9ZM443.09 742.19L438.79 749.69L447.39 749.69ZM452.82 736.93L448.52 744.43L457.12 744.43ZM442.31 741.99L438.01 749.49L446.61 749.49ZM442.79 732.95L438.49 740.45L447.09 740.45ZM450.05 741.54L445.75 749.04L454.35 749.04ZM430.85 724.33L426.55 731.83L435.15 731.83ZM447.6 744.34L443.3 751.84L451.9 751.84ZM444.65 750.28L440.35 757.78L448.95 757.78ZM448.12 764.52L443.82 772.02L452.42 772.02ZM443.62 755.21L439.32 762.71L447.92 762.71ZM447.29 744.2L442.99 751.7L451.59 751.7ZM432.9 724.6L428.6 732.1L437.2 732.1ZM441.19 746.87L436.89 754.37L445.49 754.37ZM441.11 738.59L436.81 746.09L445.41 746.09ZM440.43 732.77L436.13 740.27L444.73 740.27ZM444.06 749.11L439.76 756.61L448.36 756.61ZM434.79 757.06L430.49 764.56L439.09 764.56ZM449.05 729.09L444.75 736.59L453.35 736.59ZM458.58 748.35L454.28 755.85L462.88 755.85ZM439.19 731.57L434.89 739.07L443.49 739.07ZM444.66 754.09L440.36 761.59L448.96 761.59ZM440.08 737.18L435.78 744.68L444.38 744.68ZM438.51 733.71L434.21 741.21L442.81 741.21ZM583.7 801.5L579.4 809L588 809Z" class="mU"/>
<path d="M453.16 696.69L454.19 699.27L456.96 699.45L454.82 701.23L455.51 703.92L453.16 702.44L450.81 703.92L451.5 701.23L449.36 699.45L452.13 699.27ZM431.49 708.94L432.52 711.52L435.3 711.7L433.16 713.48L433.85 716.18L431.49 714.69L429.14 716.18L429.83 713.48L427.69 711.7L430.47 711.52ZM443.55 708.94L444.58 711.52L447.35 711.7L445.21 713.48L445.9 716.18L443.55 714.69L441.2 716.18L441.88 713.48L439.74 711.7L442.52 711.52ZM451.19 708.94L452.22 711.52L454.99 711.7L452.85 713.48L453.54 716.18L451.19 714.69L448.84 716.18L449.52 713.48L447.38 711.7L450.16 711.52ZM430.65 784.8L431.68 787.39L434.45 787.57L432.31 789.34L433 792.04L430.65 790.55L428.3 792.04L428.98 789.34L426.84 787.57L429.62 787.39ZM446.2 804.59L447.23 807.18L450.01 807.36L447.87 809.13L448.55 811.83L446.2 810.34L443.85 811.83L444.54 809.13L442.4 807.36L445.17 807.18ZM415.05 733.44L416.08 736.03L418.85 736.21L416.71 737.98L417.4 740.68L415.05 739.19L412.7 740.68L413.38 737.98L411.24 736.21L414.02 736.03ZM416.7 749.93L417.73 752.52L420.51 752.7L418.37 754.47L419.05 757.17L416.7 755.68L414.35 757.17L415.04 754.47L412.9 752.7L415.67 752.52ZM417.69 759.36L418.72 761.94L421.49 762.12L419.35 763.9L420.04 766.59L417.69 765.11L415.34 766.59L416.02 763.9L413.88 762.12L416.66 761.94ZM423.29 768.78L424.32 771.37L427.09 771.55L424.95 773.32L425.64 776.02L423.29 774.53L420.94 776.02L421.62 773.32L419.48 771.55L422.26 771.37ZM466.06 718.13L467.08 720.71L469.86 720.89L467.72 722.67L468.41 725.36L466.06 723.88L463.7 725.36L464.39 722.67L462.25 720.89L465.03 720.71ZM467.48 731.09L468.51 733.67L471.29 733.85L469.15 735.63L469.84 738.32L467.48 736.84L465.13 738.32L465.82 735.63L463.68 733.85L466.46 733.67ZM466.24 745.22L467.27 747.81L470.04 747.99L467.9 749.76L468.59 752.46L466.24 750.97L463.89 752.46L464.57 749.76L462.43 747.99L465.21 747.81ZM460.68 764.07L461.71 766.65L464.49 766.83L462.35 768.61L463.04 771.31L460.68 769.82L458.33 771.31L459.02 768.61L456.88 766.83L459.66 766.65ZM454.29 771.14L455.32 773.72L458.1 773.9L455.96 775.68L456.64 778.37L454.29 776.89L451.94 778.37L452.63 775.68L450.49 773.9L453.26 773.72ZM447.87 771.61L448.9 774.19L451.68 774.37L449.54 776.15L450.22 778.85L447.87 777.36L445.52 778.85L446.21 776.15L444.07 774.37L446.84 774.19ZM438.83 769.96L439.85 772.54L442.63 772.72L440.49 774.5L441.18 777.2L438.83 775.71L436.47 777.2L437.16 774.5L435.02 772.72L437.8 772.54ZM434.38 766.43L435.41 769.01L438.18 769.19L436.04 770.97L436.73 773.66L434.38 772.18L432.03 773.66L432.71 770.97L430.57 769.19L433.35 769.01ZM425.14 719.31L426.17 721.89L428.94 722.07L426.8 723.85L427.49 726.54L425.14 725.06L422.79 726.54L423.48 723.85L421.34 722.07L424.11 721.89ZM435.95 716.24L436.98 718.83L439.76 719.01L437.62 720.78L438.3 723.48L435.95 721.99L433.6 723.48L434.29 720.78L432.15 719.01L434.92 718.83ZM450.39 716.95L451.42 719.53L454.2 719.71L452.06 721.49L452.74 724.19L450.39 722.7L448.04 724.19L448.73 721.49L446.59 719.71L449.37 719.53ZM456.81 716.48L457.84 719.06L460.62 719.24L458.48 721.02L459.16 723.71L456.81 722.23L454.46 723.71L455.15 721.02L453.01 719.24L455.78 719.06ZM442.42 748.63L443.45 751.21L446.22 751.39L444.08 753.17L444.77 755.86L442.42 754.38L440.07 755.86L440.76 753.17L438.62 751.39L441.39 751.21ZM434.45 739.74L435.48 742.33L438.25 742.51L436.11 744.28L436.8 746.98L434.45 745.49L432.1 746.98L432.78 744.28L430.64 742.51L433.42 742.33ZM416.41 733.43L417.44 736.01L420.21 736.19L418.07 737.97L418.76 740.66L416.41 739.18L414.06 740.66L414.75 737.97L412.61 736.19L415.38 736.01ZM428.7 728.27L429.73 730.86L432.51 731.04L430.37 732.81L431.05 735.51L428.7 734.02L426.35 735.51L427.04 732.81L424.9 731.04L427.68 730.86ZM427.18 730.79L428.21 733.37L430.99 733.55L428.85 735.33L429.53 738.02L427.18 736.54L424.83 738.02L425.52 735.33L423.38 733.55L426.16 733.37ZM441.15 758.3L442.18 760.89L444.95 761.07L442.81 762.85L443.5 765.54L441.15 764.05L438.8 765.54L439.48 762.85L437.34 761.07L440.12 760.89ZM434.88 752.34L435.91 754.92L438.68 755.1L436.54 756.88L437.23 759.57L434.88 758.09L432.53 759.57L433.21 756.88L431.07 755.1L433.85 754.92ZM437.95 740.97L438.98 743.55L441.76 743.73L439.62 745.51L440.3 748.2L437.95 746.72L435.6 748.2L436.29 745.51L434.15 743.73L436.92 743.55ZM451.8 726.55L452.83 729.13L455.6 729.31L453.46 731.09L454.15 733.78L451.8 732.3L449.45 733.78L450.13 731.09L447.99 729.31L450.77 729.13ZM440.85 736.17L441.88 738.76L444.66 738.94L442.52 740.71L443.21 743.41L440.85 741.92L438.5 743.41L439.19 740.71L437.05 738.94L439.83 738.76ZM435.77 749.29L436.8 751.87L439.57 752.05L437.43 753.83L438.12 756.52L435.77 755.04L433.42 756.52L434.11 753.83L431.97 752.05L434.74 751.87ZM440.31 740.21L441.34 742.79L444.11 742.97L441.97 744.75L442.66 747.44L440.31 745.96L437.96 747.44L438.64 744.75L436.5 742.97L439.28 742.79ZM450.58 747.73L451.61 750.32L454.38 750.5L452.24 752.27L452.93 754.97L450.58 753.48L448.23 754.97L448.91 752.27L446.77 750.5L449.55 750.32ZM422.31 721.84L423.33 724.42L426.11 724.6L423.97 726.38L424.66 729.08L422.31 727.59L419.96 729.08L420.64 726.38L418.5 724.6L421.28 724.42ZM430.17 735.75L431.2 738.33L433.98 738.51L431.84 740.29L432.52 742.98L430.17 741.5L427.82 742.98L428.51 740.29L426.37 738.51L429.14 738.33ZM435.2 751.48L436.23 754.07L439.01 754.25L436.87 756.02L437.56 758.72L435.2 757.23L432.85 758.72L433.54 756.02L431.4 754.25L434.18 754.07ZM443.46 738.22L444.48 740.8L447.26 740.98L445.12 742.76L445.81 745.45L443.46 743.97L441.1 745.45L441.79 742.76L439.65 740.98L442.43 740.8ZM439.73 734.75L440.76 737.33L443.54 737.51L441.4 739.29L442.08 741.98L439.73 740.5L437.38 741.98L438.07 739.29L435.93 737.51L438.7 737.33ZM448.67 730.08L449.7 732.66L452.47 732.84L450.33 734.62L451.02 737.31L448.67 735.83L446.32 737.31L447 734.62L444.86 732.84L447.64 732.66ZM446.09 747.44L447.12 750.02L449.9 750.2L447.76 751.98L448.44 754.67L446.09 753.19L443.74 754.67L444.43 751.98L442.29 750.2L445.06 750.02ZM454.84 734.03L455.87 736.61L458.64 736.79L456.5 738.57L457.19 741.26L454.84 739.78L452.49 741.26L453.17 738.57L451.03 736.79L453.81 736.61ZM461.42 723.41L462.45 725.99L465.22 726.17L463.08 727.95L463.77 730.65L461.42 729.16L459.07 730.65L459.75 727.95L457.61 726.17L460.39 725.99ZM456.11 748.19L457.14 750.77L459.92 750.95L457.78 752.73L458.47 755.42L456.11 753.94L453.76 755.42L454.45 752.73L452.31 750.95L455.09 750.77ZM428.71 746.49L429.74 749.07L432.52 749.25L430.38 751.03L431.06 753.72L428.71 752.24L426.36 753.72L427.05 751.03L424.91 749.25L427.68 749.07ZM432.99 737.9L434.02 740.48L436.8 740.66L434.66 742.44L435.34 745.14L432.99 743.65L430.64 745.14L431.33 742.44L429.19 740.66L431.96 740.48ZM426.99 749.68L428.02 752.26L430.79 752.44L428.65 754.22L429.34 756.91L426.99 755.43L424.64 756.91L425.33 754.22L423.19 752.44L425.96 752.26ZM425.45 743.62L426.48 746.2L429.26 746.38L427.12 748.16L427.8 750.86L425.45 749.37L423.1 750.86L423.79 748.16L421.65 746.38L424.42 746.2ZM437.86 764.98L438.89 767.56L441.66 767.74L439.52 769.52L440.21 772.21L437.86 770.73L435.51 772.21L436.19 769.52L434.05 767.74L436.83 767.56ZM424.02 747.74L425.05 750.32L427.83 750.5L425.69 752.28L426.38 754.98L424.02 753.49L421.67 754.98L422.36 752.28L420.22 750.5L423 750.32ZM437.14 753.54L438.16 756.12L440.94 756.3L438.8 758.08L439.49 760.78L437.14 759.29L434.78 760.78L435.47 758.08L433.33 756.3L436.11 756.12ZM451.61 742.83L452.64 745.42L455.42 745.6L453.28 747.37L453.96 750.07L451.61 748.58L449.26 750.07L449.95 747.37L447.81 745.6L450.58 745.42ZM435.25 732.54L436.28 735.12L439.05 735.3L436.91 737.08L437.6 739.77L435.25 738.29L432.9 739.77L433.58 737.08L431.44 735.3L434.22 735.12ZM439 756.79L440.03 759.37L442.8 759.55L440.66 761.33L441.35 764.02L439 762.54L436.65 764.02L437.33 761.33L435.19 759.55L437.97 759.37ZM443.7 758.2L444.73 760.78L447.5 760.96L445.36 762.74L446.05 765.44L443.7 763.95L441.35 765.44L442.03 762.74L439.89 760.96L442.67 760.78ZM451.97 749.93L453 752.51L455.77 752.69L453.63 754.47L454.32 757.16L451.97 755.68L449.62 757.16L450.3 754.47L448.16 752.69L450.94 752.51ZM447.46 760.79L448.49 763.38L451.26 763.56L449.12 765.33L449.81 768.03L447.46 766.54L445.11 768.03L445.79 765.33L443.65 763.56L446.43 763.38ZM431.5 735.48L432.53 738.07L435.31 738.25L433.17 740.02L433.85 742.72L431.5 741.23L429.15 742.72L429.84 740.02L427.7 738.25L430.47 738.07ZM434.9 719.38L435.92 721.97L438.7 722.15L436.56 723.92L437.25 726.62L434.9 725.13L432.54 726.62L433.23 723.92L431.09 722.15L433.87 721.97ZM439.77 745.47L440.8 748.05L443.58 748.23L441.44 750.01L442.13 752.7L439.77 751.22L437.42 752.7L438.11 750.01L435.97 748.23L438.75 748.05ZM445.65 752.94L446.68 755.53L449.45 755.71L447.31 757.48L448 760.18L445.65 758.69L443.3 760.18L443.98 757.48L441.84 755.71L444.62 755.53ZM448.72 749.73L449.75 752.32L452.53 752.5L450.39 754.27L451.07 756.97L448.72 755.48L446.37 756.97L447.06 754.27L444.92 752.5L447.69 752.32ZM426.91 734.62L427.94 737.2L430.71 737.38L428.57 739.16L429.26 741.85L426.91 740.37L424.56 741.85L425.25 739.16L423.11 737.38L425.88 737.2ZM431.72 738.35L432.75 740.93L435.52 741.11L433.38 742.89L434.07 745.59L431.72 744.1L429.37 745.59L430.05 742.89L427.91 741.11L430.69 740.93ZM437.43 743.14L438.45 745.73L441.23 745.91L439.09 747.68L439.78 750.38L437.43 748.89L435.07 750.38L435.76 747.68L433.62 745.91L436.4 745.73ZM454.75 737.88L455.78 740.47L458.56 740.65L456.42 742.42L457.1 745.12L454.75 743.63L452.4 745.12L453.09 742.42L450.95 740.65L453.72 740.47ZM435.82 742.94L436.85 745.52L439.63 745.7L437.49 747.48L438.17 750.17L435.82 748.69L433.47 750.17L434.16 747.48L432.02 745.7L434.79 745.52ZM438.06 733.9L439.09 736.48L441.86 736.66L439.72 738.44L440.41 741.14L438.06 739.65L435.71 741.14L436.4 738.44L434.26 736.66L437.03 736.48ZM449.87 742.49L450.89 745.07L453.67 745.25L451.53 747.03L452.22 749.73L449.87 748.24L447.51 749.73L448.2 747.03L446.06 745.25L448.84 745.07ZM417.85 725.28L418.88 727.87L421.65 728.05L419.51 729.82L420.2 732.52L417.85 731.03L415.5 732.52L416.18 729.82L414.04 728.05L416.82 727.87ZM444.57 745.29L445.6 747.87L448.38 748.05L446.24 749.83L446.93 752.52L444.57 751.04L442.22 752.52L442.91 749.83L440.77 748.05L443.55 747.87ZM442.9 751.23L443.93 753.81L446.71 753.99L444.57 755.77L445.25 758.47L442.9 756.98L440.55 758.47L441.24 755.77L439.1 753.99L441.88 753.81ZM448.11 765.47L449.14 768.06L451.92 768.24L449.78 770.01L450.46 772.71L448.11 771.22L445.76 772.71L446.45 770.01L444.31 768.24L447.08 768.06ZM440.03 756.16L441.06 758.74L443.84 758.92L441.7 760.7L442.38 763.39L440.03 761.91L437.68 763.39L438.37 760.7L436.23 758.92L439 758.74ZM445.73 745.15L446.76 747.73L449.53 747.91L447.39 749.69L448.08 752.39L445.73 750.9L443.38 752.39L444.07 749.69L441.93 747.91L444.7 747.73ZM424.79 725.55L425.82 728.14L428.6 728.31L426.46 730.09L427.15 732.79L424.79 731.3L422.44 732.79L423.13 730.09L420.99 728.31L423.77 728.14ZM436.06 747.82L437.09 750.4L439.86 750.58L437.72 752.36L438.41 755.05L436.06 753.57L433.71 755.05L434.39 752.36L432.25 750.58L435.03 750.4ZM434.62 739.54L435.64 742.13L438.42 742.31L436.28 744.08L436.97 746.78L434.62 745.29L432.26 746.78L432.95 744.08L430.81 742.31L433.59 742.13ZM435.01 733.72L436.04 736.31L438.82 736.49L436.68 738.26L437.36 740.96L435.01 739.47L432.66 740.96L433.35 738.26L431.21 736.49L433.98 736.31ZM440.74 750.06L441.77 752.65L444.54 752.83L442.4 754.61L443.09 757.3L440.74 755.81L438.39 757.3L439.08 754.61L436.94 752.83L439.71 752.65ZM426.19 758.01L427.22 760.59L430 760.77L427.86 762.55L428.54 765.24L426.19 763.76L423.84 765.24L424.53 762.55L422.39 760.77L425.16 760.59ZM448.08 730.04L449.11 732.63L451.88 732.81L449.74 734.58L450.43 737.28L448.08 735.79L445.73 737.28L446.42 734.58L444.28 732.81L447.05 732.63ZM464.03 749.3L465.05 751.88L467.83 752.06L465.69 753.84L466.38 756.53L464.03 755.05L461.67 756.53L462.36 753.84L460.22 752.06L463 751.88ZM430.93 732.52L431.95 735.1L434.73 735.28L432.59 737.06L433.28 739.75L430.93 738.27L428.57 739.75L429.26 737.06L427.12 735.28L429.9 735.1ZM442.52 755.04L443.55 757.62L446.32 757.8L444.18 759.58L444.87 762.27L442.52 760.79L440.17 762.27L440.85 759.58L438.71 757.8L441.49 757.62ZM436.16 738.13L437.19 740.71L439.97 740.89L437.83 742.67L438.51 745.36L436.16 743.88L433.81 745.36L434.5 742.67L432.36 740.89L435.13 740.71ZM432.95 734.66L433.98 737.24L436.76 737.42L434.62 739.2L435.3 741.89L432.95 740.41L430.6 741.89L431.29 739.2L429.15 737.42L431.92 737.24ZM583.7 816.55L584.73 819.13L587.5 819.31L585.36 821.09L586.05 823.79L583.7 822.3L581.35 823.79L582.04 821.09L579.9 819.31L582.67 819.13Z" class="mK"/>
<path d="M416.4 796.3V809.9H426.3Z" class="gtri"/>
<path d="M477.1 812.34H402.1" class="mag"/>
<path d="M395.1 812.34l7.6 -3.6v7.2Z" fill="#ff00ff"/>
<path d="M413.65 734.7V830" class="blu"/>
<path d="M413.65 836.3l-3.7 -7.8h7.4Z" fill="#0a6cff"/>
<path d="M394.55 838.4v5M394.55 838.4h-5M422.64 838.4v3M394.55 814.84h-3M450.74 838.4v5M394.55 791.28h-5M478.84 838.4v3M394.55 767.72h-3M506.93 838.4v5M394.55 744.16h-5M535.02 838.4v3M394.55 720.6h-3M563.12 838.4v5M394.55 697.04h-5M591.22 838.4v3M394.55 673.48h-3M619.31 838.4v5M394.55 649.92h-5M647.4 838.4v3M394.55 626.36h-3M675.5 838.4v5M394.55 602.8h-5" class="tk"/>
<path d="M394.55 602.2V839" stroke="#111" stroke-width="1.2" fill="none"/>
<path d="M393.95 602.8H675.5V838.4H393.95" class="fr"/>
<text x="391.25" y="856.1" class="tl" textLength="6.4" lengthAdjust="spacingAndGlyphs">0</text>
<text x="444.24" y="856.1" class="tl" textLength="12.8" lengthAdjust="spacingAndGlyphs">20</text>
<text x="500.43" y="856.1" class="tl" textLength="12.8" lengthAdjust="spacingAndGlyphs">40</text>
<text x="556.62" y="856.1" class="tl" textLength="12.8" lengthAdjust="spacingAndGlyphs">60</text>
<text x="612.81" y="856.1" class="tl" textLength="12.8" lengthAdjust="spacingAndGlyphs">80</text>
<text x="665.8" y="856.1" class="tl" textLength="19.2" lengthAdjust="spacingAndGlyphs">100</text>
<text x="379.95" y="842.3" class="tl" textLength="6.4" lengthAdjust="spacingAndGlyphs">0</text>
<text x="373.55" y="795.18" class="tl" textLength="12.8" lengthAdjust="spacingAndGlyphs">20</text>
<text x="373.55" y="748.06" class="tl" textLength="12.8" lengthAdjust="spacingAndGlyphs">40</text>
<text x="373.55" y="700.94" class="tl" textLength="12.8" lengthAdjust="spacingAndGlyphs">60</text>
<text x="373.55" y="653.82" class="tl" textLength="12.8" lengthAdjust="spacingAndGlyphs">80</text>
<text x="367.15" y="606.7" class="tl" textLength="19.2" lengthAdjust="spacingAndGlyphs">100</text>
<text x="431.6" y="874.9" class="at" textLength="54.4" lengthAdjust="spacingAndGlyphs">Estimated</text>
<text x="490.8" y="874.9" class="at" textLength="68.7" lengthAdjust="spacingAndGlyphs">compressive</text>
<text x="565.7" y="874.9" class="at" textLength="45" lengthAdjust="spacingAndGlyphs">strength</text>
<text x="613.5" y="874.9" class="at" textLength="26.6" lengthAdjust="spacingAndGlyphs">from</text>
<text x="506.2" y="888.8" class="at" textLength="57.6" lengthAdjust="spacingAndGlyphs">RHT (MPa)</text>
<g transform="translate(355.8 815.3) rotate(-90)">
<text x="0" y="0" class="yt" textLength="25.6" lengthAdjust="spacingAndGlyphs">Core</text>
<text x="30.5" y="0" class="yt" textLength="67.3" lengthAdjust="spacingAndGlyphs">compressive</text>
<text x="102.8" y="0" class="yt" textLength="46" lengthAdjust="spacingAndGlyphs">strength</text>
<text x="154.6" y="0" class="yt" textLength="28.7" lengthAdjust="spacingAndGlyphs">(MPa)</text>
</g>
<text x="484" y="622.3" class="ti" text-anchor="middle">Sanseong-Ucheongyo</text>
<text x="484" y="638" class="ti" text-anchor="middle">Bridge, Girder</text>
<text x="603" y="784" class="lg" textLength="29.8" lengthAdjust="spacingAndGlyphs">JSMS</text>
<text x="603" y="798.4" class="lg" textLength="15.8" lengthAdjust="spacingAndGlyphs">AIJ</text>
<text x="603" y="812.1" class="lg" textLength="45" lengthAdjust="spacingAndGlyphs">US Army</text>
<text x="603" y="825.7" class="lg" textLength="29.8" lengthAdjust="spacingAndGlyphs">KMST</text>
</g>
<g id="plot7">
<path d="M78.5 902V1137.55M51 1113.5H332.05M135.5 902V1137.55M51 1066.5H332.05M191.5 902V1137.55M51 1019.5H332.05M247.5 902V1137.55M51 972.5H332.05M303.5 902V1137.55M51 925.5H332.05" class="gmin"/>
<path d="M106.5 902V1137.55M51 1090.5H332.05M163.5 902V1137.55M51 1043.5H332.05M219.5 902V1137.55M51 996.5H332.05M275.5 902V1137.55M51 949.5H332.05" class="gmaj"/>
<rect x="53" y="904.3" width="175.3" height="34.5" fill="#fff"/>
<rect x="251.5" y="1064.6" width="73.6" height="62.2" fill="#fff"/>
<path d="M50.55 1137.55L332.05 901.95" class="diag"/>
<path d="M119.13 1013.72h6.4v6.4h-6.4ZM109.56 1025.03h6.4v6.4h-6.4ZM120.54 1025.03h6.4v6.4h-6.4ZM123.35 1025.5h6.4v6.4h-6.4ZM113.22 1035.63h6.4v6.4h-6.4ZM119.98 1084.17h6.4v6.4h-6.4ZM88.45 1052.36h6.4v6.4h-6.4ZM91.83 1058.49h6.4v6.4h-6.4ZM86.76 1066.26h6.4v6.4h-6.4ZM85.92 1086.52h6.4v6.4h-6.4ZM88.45 1091.71h6.4v6.4h-6.4ZM90.14 1073.09h6.4v6.4h-6.4ZM90.98 1080.16h6.4v6.4h-6.4ZM102.24 1001.94h6.4v6.4h-6.4ZM100.83 1005.95h6.4v6.4h-6.4ZM96.58 1009.37h6.4v6.4h-6.4ZM99.83 1013.04h6.4v6.4h-6.4ZM96.14 1012.08h6.4v6.4h-6.4ZM100.59 1016.9h6.4v6.4h-6.4ZM100.23 1019.51h6.4v6.4h-6.4ZM97.32 1020.67h6.4v6.4h-6.4ZM99.29 1023.02h6.4v6.4h-6.4ZM95.74 1026.15h6.4v6.4h-6.4ZM95.25 1029.99h6.4v6.4h-6.4ZM98.53 1033.53h6.4v6.4h-6.4ZM96.77 1036.94h6.4v6.4h-6.4ZM97.97 1039.61h6.4v6.4h-6.4ZM96.5 1043.48h6.4v6.4h-6.4ZM97.8 1047.47h6.4v6.4h-6.4ZM96.99 1049.61h6.4v6.4h-6.4ZM101.28 1052.5h6.4v6.4h-6.4ZM101.2 1077.36h6.4v6.4h-6.4ZM92.24 1078.58h6.4v6.4h-6.4ZM91.4 1068.2h6.4v6.4h-6.4ZM94.13 1065.91h6.4v6.4h-6.4ZM99.52 1070.28h6.4v6.4h-6.4ZM93.42 1073.62h6.4v6.4h-6.4ZM89.89 1067.95h6.4v6.4h-6.4ZM99.68 1076.53h6.4v6.4h-6.4ZM93 1075.81h6.4v6.4h-6.4ZM92.46 1073.66h6.4v6.4h-6.4ZM93.02 1075.65h6.4v6.4h-6.4ZM95.89 1065.34h6.4v6.4h-6.4ZM90.36 1064.86h6.4v6.4h-6.4ZM100.3 1068.99h6.4v6.4h-6.4ZM96.67 1072.89h6.4v6.4h-6.4ZM94.09 1075.73h6.4v6.4h-6.4ZM94.28 1066.76h6.4v6.4h-6.4ZM92.45 1065.69h6.4v6.4h-6.4ZM89.23 1065.63h6.4v6.4h-6.4ZM102.13 1066.07h6.4v6.4h-6.4ZM89.76 1065.46h6.4v6.4h-6.4ZM92.87 1074.58h6.4v6.4h-6.4ZM102.47 1087.23h6.4v6.4h-6.4ZM103.54 1090.53h6.4v6.4h-6.4ZM101.99 1093.59h6.4v6.4h-6.4ZM98.83 1098.54h6.4v6.4h-6.4ZM97.26 1101.37h6.4v6.4h-6.4ZM97.49 1103.72h6.4v6.4h-6.4ZM97.19 1105.37h6.4v6.4h-6.4ZM236.9 1074h6.4v6.4h-6.4Z" class="mJ"/>
<path d="M123.13 1016.92a3.3 3.3 0 1 0 6.6 0a3.3 3.3 0 1 0 -6.6 0ZM117.66 1028.23a3.3 3.3 0 1 0 6.6 0a3.3 3.3 0 1 0 -6.6 0ZM124.32 1028.23a3.3 3.3 0 1 0 6.6 0a3.3 3.3 0 1 0 -6.6 0ZM125.7 1028.7a3.3 3.3 0 1 0 6.6 0a3.3 3.3 0 1 0 -6.6 0ZM121.26 1038.83a3.3 3.3 0 1 0 6.6 0a3.3 3.3 0 1 0 -6.6 0ZM123.6 1087.37a3.3 3.3 0 1 0 6.6 0a3.3 3.3 0 1 0 -6.6 0ZM106.31 1055.56a3.3 3.3 0 1 0 6.6 0a3.3 3.3 0 1 0 -6.6 0ZM109.52 1061.69a3.3 3.3 0 1 0 6.6 0a3.3 3.3 0 1 0 -6.6 0ZM106.79 1069.46a3.3 3.3 0 1 0 6.6 0a3.3 3.3 0 1 0 -6.6 0ZM105.64 1089.72a3.3 3.3 0 1 0 6.6 0a3.3 3.3 0 1 0 -6.6 0ZM107.07 1094.91a3.3 3.3 0 1 0 6.6 0a3.3 3.3 0 1 0 -6.6 0ZM107.65 1076.29a3.3 3.3 0 1 0 6.6 0a3.3 3.3 0 1 0 -6.6 0ZM108.21 1083.36a3.3 3.3 0 1 0 6.6 0a3.3 3.3 0 1 0 -6.6 0ZM114.15 1005.14a3.3 3.3 0 1 0 6.6 0a3.3 3.3 0 1 0 -6.6 0ZM113.08 1009.15a3.3 3.3 0 1 0 6.6 0a3.3 3.3 0 1 0 -6.6 0ZM112.24 1012.57a3.3 3.3 0 1 0 6.6 0a3.3 3.3 0 1 0 -6.6 0ZM113.82 1016.24a3.3 3.3 0 1 0 6.6 0a3.3 3.3 0 1 0 -6.6 0ZM111.8 1015.28a3.3 3.3 0 1 0 6.6 0a3.3 3.3 0 1 0 -6.6 0ZM113.02 1020.1a3.3 3.3 0 1 0 6.6 0a3.3 3.3 0 1 0 -6.6 0ZM113.65 1022.71a3.3 3.3 0 1 0 6.6 0a3.3 3.3 0 1 0 -6.6 0ZM111.1 1023.87a3.3 3.3 0 1 0 6.6 0a3.3 3.3 0 1 0 -6.6 0ZM113.27 1026.22a3.3 3.3 0 1 0 6.6 0a3.3 3.3 0 1 0 -6.6 0ZM110.25 1029.35a3.3 3.3 0 1 0 6.6 0a3.3 3.3 0 1 0 -6.6 0ZM110.89 1033.19a3.3 3.3 0 1 0 6.6 0a3.3 3.3 0 1 0 -6.6 0ZM111.92 1036.73a3.3 3.3 0 1 0 6.6 0a3.3 3.3 0 1 0 -6.6 0ZM112.35 1040.14a3.3 3.3 0 1 0 6.6 0a3.3 3.3 0 1 0 -6.6 0ZM112.89 1042.81a3.3 3.3 0 1 0 6.6 0a3.3 3.3 0 1 0 -6.6 0ZM111.26 1046.68a3.3 3.3 0 1 0 6.6 0a3.3 3.3 0 1 0 -6.6 0ZM112.8 1050.67a3.3 3.3 0 1 0 6.6 0a3.3 3.3 0 1 0 -6.6 0ZM112.13 1052.81a3.3 3.3 0 1 0 6.6 0a3.3 3.3 0 1 0 -6.6 0ZM113.45 1055.7a3.3 3.3 0 1 0 6.6 0a3.3 3.3 0 1 0 -6.6 0ZM114.56 1080.56a3.3 3.3 0 1 0 6.6 0a3.3 3.3 0 1 0 -6.6 0ZM109.71 1081.78a3.3 3.3 0 1 0 6.6 0a3.3 3.3 0 1 0 -6.6 0ZM108.19 1071.4a3.3 3.3 0 1 0 6.6 0a3.3 3.3 0 1 0 -6.6 0ZM110.38 1069.11a3.3 3.3 0 1 0 6.6 0a3.3 3.3 0 1 0 -6.6 0ZM112.7 1073.48a3.3 3.3 0 1 0 6.6 0a3.3 3.3 0 1 0 -6.6 0ZM108.91 1076.82a3.3 3.3 0 1 0 6.6 0a3.3 3.3 0 1 0 -6.6 0ZM107.72 1071.15a3.3 3.3 0 1 0 6.6 0a3.3 3.3 0 1 0 -6.6 0ZM112.5 1079.73a3.3 3.3 0 1 0 6.6 0a3.3 3.3 0 1 0 -6.6 0ZM110.01 1079.01a3.3 3.3 0 1 0 6.6 0a3.3 3.3 0 1 0 -6.6 0ZM109.52 1076.86a3.3 3.3 0 1 0 6.6 0a3.3 3.3 0 1 0 -6.6 0ZM109.06 1078.85a3.3 3.3 0 1 0 6.6 0a3.3 3.3 0 1 0 -6.6 0ZM110.89 1068.54a3.3 3.3 0 1 0 6.6 0a3.3 3.3 0 1 0 -6.6 0ZM107.31 1068.06a3.3 3.3 0 1 0 6.6 0a3.3 3.3 0 1 0 -6.6 0ZM113.22 1072.19a3.3 3.3 0 1 0 6.6 0a3.3 3.3 0 1 0 -6.6 0ZM111.65 1076.09a3.3 3.3 0 1 0 6.6 0a3.3 3.3 0 1 0 -6.6 0ZM110.63 1078.93a3.3 3.3 0 1 0 6.6 0a3.3 3.3 0 1 0 -6.6 0ZM110.97 1069.96a3.3 3.3 0 1 0 6.6 0a3.3 3.3 0 1 0 -6.6 0ZM109.38 1068.89a3.3 3.3 0 1 0 6.6 0a3.3 3.3 0 1 0 -6.6 0ZM107.33 1068.83a3.3 3.3 0 1 0 6.6 0a3.3 3.3 0 1 0 -6.6 0ZM115.09 1069.27a3.3 3.3 0 1 0 6.6 0a3.3 3.3 0 1 0 -6.6 0ZM107.85 1068.66a3.3 3.3 0 1 0 6.6 0a3.3 3.3 0 1 0 -6.6 0ZM109.94 1077.78a3.3 3.3 0 1 0 6.6 0a3.3 3.3 0 1 0 -6.6 0ZM114.4 1090.43a3.3 3.3 0 1 0 6.6 0a3.3 3.3 0 1 0 -6.6 0ZM115.88 1093.73a3.3 3.3 0 1 0 6.6 0a3.3 3.3 0 1 0 -6.6 0ZM113.86 1096.79a3.3 3.3 0 1 0 6.6 0a3.3 3.3 0 1 0 -6.6 0ZM112.48 1101.74a3.3 3.3 0 1 0 6.6 0a3.3 3.3 0 1 0 -6.6 0ZM111.35 1104.57a3.3 3.3 0 1 0 6.6 0a3.3 3.3 0 1 0 -6.6 0ZM111.72 1106.92a3.3 3.3 0 1 0 6.6 0a3.3 3.3 0 1 0 -6.6 0ZM111.96 1108.57a3.3 3.3 0 1 0 6.6 0a3.3 3.3 0 1 0 -6.6 0ZM236.8 1091.3a3.3 3.3 0 1 0 6.6 0a3.3 3.3 0 1 0 -6.6 0Z" class="mA"/>
<path d="M128.46 1012.32L124.16 1019.82L132.76 1019.82ZM116.3 1023.63L112 1031.13L120.6 1031.13ZM130.24 1023.63L125.94 1031.13L134.54 1031.13ZM133.82 1024.1L129.52 1031.6L138.12 1031.6ZM120.95 1034.23L116.65 1041.73L125.25 1041.73ZM129.53 1082.77L125.23 1090.27L133.83 1090.27ZM92.07 1050.96L87.77 1058.46L96.37 1058.46ZM95.45 1057.09L91.15 1064.59L99.75 1064.59ZM90.38 1064.86L86.08 1072.36L94.68 1072.36ZM89.54 1085.12L85.24 1092.62L93.84 1092.62ZM92.07 1090.31L87.77 1097.81L96.37 1097.81ZM93.76 1071.69L89.46 1079.19L98.06 1079.19ZM94.6 1078.76L90.3 1086.26L98.9 1086.26ZM107 1000.54L102.7 1008.04L111.3 1008.04ZM105.22 1004.55L100.92 1012.05L109.52 1012.05ZM100.21 1007.97L95.91 1015.47L104.51 1015.47ZM103.94 1011.64L99.64 1019.14L108.24 1019.14ZM99.76 1010.68L95.46 1018.18L104.06 1018.18ZM104.9 1015.5L100.6 1023L109.2 1023ZM104.45 1018.11L100.15 1025.61L108.75 1025.61ZM100.94 1019.27L96.64 1026.77L105.24 1026.77ZM103.26 1021.62L98.96 1029.12L107.56 1029.12ZM99.36 1024.75L95.06 1032.25L103.66 1032.25ZM98.87 1028.59L94.57 1036.09L103.17 1036.09ZM102.29 1032.13L97.99 1039.63L106.59 1039.63ZM100.4 1035.54L96.1 1043.04L104.7 1043.04ZM101.59 1038.21L97.29 1045.71L105.89 1045.71ZM100.12 1042.08L95.82 1049.58L104.42 1049.58ZM101.42 1046.07L97.12 1053.57L105.72 1053.57ZM100.62 1048.21L96.32 1055.71L104.92 1055.71ZM105.79 1051.1L101.49 1058.6L110.09 1058.6ZM105.69 1075.96L101.39 1083.46L109.99 1083.46ZM95.86 1077.18L91.56 1084.68L100.16 1084.68ZM95.02 1066.8L90.72 1074.3L99.32 1074.3ZM97.75 1064.51L93.45 1072.01L102.05 1072.01ZM103.54 1068.88L99.24 1076.38L107.84 1076.38ZM97.05 1072.22L92.75 1079.72L101.35 1079.72ZM93.52 1066.55L89.22 1074.05L97.82 1074.05ZM103.75 1075.13L99.45 1082.63L108.05 1082.63ZM96.62 1074.41L92.32 1081.91L100.92 1081.91ZM96.08 1072.26L91.78 1079.76L100.38 1079.76ZM96.65 1074.25L92.35 1081.75L100.95 1081.75ZM99.51 1063.94L95.21 1071.44L103.81 1071.44ZM93.98 1063.46L89.68 1070.96L98.28 1070.96ZM104.54 1067.59L100.24 1075.09L108.84 1075.09ZM100.29 1071.49L95.99 1078.99L104.59 1078.99ZM97.71 1074.33L93.41 1081.83L102.01 1081.83ZM97.9 1065.36L93.6 1072.86L102.2 1072.86ZM96.07 1064.29L91.77 1071.79L100.37 1071.79ZM92.86 1064.23L88.56 1071.73L97.16 1071.73ZM106.86 1064.67L102.56 1072.17L111.16 1072.17ZM93.38 1064.06L89.08 1071.56L97.68 1071.56ZM96.5 1073.18L92.2 1080.68L100.8 1080.68ZM107.29 1085.83L102.99 1093.33L111.59 1093.33ZM108.65 1089.13L104.35 1096.63L112.95 1096.63ZM106.68 1092.19L102.38 1099.69L110.98 1099.69ZM102.67 1097.14L98.37 1104.64L106.97 1104.64ZM100.88 1099.97L96.58 1107.47L105.18 1107.47ZM101.11 1102.32L96.81 1109.82L105.41 1109.82ZM100.82 1103.97L96.52 1111.47L105.12 1111.47ZM240.1 1101.1L235.8 1108.6L244.4 1108.6Z" class="mU"/>
<path d="M137.07 1013.27L138.1 1015.86L140.88 1016.04L138.74 1017.81L139.42 1020.51L137.07 1019.02L134.72 1020.51L135.41 1017.81L133.27 1016.04L136.04 1015.86ZM120.99 1024.58L122.02 1027.17L124.8 1027.35L122.66 1029.12L123.34 1031.82L120.99 1030.33L118.64 1031.82L119.33 1029.12L117.19 1027.35L119.96 1027.17ZM139.44 1024.58L140.47 1027.17L143.24 1027.35L141.1 1029.12L141.79 1031.82L139.44 1030.33L137.09 1031.82L137.77 1029.12L135.63 1027.35L138.41 1027.17ZM144.17 1025.05L145.19 1027.64L147.97 1027.82L145.83 1029.59L146.52 1032.29L144.17 1030.8L141.81 1032.29L142.5 1029.59L140.36 1027.82L143.14 1027.64ZM127.14 1035.18L128.17 1037.77L130.94 1037.95L128.8 1039.72L129.49 1042.42L127.14 1040.93L124.79 1042.42L125.48 1039.72L123.34 1037.95L126.11 1037.77ZM138.49 1083.72L139.52 1086.3L142.29 1086.48L140.15 1088.26L140.84 1090.95L138.49 1089.47L136.14 1090.95L136.83 1088.26L134.69 1086.48L137.46 1086.3ZM85.52 1051.91L86.55 1054.5L89.33 1054.68L87.19 1056.45L87.87 1059.15L85.52 1057.66L83.17 1059.15L83.86 1056.45L81.72 1054.68L84.49 1054.5ZM91.2 1058.04L92.23 1060.62L95 1060.8L92.86 1062.58L93.55 1065.27L91.2 1063.79L88.85 1065.27L89.53 1062.58L87.39 1060.8L90.17 1060.62ZM82.69 1065.81L83.71 1068.4L86.49 1068.58L84.35 1070.35L85.04 1073.05L82.69 1071.56L80.33 1073.05L81.02 1070.35L78.88 1068.58L81.66 1068.4ZM81.27 1086.07L82.3 1088.66L85.07 1088.84L82.93 1090.61L83.62 1093.31L81.27 1091.82L78.92 1093.31L79.6 1090.61L77.46 1088.84L80.24 1088.66ZM85.52 1091.26L86.55 1093.84L89.33 1094.02L87.19 1095.8L87.87 1098.49L85.52 1097.01L83.17 1098.49L83.86 1095.8L81.72 1094.02L84.49 1093.84ZM88.36 1072.64L89.39 1075.23L92.17 1075.41L90.03 1077.18L90.71 1079.88L88.36 1078.39L86.01 1079.88L86.7 1077.18L84.56 1075.41L87.33 1075.23ZM89.78 1079.71L90.81 1082.3L93.58 1082.48L91.44 1084.25L92.13 1086.95L89.78 1085.46L87.43 1086.95L88.12 1084.25L85.98 1082.48L88.75 1082.3ZM108.7 1001.49L109.73 1004.08L112.5 1004.26L110.36 1006.03L111.05 1008.73L108.7 1007.24L106.35 1008.73L107.03 1006.03L104.89 1004.26L107.67 1004.08ZM106.33 1005.5L107.36 1008.08L110.14 1008.26L108 1010.04L108.68 1012.73L106.33 1011.25L103.98 1012.73L104.67 1010.04L102.53 1008.26L105.3 1008.08ZM99.19 1008.92L100.22 1011.5L103 1011.68L100.86 1013.46L101.54 1016.15L99.19 1014.67L96.84 1016.15L97.53 1013.46L95.39 1011.68L98.16 1011.5ZM104.64 1012.59L105.67 1015.17L108.44 1015.35L106.3 1017.13L106.99 1019.83L104.64 1018.34L102.29 1019.83L102.97 1017.13L100.83 1015.35L103.61 1015.17ZM98.44 1011.63L99.47 1014.21L102.24 1014.39L100.1 1016.17L100.79 1018.86L98.44 1017.38L96.09 1018.86L96.77 1016.17L94.63 1014.39L97.41 1014.21ZM105.92 1016.45L106.95 1019.04L109.72 1019.22L107.58 1020.99L108.27 1023.69L105.92 1022.2L103.57 1023.69L104.25 1020.99L102.11 1019.22L104.89 1019.04ZM105.31 1019.06L106.34 1021.64L109.12 1021.82L106.98 1023.6L107.66 1026.3L105.31 1024.81L102.96 1026.3L103.65 1023.6L101.51 1021.82L104.28 1021.64ZM100.43 1020.22L101.46 1022.81L104.24 1022.99L102.1 1024.76L102.78 1027.46L100.43 1025.97L98.08 1027.46L98.77 1024.76L96.63 1022.99L99.4 1022.81ZM103.74 1022.57L104.77 1025.16L107.54 1025.34L105.4 1027.11L106.09 1029.81L103.74 1028.32L101.39 1029.81L102.07 1027.11L99.93 1025.34L102.71 1025.16ZM97.78 1025.7L98.8 1028.29L101.58 1028.47L99.44 1030.25L100.13 1032.94L97.78 1031.45L95.42 1032.94L96.11 1030.25L93.97 1028.47L96.75 1028.29ZM96.94 1029.54L97.97 1032.12L100.75 1032.3L98.61 1034.08L99.29 1036.77L96.94 1035.29L94.59 1036.77L95.28 1034.08L93.14 1032.3L95.91 1032.12ZM102.46 1033.08L103.48 1035.67L106.26 1035.85L104.12 1037.62L104.81 1040.32L102.46 1038.83L100.1 1040.32L100.79 1037.62L98.65 1035.85L101.43 1035.67ZM99.51 1036.49L100.54 1039.07L103.31 1039.25L101.18 1041.03L101.86 1043.73L99.51 1042.24L97.16 1043.73L97.85 1041.03L95.71 1039.25L98.48 1039.07ZM101.52 1039.16L102.55 1041.74L105.33 1041.92L103.19 1043.7L103.87 1046.39L101.52 1044.91L99.17 1046.39L99.86 1043.7L97.72 1041.92L100.49 1041.74ZM99.05 1043.03L100.07 1045.62L102.85 1045.8L100.71 1047.58L101.4 1050.27L99.05 1048.78L96.69 1050.27L97.38 1047.58L95.24 1045.8L98.02 1045.62ZM101.23 1047.02L102.25 1049.61L105.03 1049.79L102.89 1051.56L103.58 1054.26L101.23 1052.77L98.87 1054.26L99.56 1051.56L97.42 1049.79L100.2 1049.61ZM99.88 1049.16L100.91 1051.75L103.68 1051.92L101.54 1053.7L102.23 1056.4L99.88 1054.91L97.53 1056.4L98.22 1053.7L96.08 1051.92L98.85 1051.75ZM107.09 1052.05L108.12 1054.64L110.89 1054.82L108.75 1056.59L109.44 1059.29L107.09 1057.8L104.74 1059.29L105.42 1056.59L103.28 1054.82L106.06 1054.64ZM106.95 1076.91L107.98 1079.5L110.76 1079.67L108.62 1081.45L109.3 1084.15L106.95 1082.66L104.6 1084.15L105.29 1081.45L103.15 1079.67L105.92 1079.5ZM91.89 1078.13L92.92 1080.72L95.7 1080.9L93.56 1082.67L94.24 1085.37L91.89 1083.88L89.54 1085.37L90.23 1082.67L88.09 1080.9L90.86 1080.72ZM90.48 1067.75L91.5 1070.33L94.28 1070.51L92.14 1072.29L92.83 1074.98L90.48 1073.5L88.12 1074.98L88.81 1072.29L86.67 1070.51L89.45 1070.33ZM95.07 1065.46L96.1 1068.04L98.88 1068.22L96.74 1070L97.42 1072.69L95.07 1071.21L92.72 1072.69L93.41 1070L91.27 1068.22L94.04 1068.04ZM104.12 1069.83L105.14 1072.42L107.92 1072.6L105.78 1074.37L106.47 1077.07L104.12 1075.58L101.76 1077.07L102.45 1074.37L100.31 1072.6L103.09 1072.42ZM93.88 1073.17L94.91 1075.76L97.69 1075.94L95.55 1077.71L96.23 1080.41L93.88 1078.92L91.53 1080.41L92.22 1077.71L90.08 1075.94L92.85 1075.76ZM87.95 1067.5L88.98 1070.08L91.76 1070.26L89.62 1072.04L90.3 1074.73L87.95 1073.25L85.6 1074.73L86.29 1072.04L84.15 1070.26L86.92 1070.08ZM104.39 1076.08L105.41 1078.66L108.19 1078.84L106.05 1080.62L106.74 1083.31L104.39 1081.83L102.03 1083.31L102.72 1080.62L100.58 1078.84L103.36 1078.66ZM93.17 1075.36L94.19 1077.94L96.97 1078.12L94.83 1079.9L95.52 1082.59L93.17 1081.11L90.81 1082.59L91.5 1079.9L89.36 1078.12L92.14 1077.94ZM92.26 1073.21L93.29 1075.79L96.06 1075.97L93.92 1077.75L94.61 1080.44L92.26 1078.96L89.91 1080.44L90.59 1077.75L88.45 1075.97L91.23 1075.79ZM93.21 1075.2L94.24 1077.79L97.01 1077.97L94.87 1079.74L95.56 1082.44L93.21 1080.95L90.86 1082.44L91.55 1079.74L89.41 1077.97L92.18 1077.79ZM98.02 1064.89L99.05 1067.47L101.83 1067.65L99.69 1069.43L100.37 1072.12L98.02 1070.64L95.67 1072.12L96.36 1069.43L94.22 1067.65L96.99 1067.47ZM88.73 1064.41L89.76 1066.99L92.54 1067.17L90.4 1068.95L91.08 1071.64L88.73 1070.16L86.38 1071.64L87.07 1068.95L84.93 1067.17L87.7 1066.99ZM105.44 1068.54L106.47 1071.12L109.24 1071.3L107.1 1073.08L107.79 1075.77L105.44 1074.29L103.09 1075.77L103.77 1073.08L101.63 1071.3L104.41 1071.12ZM99.33 1072.44L100.36 1075.02L103.14 1075.2L101 1076.98L101.68 1079.67L99.33 1078.19L96.98 1079.67L97.67 1076.98L95.53 1075.2L98.31 1075.02ZM95 1075.28L96.03 1077.86L98.8 1078.04L96.66 1079.82L97.35 1082.51L95 1081.03L92.65 1082.51L93.33 1079.82L91.2 1078.04L93.97 1077.86ZM95.32 1066.31L96.35 1068.9L99.13 1069.08L96.99 1070.85L97.67 1073.55L95.32 1072.06L92.97 1073.55L93.66 1070.85L91.52 1069.08L94.29 1068.9ZM92.24 1065.24L93.27 1067.82L96.04 1068L93.9 1069.78L94.59 1072.47L92.24 1070.99L89.89 1072.47L90.57 1069.78L88.43 1068L91.21 1067.82ZM86.84 1065.18L87.87 1067.77L90.65 1067.95L88.51 1069.72L89.19 1072.42L86.84 1070.93L84.49 1072.42L85.18 1069.72L83.04 1067.95L85.81 1067.77ZM108.51 1065.62L109.54 1068.21L112.31 1068.39L110.17 1070.16L110.86 1072.86L108.51 1071.37L106.16 1072.86L106.84 1070.16L104.7 1068.39L107.48 1068.21ZM87.72 1065.01L88.75 1067.6L91.53 1067.78L89.39 1069.56L90.07 1072.25L87.72 1070.76L85.37 1072.25L86.06 1069.56L83.92 1067.78L86.69 1067.6ZM92.96 1074.13L93.99 1076.72L96.76 1076.9L94.62 1078.67L95.31 1081.37L92.96 1079.88L90.61 1081.37L91.29 1078.67L89.15 1076.9L91.93 1076.72ZM109.08 1086.78L110.1 1089.36L112.88 1089.54L110.74 1091.32L111.43 1094.02L109.08 1092.53L106.72 1094.02L107.41 1091.32L105.27 1089.54L108.05 1089.36ZM110.87 1090.08L111.9 1092.66L114.68 1092.84L112.54 1094.62L113.22 1097.31L110.87 1095.83L108.52 1097.31L109.21 1094.62L107.07 1092.84L109.85 1092.66ZM108.27 1093.14L109.3 1095.73L112.07 1095.91L109.93 1097.68L110.62 1100.38L108.27 1098.89L105.92 1100.38L106.6 1097.68L104.46 1095.91L107.24 1095.73ZM102.96 1098.09L103.99 1100.67L106.76 1100.85L104.62 1102.63L105.31 1105.32L102.96 1103.84L100.61 1105.32L101.29 1102.63L99.15 1100.85L101.93 1100.67ZM100.33 1100.92L101.36 1103.5L104.13 1103.68L101.99 1105.46L102.68 1108.15L100.33 1106.67L97.98 1108.15L98.67 1105.46L96.53 1103.68L99.3 1103.5ZM100.71 1103.27L101.74 1105.86L104.51 1106.04L102.37 1107.81L103.06 1110.51L100.71 1109.02L98.36 1110.51L99.04 1107.81L96.9 1106.04L99.68 1105.86ZM100.22 1104.92L101.24 1107.51L104.02 1107.69L101.88 1109.46L102.57 1112.16L100.22 1110.67L97.86 1112.16L98.55 1109.46L96.41 1107.69L99.19 1107.51ZM240.1 1116.15L241.13 1118.73L243.9 1118.91L241.76 1120.69L242.45 1123.39L240.1 1121.9L237.75 1123.39L238.44 1120.69L236.3 1118.91L239.07 1118.73Z" class="mK"/>
<path d="M83.1 1098V1110.2H91.2Z" class="gtri"/>
<path d="M135 1112.34H59.5" class="mag"/>
<path d="M52.5 1112.34l7.6 -3.6v7.2Z" fill="#ff00ff"/>
<path d="M75.88 1034.7V1130" class="blu"/>
<path d="M75.88 1136.3l-3.7 -7.8h7.4Z" fill="#0a6cff"/>
<path d="M50.55 1137.55v5M50.55 1137.55h-5M78.7 1137.55v3M50.55 1113.99h-3M106.85 1137.55v5M50.55 1090.43h-5M135 1137.55v3M50.55 1066.87h-3M163.15 1137.55v5M50.55 1043.31h-5M191.3 1137.55v3M50.55 1019.75h-3M219.45 1137.55v5M50.55 996.19h-5M247.6 1137.55v3M50.55 972.63h-3M275.75 1137.55v5M50.55 949.07h-5M303.9 1137.55v3M50.55 925.51h-3M332.05 1137.55v5M50.55 901.95h-5" class="tk"/>
<path d="M50.55 901.35V1138.15" stroke="#111" stroke-width="1.2" fill="none"/>
<path d="M49.95 901.95H332.05V1137.55H49.95" class="fr"/>
<text x="47.25" y="1156.2" class="tl" textLength="6.4" lengthAdjust="spacingAndGlyphs">0</text>
<text x="100.35" y="1156.2" class="tl" textLength="12.8" lengthAdjust="spacingAndGlyphs">20</text>
<text x="156.65" y="1156.2" class="tl" textLength="12.8" lengthAdjust="spacingAndGlyphs">40</text>
<text x="212.95" y="1156.2" class="tl" textLength="12.8" lengthAdjust="spacingAndGlyphs">60</text>
<text x="269.25" y="1156.2" class="tl" textLength="12.8" lengthAdjust="spacingAndGlyphs">80</text>
<text x="322.35" y="1156.2" class="tl" textLength="19.2" lengthAdjust="spacingAndGlyphs">100</text>
<text x="35.95" y="1141.45" class="tl" textLength="6.4" lengthAdjust="spacingAndGlyphs">0</text>
<text x="29.55" y="1094.33" class="tl" textLength="12.8" lengthAdjust="spacingAndGlyphs">20</text>
<text x="29.55" y="1047.21" class="tl" textLength="12.8" lengthAdjust="spacingAndGlyphs">40</text>
<text x="29.55" y="1000.09" class="tl" textLength="12.8" lengthAdjust="spacingAndGlyphs">60</text>
<text x="29.55" y="952.97" class="tl" textLength="12.8" lengthAdjust="spacingAndGlyphs">80</text>
<text x="23.15" y="905.85" class="tl" textLength="19.2" lengthAdjust="spacingAndGlyphs">100</text>
<text x="79.6" y="1171.3" class="at" textLength="54.4" lengthAdjust="spacingAndGlyphs">Estimated</text>
<text x="138.8" y="1171.3" class="at" textLength="68.7" lengthAdjust="spacingAndGlyphs">compressive</text>
<text x="213.7" y="1171.3" class="at" textLength="45" lengthAdjust="spacingAndGlyphs">strength</text>
<text x="261.5" y="1171.3" class="at" textLength="26.6" lengthAdjust="spacingAndGlyphs">from</text>
<text x="155.1" y="1184.8" class="at" textLength="57.6" lengthAdjust="spacingAndGlyphs">RHT (MPa)</text>
<g transform="translate(8.9 1107) rotate(-90)">
<text x="0" y="0" class="yt" textLength="25.6" lengthAdjust="spacingAndGlyphs">Core</text>
<text x="30.5" y="0" class="yt" textLength="67.3" lengthAdjust="spacingAndGlyphs">compressive</text>
<text x="102.8" y="0" class="yt" textLength="46" lengthAdjust="spacingAndGlyphs">strength</text>
<text x="154.6" y="0" class="yt" textLength="28.7" lengthAdjust="spacingAndGlyphs">(MPa)</text>
</g>
<text x="140.3" y="919.6" class="ti" text-anchor="middle">Mojeon-yukgyo Bridge,</text>
<text x="140.3" y="934.5" class="ti" text-anchor="middle">Slab</text>
<text x="260.6" y="1078.2" class="lg" textLength="29.8" lengthAdjust="spacingAndGlyphs">JSMS</text>
<text x="260.6" y="1092.3" class="lg" textLength="15.8" lengthAdjust="spacingAndGlyphs">AIJ</text>
<text x="260.6" y="1106.3" class="lg" textLength="45" lengthAdjust="spacingAndGlyphs">US Army</text>
<text x="260.6" y="1119.9" class="lg" textLength="29.8" lengthAdjust="spacingAndGlyphs">KMST</text>
</g>
</svg></body></html>
